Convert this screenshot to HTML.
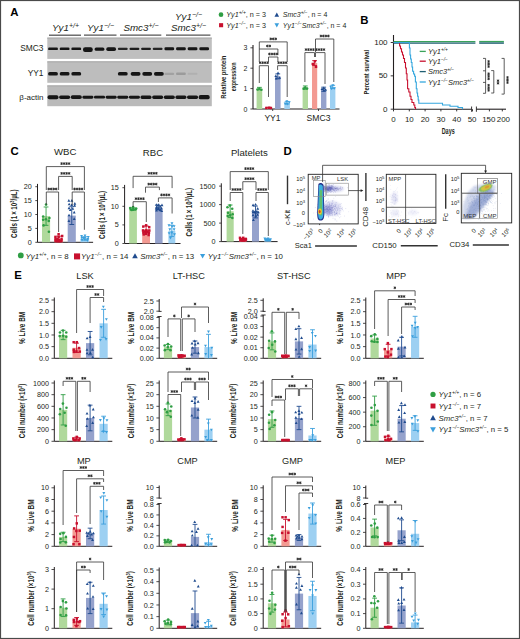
<!DOCTYPE html><html><head><meta charset="utf-8"><title>Figure</title><style>html,body{margin:0;padding:0;background:#fff;width:520px;height:639px;overflow:hidden;}svg{display:block;font-family:"Liberation Sans",sans-serif;}</style></head><body><svg width="520" height="639" viewBox="0 0 520 639" font-family='"Liberation Sans", sans-serif'><rect width="520" height="639" fill="#fff"/><defs><filter id="bl" x="-20%" y="-50%" width="140%" height="200%"><feGaussianBlur stdDeviation="0.55"/></filter><filter id="b1" x="-50%" y="-50%" width="200%" height="200%"><feGaussianBlur stdDeviation="1.1"/></filter><filter id="b0" x="-50%" y="-50%" width="200%" height="200%"><feGaussianBlur stdDeviation="0.5"/></filter></defs>
<text x="10.30" y="15.90" font-size="11.4" text-anchor="start" font-weight="bold" font-style="normal" fill="#000">A</text>
<text x="65.50" y="30.80" font-size="9.8" text-anchor="middle" font-weight="normal" font-style="italic" fill="#231f20">Yy1<tspan baseline-shift="3.1" font-size="7.0">+/+</tspan></text>
<text x="100.50" y="30.80" font-size="9.8" text-anchor="middle" font-weight="normal" font-style="italic" fill="#231f20">Yy1<tspan baseline-shift="3.1" font-size="7.0">&#8722;/&#8722;</tspan></text>
<text x="141.00" y="30.80" font-size="9.8" text-anchor="middle" font-weight="normal" font-style="italic" fill="#231f20">Smc3<tspan baseline-shift="3.1" font-size="7.0">+/&#8722;</tspan></text>
<text x="188.50" y="20.20" font-size="9.8" text-anchor="middle" font-weight="normal" font-style="italic" fill="#231f20">Yy1<tspan baseline-shift="3.1" font-size="7.0">&#8722;/&#8722;</tspan></text>
<text x="188.50" y="30.80" font-size="9.8" text-anchor="middle" font-weight="normal" font-style="italic" fill="#231f20">Smc3<tspan baseline-shift="3.1" font-size="7.0">+/&#8722;</tspan></text>
<line x1="49.00" y1="35.20" x2="81.00" y2="35.20" stroke="#555" stroke-width="1.3"/>
<line x1="84.00" y1="35.20" x2="116.50" y2="35.20" stroke="#555" stroke-width="1.3"/>
<line x1="120.00" y1="35.20" x2="161.30" y2="35.20" stroke="#555" stroke-width="1.3"/>
<line x1="166.00" y1="35.20" x2="210.40" y2="35.20" stroke="#555" stroke-width="1.3"/>
<rect x="47.30" y="37.60" width="164.50" height="21.30" fill="#bfbfbf"/>
<rect x="47.30" y="37.60" width="164.50" height="1.20" fill="#adadad"/>
<text x="43.50" y="51.25" font-size="8.4" text-anchor="end" font-weight="normal" font-style="normal" fill="#231f20">SMC3</text>
<rect x="47.30" y="61.30" width="164.50" height="21.50" fill="#bdbdbd"/>
<rect x="47.30" y="61.30" width="164.50" height="1.20" fill="#adadad"/>
<text x="43.50" y="76.25" font-size="8.4" text-anchor="end" font-weight="normal" font-style="normal" fill="#231f20">YY1</text>
<rect x="47.30" y="85.40" width="164.50" height="20.80" fill="#bababa"/>
<rect x="47.30" y="85.40" width="164.50" height="1.20" fill="#adadad"/>
<text x="43.50" y="100.20" font-size="8.0" text-anchor="end" font-weight="normal" font-style="normal" fill="#231f20">&#946;-actin</text>
<rect x="48.10" y="47.50" width="9.80" height="2.60" rx="1.18" fill="#151515" opacity="1.00" filter="url(#bl)"/>
<rect x="48.10" y="72.00" width="9.80" height="3.60" rx="1.64" fill="#151515" opacity="1.00" filter="url(#bl)"/>
<rect x="47.50" y="95.20" width="11.00" height="4.00" rx="1.82" fill="#151515" opacity="1.00" filter="url(#bl)"/>
<rect x="59.73" y="47.50" width="9.80" height="2.60" rx="1.18" fill="#151515" opacity="1.00" filter="url(#bl)"/>
<rect x="59.73" y="72.10" width="9.80" height="3.40" rx="1.55" fill="#151515" opacity="1.00" filter="url(#bl)"/>
<rect x="59.13" y="95.40" width="11.00" height="3.60" rx="1.64" fill="#151515" opacity="1.00" filter="url(#bl)"/>
<rect x="71.36" y="47.50" width="9.80" height="2.60" rx="1.18" fill="#151515" opacity="1.00" filter="url(#bl)"/>
<rect x="71.36" y="72.10" width="9.80" height="3.40" rx="1.55" fill="#151515" opacity="1.00" filter="url(#bl)"/>
<rect x="70.76" y="95.30" width="11.00" height="3.80" rx="1.73" fill="#151515" opacity="1.00" filter="url(#bl)"/>
<rect x="82.99" y="47.20" width="9.80" height="4.80" rx="2.18" fill="#151515" opacity="1.00" filter="url(#bl)"/>
<rect x="82.39" y="95.70" width="11.00" height="3.00" rx="1.36" fill="#151515" opacity="1.00" filter="url(#bl)"/>
<rect x="94.62" y="47.40" width="9.80" height="3.40" rx="1.55" fill="#151515" opacity="1.00" filter="url(#bl)"/>
<rect x="94.02" y="95.80" width="11.00" height="2.80" rx="1.27" fill="#151515" opacity="1.00" filter="url(#bl)"/>
<rect x="106.25" y="47.20" width="9.80" height="3.80" rx="1.73" fill="#151515" opacity="1.00" filter="url(#bl)"/>
<rect x="105.65" y="95.70" width="11.00" height="3.00" rx="1.36" fill="#151515" opacity="1.00" filter="url(#bl)"/>
<rect x="117.88" y="47.70" width="9.80" height="2.20" rx="1.00" fill="#151515" opacity="0.90" filter="url(#bl)"/>
<rect x="117.88" y="72.00" width="9.80" height="3.60" rx="1.64" fill="#151515" opacity="1.00" filter="url(#bl)"/>
<rect x="117.28" y="95.70" width="11.00" height="3.00" rx="1.36" fill="#151515" opacity="1.00" filter="url(#bl)"/>
<rect x="129.51" y="47.70" width="9.80" height="2.20" rx="1.00" fill="#151515" opacity="0.95" filter="url(#bl)"/>
<rect x="130.71" y="71.95" width="9.80" height="3.70" rx="1.68" fill="#151515" opacity="1.00" filter="url(#bl)"/>
<rect x="128.91" y="95.65" width="11.00" height="3.10" rx="1.41" fill="#151515" opacity="1.00" filter="url(#bl)"/>
<rect x="141.14" y="47.65" width="9.80" height="2.30" rx="1.05" fill="#151515" opacity="0.95" filter="url(#bl)"/>
<rect x="142.34" y="71.90" width="9.80" height="3.80" rx="1.73" fill="#151515" opacity="1.00" filter="url(#bl)"/>
<rect x="140.54" y="95.50" width="11.00" height="3.40" rx="1.55" fill="#151515" opacity="1.00" filter="url(#bl)"/>
<rect x="152.77" y="47.70" width="9.80" height="2.20" rx="1.00" fill="#151515" opacity="0.90" filter="url(#bl)"/>
<rect x="153.97" y="71.90" width="9.80" height="3.80" rx="1.73" fill="#151515" opacity="1.00" filter="url(#bl)"/>
<rect x="152.17" y="95.50" width="11.00" height="3.40" rx="1.55" fill="#151515" opacity="1.00" filter="url(#bl)"/>
<rect x="164.40" y="47.30" width="9.80" height="3.00" rx="1.36" fill="#151515" opacity="1.00" filter="url(#bl)"/>
<rect x="164.40" y="72.70" width="9.80" height="2.20" rx="1.00" fill="#151515" opacity="0.16" filter="url(#bl)"/>
<rect x="163.80" y="95.40" width="11.00" height="3.60" rx="1.64" fill="#151515" opacity="1.00" filter="url(#bl)"/>
<rect x="176.03" y="47.35" width="9.80" height="2.90" rx="1.32" fill="#151515" opacity="1.00" filter="url(#bl)"/>
<rect x="176.03" y="72.60" width="9.80" height="2.40" rx="1.09" fill="#151515" opacity="0.20" filter="url(#bl)"/>
<rect x="175.43" y="95.40" width="11.00" height="3.60" rx="1.64" fill="#151515" opacity="1.00" filter="url(#bl)"/>
<rect x="187.66" y="47.25" width="9.80" height="3.10" rx="1.41" fill="#151515" opacity="1.00" filter="url(#bl)"/>
<rect x="187.66" y="72.80" width="9.80" height="2.00" rx="0.91" fill="#151515" opacity="0.07" filter="url(#bl)"/>
<rect x="187.06" y="95.50" width="11.00" height="3.40" rx="1.55" fill="#151515" opacity="1.00" filter="url(#bl)"/>
<rect x="199.29" y="47.25" width="9.80" height="3.10" rx="1.41" fill="#151515" opacity="1.00" filter="url(#bl)"/>
<rect x="198.69" y="95.10" width="11.00" height="4.20" rx="1.91" fill="#151515" opacity="1.00" filter="url(#bl)"/>
<circle cx="221.00" cy="14.70" r="2.34" fill="#2f9e44"/>
<text x="0.00" y="0.00" font-size="7.0" text-anchor="start" font-weight="normal" font-style="italic" fill="#231f20" transform="translate(226.30,17.40) scale(1.03,1)">Yy1<tspan baseline-shift="2.7" font-size="4.8">+/+</tspan><tspan font-style="normal">, n = 3</tspan></text>
<rect x="219.06" y="23.16" width="4.08" height="4.08" fill="#c8102e"/>
<text x="0.00" y="0.00" font-size="7.0" text-anchor="start" font-weight="normal" font-style="italic" fill="#231f20" transform="translate(226.30,28.20) scale(1.03,1)">Yy1<tspan baseline-shift="2.7" font-size="4.8">&#8722;/&#8722;</tspan><tspan font-style="normal">, n = 3</tspan></text>
<polygon points="276.80,12.50 279.10,16.64 274.50,16.64" fill="#1f4b8e"/>
<text x="282.80" y="17.30" font-size="7.0" text-anchor="start" font-weight="normal" font-style="italic" fill="#231f20">Smc3<tspan baseline-shift="2.7" font-size="4.8">+/&#8722;</tspan><tspan font-style="normal">, n = 4</tspan></text>
<polygon points="276.80,27.50 279.10,23.36 274.50,23.36" fill="#3b9fdc"/>
<text x="282.80" y="28.20" font-size="7.0" text-anchor="start" font-weight="normal" font-style="italic" fill="#231f20">Yy1<tspan baseline-shift="2.7" font-size="4.8">&#8722;/&#8722;</tspan>Smc3<tspan baseline-shift="2.7" font-size="4.8">+/&#8722;</tspan><tspan font-style="normal">, n = 4</tspan></text>
<line x1="253.00" y1="45.00" x2="253.00" y2="109.00" stroke="#231f20" stroke-width="1.1"/>
<line x1="250.40" y1="109.00" x2="253.00" y2="109.00" stroke="#231f20" stroke-width="0.8"/>
<text x="247.40" y="111.52" font-size="7.0" text-anchor="end" font-weight="normal" font-style="normal" fill="#231f20">0</text>
<line x1="250.40" y1="88.60" x2="253.00" y2="88.60" stroke="#231f20" stroke-width="0.8"/>
<text x="247.40" y="91.12" font-size="7.0" text-anchor="end" font-weight="normal" font-style="normal" fill="#231f20">1</text>
<line x1="250.40" y1="68.20" x2="253.00" y2="68.20" stroke="#231f20" stroke-width="0.8"/>
<text x="247.40" y="70.72" font-size="7.0" text-anchor="end" font-weight="normal" font-style="normal" fill="#231f20">2</text>
<line x1="250.40" y1="47.80" x2="253.00" y2="47.80" stroke="#231f20" stroke-width="0.8"/>
<text x="247.40" y="50.32" font-size="7.0" text-anchor="end" font-weight="normal" font-style="normal" fill="#231f20">3</text>
<line x1="253.00" y1="109.00" x2="339.50" y2="109.00" stroke="#231f20" stroke-width="1.1"/>
<line x1="272.70" y1="109.00" x2="272.70" y2="111.00" stroke="#231f20" stroke-width="0.8"/>
<line x1="318.50" y1="109.00" x2="318.50" y2="111.00" stroke="#231f20" stroke-width="0.8"/>
<text x="272.50" y="121.20" font-size="8.6" text-anchor="middle" font-weight="normal" font-style="normal" fill="#231f20">YY1</text>
<text x="318.50" y="121.20" font-size="8.6" text-anchor="middle" font-weight="normal" font-style="normal" fill="#231f20">SMC3</text>
<text x="0.00" y="0.00" font-size="7.4" text-anchor="middle" font-weight="bold" font-style="normal" fill="#231f20" transform="translate(226.20,77.20) rotate(-90)" textLength="43" lengthAdjust="spacingAndGlyphs">Relative protein</text>
<text x="0.00" y="0.00" font-size="7.4" text-anchor="middle" font-weight="bold" font-style="normal" fill="#231f20" transform="translate(236.40,76.90) rotate(-90)" textLength="28.8" lengthAdjust="spacingAndGlyphs">expression</text>
<rect x="256.60" y="88.60" width="5.60" height="20.40" fill="#b0d99c"/>
<circle cx="259.41" cy="88.74" r="1.30" fill="#2f9e44"/>
<circle cx="257.53" cy="89.55" r="1.30" fill="#2f9e44"/>
<circle cx="261.40" cy="89.70" r="1.30" fill="#2f9e44"/>
<line x1="259.40" y1="87.38" x2="259.40" y2="89.82" stroke="#2f9e44" stroke-width="0.9"/>
<line x1="257.00" y1="87.38" x2="261.80" y2="87.38" stroke="#2f9e44" stroke-width="0.9"/>
<line x1="257.00" y1="89.82" x2="261.80" y2="89.82" stroke="#2f9e44" stroke-width="0.9"/>
<rect x="265.80" y="107.98" width="6.00" height="1.02" fill="#f39a92"/>
<rect x="267.83" y="106.51" width="2.46" height="2.46" fill="#c8102e"/>
<rect x="265.11" y="106.73" width="2.46" height="2.46" fill="#c8102e"/>
<rect x="269.68" y="106.77" width="2.46" height="2.46" fill="#c8102e"/>
<line x1="268.80" y1="107.37" x2="268.80" y2="108.59" stroke="#c8102e" stroke-width="0.9"/>
<line x1="266.40" y1="107.37" x2="271.20" y2="107.37" stroke="#c8102e" stroke-width="0.9"/>
<rect x="275.00" y="76.36" width="5.60" height="32.64" fill="#95a2cc"/>
<polygon points="278.04,71.46 279.49,74.07 276.59,74.07" fill="#1f4b8e"/>
<polygon points="275.83,74.40 277.28,77.01 274.38,77.01" fill="#1f4b8e"/>
<polygon points="279.66,76.24 281.11,78.85 278.21,78.85" fill="#1f4b8e"/>
<polygon points="276.23,76.88 277.68,79.49 274.78,79.49" fill="#1f4b8e"/>
<line x1="277.80" y1="73.91" x2="277.80" y2="78.81" stroke="#1f4b8e" stroke-width="0.9"/>
<line x1="275.40" y1="73.91" x2="280.20" y2="73.91" stroke="#1f4b8e" stroke-width="0.9"/>
<line x1="275.40" y1="78.81" x2="280.20" y2="78.81" stroke="#1f4b8e" stroke-width="0.9"/>
<rect x="284.30" y="102.88" width="5.60" height="6.12" fill="#9dd0f2"/>
<polygon points="286.87,102.97 288.32,100.36 285.42,100.36" fill="#3b9fdc"/>
<polygon points="289.27,103.85 290.72,101.24 287.82,101.24" fill="#3b9fdc"/>
<polygon points="285.15,105.04 286.60,102.43 283.70,102.43" fill="#3b9fdc"/>
<polygon points="287.25,105.50 288.70,102.89 285.80,102.89" fill="#3b9fdc"/>
<line x1="287.10" y1="101.66" x2="287.10" y2="104.10" stroke="#3b9fdc" stroke-width="0.9"/>
<line x1="284.70" y1="101.66" x2="289.50" y2="101.66" stroke="#3b9fdc" stroke-width="0.9"/>
<line x1="284.70" y1="104.10" x2="289.50" y2="104.10" stroke="#3b9fdc" stroke-width="0.9"/>
<rect x="302.60" y="87.58" width="5.40" height="21.42" fill="#b0d99c"/>
<circle cx="305.21" cy="87.60" r="1.30" fill="#2f9e44"/>
<circle cx="307.08" cy="88.43" r="1.30" fill="#2f9e44"/>
<circle cx="303.66" cy="88.64" r="1.30" fill="#2f9e44"/>
<line x1="305.30" y1="85.95" x2="305.30" y2="89.21" stroke="#2f9e44" stroke-width="0.9"/>
<line x1="302.90" y1="85.95" x2="307.70" y2="85.95" stroke="#2f9e44" stroke-width="0.9"/>
<line x1="302.90" y1="89.21" x2="307.70" y2="89.21" stroke="#2f9e44" stroke-width="0.9"/>
<rect x="312.00" y="63.10" width="5.20" height="45.90" fill="#f39a92"/>
<rect x="313.66" y="60.06" width="2.46" height="2.46" fill="#c8102e"/>
<rect x="311.55" y="62.73" width="2.46" height="2.46" fill="#c8102e"/>
<rect x="314.77" y="65.59" width="2.46" height="2.46" fill="#c8102e"/>
<line x1="314.60" y1="60.65" x2="314.60" y2="65.55" stroke="#c8102e" stroke-width="0.9"/>
<line x1="312.20" y1="60.65" x2="317.00" y2="60.65" stroke="#c8102e" stroke-width="0.9"/>
<line x1="312.20" y1="65.55" x2="317.00" y2="65.55" stroke="#c8102e" stroke-width="0.9"/>
<rect x="321.00" y="89.21" width="5.40" height="19.79" fill="#95a2cc"/>
<polygon points="323.80,86.50 325.25,89.11 322.35,89.11" fill="#1f4b8e"/>
<polygon points="322.04,87.37 323.49,89.98 320.59,89.98" fill="#1f4b8e"/>
<polygon points="325.50,88.02 326.95,90.63 324.05,90.63" fill="#1f4b8e"/>
<polygon points="323.87,88.95 325.32,91.56 322.42,91.56" fill="#1f4b8e"/>
<line x1="323.70" y1="87.17" x2="323.70" y2="91.25" stroke="#1f4b8e" stroke-width="0.9"/>
<line x1="321.30" y1="87.17" x2="326.10" y2="87.17" stroke="#1f4b8e" stroke-width="0.9"/>
<line x1="321.30" y1="91.25" x2="326.10" y2="91.25" stroke="#1f4b8e" stroke-width="0.9"/>
<rect x="330.00" y="86.97" width="5.40" height="22.03" fill="#9dd0f2"/>
<polygon points="332.86,86.79 334.31,84.18 331.41,84.18" fill="#3b9fdc"/>
<polygon points="330.73,88.35 332.18,85.74 329.28,85.74" fill="#3b9fdc"/>
<polygon points="334.37,89.86 335.82,87.25 332.92,87.25" fill="#3b9fdc"/>
<polygon points="331.61,90.14 333.06,87.53 330.16,87.53" fill="#3b9fdc"/>
<line x1="332.70" y1="85.34" x2="332.70" y2="88.60" stroke="#3b9fdc" stroke-width="0.9"/>
<line x1="330.30" y1="85.34" x2="335.10" y2="85.34" stroke="#3b9fdc" stroke-width="0.9"/>
<line x1="330.30" y1="88.60" x2="335.10" y2="88.60" stroke="#3b9fdc" stroke-width="0.9"/>
<polyline points="259.30,83.00 259.30,65.70 268.50,65.70 268.50,97.00" fill="none" stroke="#333" stroke-width="0.8"/>
<path d="M260.15 61.75L260.15 63.65M259.33 62.23L260.97 63.18M260.97 62.23L259.33 63.18" stroke="#2a2a2a" stroke-width="0.9" stroke-linecap="round"/>
<path d="M262.65 61.75L262.65 63.65M261.83 62.23L263.47 63.18M263.47 62.23L261.83 63.18" stroke="#2a2a2a" stroke-width="0.9" stroke-linecap="round"/>
<path d="M265.15 61.75L265.15 63.65M264.33 62.23L265.97 63.18M265.97 62.23L264.33 63.18" stroke="#2a2a2a" stroke-width="0.9" stroke-linecap="round"/>
<path d="M267.65 61.75L267.65 63.65M266.83 62.23L268.47 63.18M268.47 62.23L266.83 63.18" stroke="#2a2a2a" stroke-width="0.9" stroke-linecap="round"/>
<polyline points="277.60,70.00 277.60,65.70 287.20,65.70 287.20,97.00" fill="none" stroke="#333" stroke-width="0.8"/>
<path d="M278.65 61.75L278.65 63.65M277.83 62.23L279.47 63.18M279.47 62.23L277.83 63.18" stroke="#2a2a2a" stroke-width="0.9" stroke-linecap="round"/>
<path d="M281.15 61.75L281.15 63.65M280.33 62.23L281.97 63.18M281.97 62.23L280.33 63.18" stroke="#2a2a2a" stroke-width="0.9" stroke-linecap="round"/>
<path d="M283.65 61.75L283.65 63.65M282.83 62.23L284.47 63.18M284.47 62.23L282.83 63.18" stroke="#2a2a2a" stroke-width="0.9" stroke-linecap="round"/>
<path d="M286.15 61.75L286.15 63.65M285.33 62.23L286.97 63.18M286.97 62.23L285.33 63.18" stroke="#2a2a2a" stroke-width="0.9" stroke-linecap="round"/>
<polyline points="268.50,62.00 268.50,57.00 277.90,57.00 277.90,62.00" fill="none" stroke="#333" stroke-width="0.8"/>
<path d="M269.45 53.05L269.45 54.95M268.63 53.52L270.27 54.48M270.27 53.52L268.63 54.48" stroke="#2a2a2a" stroke-width="0.9" stroke-linecap="round"/>
<path d="M271.95 53.05L271.95 54.95M271.13 53.52L272.77 54.48M272.77 53.52L271.13 54.48" stroke="#2a2a2a" stroke-width="0.9" stroke-linecap="round"/>
<path d="M274.45 53.05L274.45 54.95M273.63 53.52L275.27 54.48M275.27 53.52L273.63 54.48" stroke="#2a2a2a" stroke-width="0.9" stroke-linecap="round"/>
<path d="M276.95 53.05L276.95 54.95M276.13 53.52L277.77 54.48M277.77 53.52L276.13 54.48" stroke="#2a2a2a" stroke-width="0.9" stroke-linecap="round"/>
<polyline points="259.30,62.00 259.30,49.00 277.90,49.00 277.90,55.00" fill="none" stroke="#333" stroke-width="0.8"/>
<path d="M267.35 45.05L267.35 46.95M266.53 45.52L268.17 46.48M268.17 45.52L266.53 46.48" stroke="#2a2a2a" stroke-width="0.9" stroke-linecap="round"/>
<path d="M269.85 45.05L269.85 46.95M269.03 45.52L270.67 46.48M270.67 45.52L269.03 46.48" stroke="#2a2a2a" stroke-width="0.9" stroke-linecap="round"/>
<polyline points="259.30,49.00 259.30,41.90 287.20,41.90 287.20,62.00" fill="none" stroke="#333" stroke-width="0.8"/>
<path d="M270.75 37.95L270.75 39.85M269.93 38.42L271.57 39.38M271.57 38.42L269.93 39.38" stroke="#2a2a2a" stroke-width="0.9" stroke-linecap="round"/>
<path d="M273.25 37.95L273.25 39.85M272.43 38.42L274.07 39.38M274.07 38.42L272.43 39.38" stroke="#2a2a2a" stroke-width="0.9" stroke-linecap="round"/>
<path d="M275.75 37.95L275.75 39.85M274.93 38.42L276.57 39.38M276.57 38.42L274.93 39.38" stroke="#2a2a2a" stroke-width="0.9" stroke-linecap="round"/>
<polyline points="304.90,82.00 304.90,52.60 314.50,52.60 314.50,57.00" fill="none" stroke="#333" stroke-width="0.8"/>
<path d="M305.95 48.65L305.95 50.55M305.13 49.12L306.77 50.08M306.77 49.12L305.13 50.08" stroke="#2a2a2a" stroke-width="0.9" stroke-linecap="round"/>
<path d="M308.45 48.65L308.45 50.55M307.63 49.12L309.27 50.08M309.27 49.12L307.63 50.08" stroke="#2a2a2a" stroke-width="0.9" stroke-linecap="round"/>
<path d="M310.95 48.65L310.95 50.55M310.13 49.12L311.77 50.08M311.77 49.12L310.13 50.08" stroke="#2a2a2a" stroke-width="0.9" stroke-linecap="round"/>
<path d="M313.45 48.65L313.45 50.55M312.63 49.12L314.27 50.08M314.27 49.12L312.63 50.08" stroke="#2a2a2a" stroke-width="0.9" stroke-linecap="round"/>
<polyline points="315.50,57.00 315.50,52.60 325.00,52.60 325.00,84.00" fill="none" stroke="#333" stroke-width="0.8"/>
<path d="M316.50 48.65L316.50 50.55M315.68 49.12L317.32 50.08M317.32 49.12L315.68 50.08" stroke="#2a2a2a" stroke-width="0.9" stroke-linecap="round"/>
<path d="M319.00 48.65L319.00 50.55M318.18 49.12L319.82 50.08M319.82 49.12L318.18 50.08" stroke="#2a2a2a" stroke-width="0.9" stroke-linecap="round"/>
<path d="M321.50 48.65L321.50 50.55M320.68 49.12L322.32 50.08M322.32 49.12L320.68 50.08" stroke="#2a2a2a" stroke-width="0.9" stroke-linecap="round"/>
<path d="M324.00 48.65L324.00 50.55M323.18 49.12L324.82 50.08M324.82 49.12L323.18 50.08" stroke="#2a2a2a" stroke-width="0.9" stroke-linecap="round"/>
<polyline points="315.50,52.00 315.50,39.00 333.80,39.00 333.80,82.00" fill="none" stroke="#333" stroke-width="0.8"/>
<path d="M320.90 35.05L320.90 36.95M320.08 35.52L321.72 36.48M321.72 35.52L320.08 36.48" stroke="#2a2a2a" stroke-width="0.9" stroke-linecap="round"/>
<path d="M323.40 35.05L323.40 36.95M322.58 35.52L324.22 36.48M324.22 35.52L322.58 36.48" stroke="#2a2a2a" stroke-width="0.9" stroke-linecap="round"/>
<path d="M325.90 35.05L325.90 36.95M325.08 35.52L326.72 36.48M326.72 35.52L325.08 36.48" stroke="#2a2a2a" stroke-width="0.9" stroke-linecap="round"/>
<path d="M328.40 35.05L328.40 36.95M327.58 35.52L329.22 36.48M329.22 35.52L327.58 36.48" stroke="#2a2a2a" stroke-width="0.9" stroke-linecap="round"/>
<text x="360.20" y="24.10" font-size="11.4" text-anchor="start" font-weight="bold" font-style="normal" fill="#000">B</text>
<line x1="393.50" y1="35.00" x2="393.50" y2="109.20" stroke="#231f20" stroke-width="1.1"/>
<line x1="390.70" y1="42.50" x2="393.50" y2="42.50" stroke="#231f20" stroke-width="0.9"/>
<text x="0.00" y="0.00" font-size="6.9" text-anchor="end" font-weight="normal" font-style="normal" fill="#231f20" transform="translate(387.60,45.00) scale(1.17,1)">100</text>
<line x1="390.70" y1="75.85" x2="393.50" y2="75.85" stroke="#231f20" stroke-width="0.9"/>
<text x="0.00" y="0.00" font-size="6.9" text-anchor="end" font-weight="normal" font-style="normal" fill="#231f20" transform="translate(387.60,78.35) scale(1.17,1)">50</text>
<line x1="390.70" y1="109.20" x2="393.50" y2="109.20" stroke="#231f20" stroke-width="0.9"/>
<text x="0.00" y="0.00" font-size="6.9" text-anchor="end" font-weight="normal" font-style="normal" fill="#231f20" transform="translate(387.60,111.70) scale(1.17,1)">0</text>
<line x1="393.50" y1="109.20" x2="471.60" y2="109.20" stroke="#231f20" stroke-width="1.1"/>
<line x1="476.40" y1="109.20" x2="506.00" y2="109.20" stroke="#231f20" stroke-width="1.1"/>
<line x1="471.60" y1="106.50" x2="471.60" y2="111.80" stroke="#231f20" stroke-width="0.9"/>
<line x1="476.40" y1="106.50" x2="476.40" y2="111.80" stroke="#231f20" stroke-width="0.9"/>
<line x1="393.50" y1="109.20" x2="393.50" y2="111.40" stroke="#231f20" stroke-width="0.9"/>
<text x="0.00" y="0.00" font-size="6.8" text-anchor="middle" font-weight="normal" font-style="normal" fill="#231f20" transform="translate(393.50,121.50) scale(1.17,1)">0</text>
<line x1="409.30" y1="109.20" x2="409.30" y2="111.40" stroke="#231f20" stroke-width="0.9"/>
<text x="0.00" y="0.00" font-size="6.8" text-anchor="middle" font-weight="normal" font-style="normal" fill="#231f20" transform="translate(409.30,121.50) scale(1.17,1)">10</text>
<line x1="425.10" y1="109.20" x2="425.10" y2="111.40" stroke="#231f20" stroke-width="0.9"/>
<text x="0.00" y="0.00" font-size="6.8" text-anchor="middle" font-weight="normal" font-style="normal" fill="#231f20" transform="translate(425.10,121.50) scale(1.17,1)">20</text>
<line x1="440.90" y1="109.20" x2="440.90" y2="111.40" stroke="#231f20" stroke-width="0.9"/>
<text x="0.00" y="0.00" font-size="6.8" text-anchor="middle" font-weight="normal" font-style="normal" fill="#231f20" transform="translate(440.90,121.50) scale(1.17,1)">30</text>
<line x1="456.70" y1="109.20" x2="456.70" y2="111.40" stroke="#231f20" stroke-width="0.9"/>
<text x="0.00" y="0.00" font-size="6.8" text-anchor="middle" font-weight="normal" font-style="normal" fill="#231f20" transform="translate(456.70,121.50) scale(1.17,1)">40</text>
<line x1="472.50" y1="109.20" x2="472.50" y2="111.40" stroke="#231f20" stroke-width="0.9"/>
<text x="0.00" y="0.00" font-size="6.8" text-anchor="middle" font-weight="normal" font-style="normal" fill="#231f20" transform="translate(472.10,121.50) scale(1.17,1)">50</text>
<line x1="489.40" y1="109.20" x2="489.40" y2="111.40" stroke="#231f20" stroke-width="0.9"/>
<text x="0.00" y="0.00" font-size="6.8" text-anchor="middle" font-weight="normal" font-style="normal" fill="#231f20" transform="translate(488.80,121.50) scale(1.17,1)">150</text>
<line x1="502.30" y1="109.20" x2="502.30" y2="111.40" stroke="#231f20" stroke-width="0.9"/>
<text x="0.00" y="0.00" font-size="6.8" text-anchor="middle" font-weight="normal" font-style="normal" fill="#231f20" transform="translate(503.40,121.50) scale(1.17,1)">200</text>
<text x="448.20" y="133.80" font-size="8.4" text-anchor="middle" font-weight="bold" font-style="normal" fill="#231f20" textLength="13" lengthAdjust="spacingAndGlyphs">Days</text>
<text x="0.00" y="0.00" font-size="8.0" text-anchor="middle" font-weight="bold" font-style="normal" fill="#231f20" transform="translate(368.70,72.20) rotate(-90)" textLength="44.4" lengthAdjust="spacingAndGlyphs">Percent survival</text>
<line x1="393.50" y1="41.60" x2="475.40" y2="41.60" stroke="#3aa35a" stroke-width="1.4"/>
<line x1="479.20" y1="41.60" x2="503.90" y2="41.60" stroke="#3aa35a" stroke-width="1.4"/>
<line x1="393.50" y1="43.10" x2="475.40" y2="43.10" stroke="#1f5f72" stroke-width="1.4"/>
<line x1="479.20" y1="43.10" x2="503.90" y2="43.10" stroke="#1f5f72" stroke-width="1.4"/>
<polyline points="393.50,42.50 398.80,42.50 398.80,42.50 399.60,42.50 399.60,46.00 400.50,46.00 400.50,48.80 401.50,48.80 401.50,52.00 402.50,52.00 402.50,55.00 403.50,55.00 403.50,58.50 404.50,58.50 404.50,62.50 405.50,62.50 405.50,68.00 406.30,68.00 406.30,73.80 407.00,73.80 407.00,80.00 407.60,80.00 407.60,88.80 408.80,88.80 408.80,92.00 410.00,92.00 410.00,96.30 411.00,96.30 411.00,99.50 412.00,99.50 412.00,102.50 413.80,102.50 413.80,105.00 414.80,105.00 414.80,107.50 415.50,107.50 415.50,109.20" fill="none" stroke="#c8102e" stroke-width="1.1"/>
<polyline points="393.50,42.50 408.80,42.50 408.80,42.50 409.40,42.50 409.40,48.00 410.00,48.00 410.00,55.00 410.60,55.00 410.60,59.00 411.30,59.00 411.30,62.50 412.00,62.50 412.00,67.00 412.60,67.00 412.60,71.30 413.60,71.30 413.60,74.00 414.60,74.00 414.60,76.30 415.40,76.30 415.40,82.00 416.30,82.00 416.30,88.80 417.00,88.80 417.00,93.00 417.60,93.00 417.60,96.30 418.20,96.30 418.20,100.00 418.80,100.00 418.80,103.30 442.50,103.30 442.50,105.00 450.00,105.00 450.00,106.30 458.00,106.30 458.00,107.50 462.50,107.50 462.50,109.20" fill="none" stroke="#35a7de" stroke-width="1.1"/>
<line x1="419.70" y1="51.40" x2="425.80" y2="51.40" stroke="#3aa35a" stroke-width="1.3"/>
<text x="428.00" y="54.10" font-size="7.5" text-anchor="start" font-weight="normal" font-style="italic" fill="#231f20">Yy1<tspan baseline-shift="2.6" font-size="4.8">+/+</tspan></text>
<line x1="419.70" y1="61.20" x2="425.80" y2="61.20" stroke="#c8102e" stroke-width="1.3"/>
<text x="428.00" y="63.90" font-size="7.5" text-anchor="start" font-weight="normal" font-style="italic" fill="#231f20">Yy1<tspan baseline-shift="2.6" font-size="4.8">&#8722;/&#8722;</tspan></text>
<line x1="419.70" y1="71.60" x2="425.80" y2="71.60" stroke="#1f5f72" stroke-width="1.3"/>
<text x="428.00" y="74.30" font-size="7.5" text-anchor="start" font-weight="normal" font-style="italic" fill="#231f20">Smc3<tspan baseline-shift="2.6" font-size="4.8">+/&#8722;</tspan></text>
<line x1="419.70" y1="82.00" x2="425.80" y2="82.00" stroke="#35a7de" stroke-width="1.3"/>
<text x="428.00" y="84.70" font-size="7.5" text-anchor="start" font-weight="normal" font-style="italic" fill="#231f20">Yy1<tspan baseline-shift="2.6" font-size="4.8">&#8722;/&#8722;</tspan>Smc3<tspan baseline-shift="2.6" font-size="4.8">+/&#8722;</tspan></text>
<line x1="485.60" y1="58.40" x2="485.60" y2="93.30" stroke="#333" stroke-width="0.8"/>
<line x1="483.00" y1="58.40" x2="485.60" y2="58.40" stroke="#333" stroke-width="0.8"/>
<line x1="483.00" y1="70.80" x2="485.60" y2="70.80" stroke="#333" stroke-width="0.8"/>
<line x1="483.00" y1="82.40" x2="485.60" y2="82.40" stroke="#333" stroke-width="0.8"/>
<line x1="483.00" y1="93.30" x2="485.60" y2="93.30" stroke="#333" stroke-width="0.8"/>
<line x1="493.80" y1="70.60" x2="493.80" y2="93.00" stroke="#333" stroke-width="0.8"/>
<line x1="491.20" y1="70.60" x2="493.80" y2="70.60" stroke="#333" stroke-width="0.8"/>
<line x1="491.20" y1="93.00" x2="493.80" y2="93.00" stroke="#333" stroke-width="0.8"/>
<line x1="504.20" y1="58.40" x2="504.20" y2="94.10" stroke="#333" stroke-width="0.8"/>
<line x1="501.60" y1="58.40" x2="504.20" y2="58.40" stroke="#333" stroke-width="0.8"/>
<line x1="501.60" y1="94.10" x2="504.20" y2="94.10" stroke="#333" stroke-width="0.8"/>
<path d="M488.60 60.55L488.60 62.45M487.78 61.02L489.42 61.98M489.42 61.02L487.78 61.98" stroke="#2a2a2a" stroke-width="0.9" stroke-linecap="round"/>
<path d="M488.60 63.05L488.60 64.95M487.78 63.52L489.42 64.47M489.42 63.52L487.78 64.47" stroke="#2a2a2a" stroke-width="0.9" stroke-linecap="round"/>
<path d="M488.60 65.55L488.60 67.45M487.78 66.03L489.42 66.97M489.42 66.03L487.78 66.97" stroke="#2a2a2a" stroke-width="0.9" stroke-linecap="round"/>
<path d="M488.60 72.85L488.60 74.75M487.78 73.33L489.42 74.27M489.42 73.33L487.78 74.27" stroke="#2a2a2a" stroke-width="0.9" stroke-linecap="round"/>
<path d="M488.60 75.35L488.60 77.25M487.78 75.83L489.42 76.77M489.42 75.83L487.78 76.77" stroke="#2a2a2a" stroke-width="0.9" stroke-linecap="round"/>
<path d="M488.60 77.85L488.60 79.75M487.78 78.33L489.42 79.27M489.42 78.33L487.78 79.27" stroke="#2a2a2a" stroke-width="0.9" stroke-linecap="round"/>
<path d="M488.60 84.35L488.60 86.25M487.78 84.83L489.42 85.77M489.42 84.83L487.78 85.77" stroke="#2a2a2a" stroke-width="0.9" stroke-linecap="round"/>
<path d="M488.60 86.85L488.60 88.75M487.78 87.33L489.42 88.27M489.42 87.33L487.78 88.27" stroke="#2a2a2a" stroke-width="0.9" stroke-linecap="round"/>
<path d="M488.60 89.35L488.60 91.25M487.78 89.83L489.42 90.77M489.42 89.83L487.78 90.77" stroke="#2a2a2a" stroke-width="0.9" stroke-linecap="round"/>
<path d="M498.00 79.80L498.00 81.70M497.18 80.28L498.82 81.22M498.82 80.28L497.18 81.22" stroke="#2a2a2a" stroke-width="0.9" stroke-linecap="round"/>
<path d="M498.00 82.30L498.00 84.20M497.18 82.78L498.82 83.72M498.82 82.78L497.18 83.72" stroke="#2a2a2a" stroke-width="0.9" stroke-linecap="round"/>
<path d="M507.50 76.55L507.50 78.45M506.68 77.03L508.32 77.97M508.32 77.03L506.68 77.97" stroke="#2a2a2a" stroke-width="0.9" stroke-linecap="round"/>
<path d="M507.50 79.05L507.50 80.95M506.68 79.53L508.32 80.47M508.32 79.53L506.68 80.47" stroke="#2a2a2a" stroke-width="0.9" stroke-linecap="round"/>
<path d="M507.50 81.55L507.50 83.45M506.68 82.03L508.32 82.97M508.32 82.03L506.68 82.97" stroke="#2a2a2a" stroke-width="0.9" stroke-linecap="round"/>
<text x="10.60" y="154.60" font-size="11.4" text-anchor="start" font-weight="bold" font-style="normal" fill="#000">C</text>
<text x="65.20" y="155.30" font-size="9.6" text-anchor="middle" font-weight="normal" font-style="normal" fill="#231f20">WBC</text>
<text x="153.00" y="155.80" font-size="9.6" text-anchor="middle" font-weight="normal" font-style="normal" fill="#231f20">RBC</text>
<text x="249.30" y="156.40" font-size="9.6" text-anchor="middle" font-weight="normal" font-style="normal" fill="#231f20">Platelets</text>
<line x1="37.50" y1="183.90" x2="37.50" y2="242.30" stroke="#231f20" stroke-width="1.0"/>
<line x1="35.30" y1="242.30" x2="37.50" y2="242.30" stroke="#231f20" stroke-width="0.8"/>
<text x="31.70" y="244.89" font-size="7.2" text-anchor="end" font-weight="normal" font-style="normal" fill="#231f20">0</text>
<line x1="35.30" y1="228.40" x2="37.50" y2="228.40" stroke="#231f20" stroke-width="0.8"/>
<text x="31.70" y="230.99" font-size="7.2" text-anchor="end" font-weight="normal" font-style="normal" fill="#231f20">5</text>
<line x1="35.30" y1="214.50" x2="37.50" y2="214.50" stroke="#231f20" stroke-width="0.8"/>
<text x="31.70" y="217.09" font-size="7.2" text-anchor="end" font-weight="normal" font-style="normal" fill="#231f20">10</text>
<line x1="35.30" y1="200.60" x2="37.50" y2="200.60" stroke="#231f20" stroke-width="0.8"/>
<text x="31.70" y="203.19" font-size="7.2" text-anchor="end" font-weight="normal" font-style="normal" fill="#231f20">15</text>
<line x1="35.30" y1="186.70" x2="37.50" y2="186.70" stroke="#231f20" stroke-width="0.8"/>
<text x="31.70" y="189.29" font-size="7.2" text-anchor="end" font-weight="normal" font-style="normal" fill="#231f20">20</text>
<line x1="37.50" y1="242.30" x2="93.10" y2="242.30" stroke="#231f20" stroke-width="1.0"/>
<rect x="42.00" y="216.17" width="8.10" height="26.13" fill="#b0d99c"/>
<circle cx="46.06" cy="204.60" r="1.30" fill="#2f9e44"/>
<circle cx="43.16" cy="216.53" r="1.30" fill="#2f9e44"/>
<circle cx="49.40" cy="218.04" r="1.30" fill="#2f9e44"/>
<circle cx="45.92" cy="219.23" r="1.30" fill="#2f9e44"/>
<circle cx="43.13" cy="219.81" r="1.30" fill="#2f9e44"/>
<circle cx="48.76" cy="220.91" r="1.30" fill="#2f9e44"/>
<circle cx="43.55" cy="225.39" r="1.30" fill="#2f9e44"/>
<circle cx="48.89" cy="231.76" r="1.30" fill="#2f9e44"/>
<line x1="46.05" y1="206.99" x2="46.05" y2="225.34" stroke="#2f9e44" stroke-width="0.9"/>
<line x1="43.65" y1="206.99" x2="48.45" y2="206.99" stroke="#2f9e44" stroke-width="0.9"/>
<line x1="43.65" y1="225.34" x2="48.45" y2="225.34" stroke="#2f9e44" stroke-width="0.9"/>
<rect x="54.50" y="238.96" width="8.60" height="3.34" fill="#f39a92"/>
<rect x="57.38" y="233.02" width="2.46" height="2.46" fill="#c8102e"/>
<rect x="60.93" y="234.74" width="2.46" height="2.46" fill="#c8102e"/>
<rect x="54.20" y="235.65" width="2.46" height="2.46" fill="#c8102e"/>
<rect x="57.39" y="235.65" width="2.46" height="2.46" fill="#c8102e"/>
<rect x="60.31" y="237.65" width="2.46" height="2.46" fill="#c8102e"/>
<rect x="56.19" y="237.81" width="2.46" height="2.46" fill="#c8102e"/>
<rect x="54.29" y="237.84" width="2.46" height="2.46" fill="#c8102e"/>
<rect x="57.54" y="238.69" width="2.46" height="2.46" fill="#c8102e"/>
<rect x="54.67" y="239.54" width="2.46" height="2.46" fill="#c8102e"/>
<rect x="60.17" y="239.71" width="2.46" height="2.46" fill="#c8102e"/>
<rect x="56.31" y="239.81" width="2.46" height="2.46" fill="#c8102e"/>
<rect x="57.46" y="239.87" width="2.46" height="2.46" fill="#c8102e"/>
<rect x="59.05" y="239.87" width="2.46" height="2.46" fill="#c8102e"/>
<rect x="54.47" y="239.87" width="2.46" height="2.46" fill="#c8102e"/>
<line x1="58.80" y1="236.18" x2="58.80" y2="241.74" stroke="#c8102e" stroke-width="0.9"/>
<line x1="56.40" y1="236.18" x2="61.20" y2="236.18" stroke="#c8102e" stroke-width="0.9"/>
<line x1="56.40" y1="241.74" x2="61.20" y2="241.74" stroke="#c8102e" stroke-width="0.9"/>
<rect x="67.70" y="215.61" width="8.10" height="26.69" fill="#95a2cc"/>
<polygon points="71.86,199.04 73.31,201.65 70.41,201.65" fill="#1f4b8e"/>
<polygon points="68.84,199.04 70.29,201.65 67.39,201.65" fill="#1f4b8e"/>
<polygon points="74.84,202.08 76.29,204.69 73.39,204.69" fill="#1f4b8e"/>
<polygon points="69.16,202.66 70.61,205.27 67.71,205.27" fill="#1f4b8e"/>
<polygon points="71.69,203.48 73.14,206.09 70.24,206.09" fill="#1f4b8e"/>
<polygon points="74.64,204.06 76.09,206.67 73.19,206.67" fill="#1f4b8e"/>
<polygon points="69.03,206.58 70.48,209.19 67.58,209.19" fill="#1f4b8e"/>
<polygon points="72.83,207.21 74.28,209.82 71.38,209.82" fill="#1f4b8e"/>
<polygon points="70.31,208.44 71.76,211.05 68.86,211.05" fill="#1f4b8e"/>
<polygon points="74.20,210.87 75.65,213.48 72.75,213.48" fill="#1f4b8e"/>
<polygon points="69.05,213.64 70.50,216.25 67.60,216.25" fill="#1f4b8e"/>
<polygon points="74.20,217.28 75.65,219.89 72.75,219.89" fill="#1f4b8e"/>
<polygon points="68.92,219.27 70.37,221.88 67.47,221.88" fill="#1f4b8e"/>
<line x1="71.75" y1="206.72" x2="71.75" y2="224.51" stroke="#1f4b8e" stroke-width="0.9"/>
<line x1="69.35" y1="206.72" x2="74.15" y2="206.72" stroke="#1f4b8e" stroke-width="0.9"/>
<line x1="69.35" y1="224.51" x2="74.15" y2="224.51" stroke="#1f4b8e" stroke-width="0.9"/>
<rect x="80.40" y="238.41" width="8.70" height="3.89" fill="#9dd0f2"/>
<polygon points="84.99,237.02 86.44,234.41 83.54,234.41" fill="#3b9fdc"/>
<polygon points="81.56,237.54 83.01,234.93 80.11,234.93" fill="#3b9fdc"/>
<polygon points="88.22,238.72 89.67,236.11 86.77,236.11" fill="#3b9fdc"/>
<polygon points="84.99,239.27 86.44,236.66 83.54,236.66" fill="#3b9fdc"/>
<polygon points="81.82,239.43 83.27,236.82 80.37,236.82" fill="#3b9fdc"/>
<polygon points="83.44,239.58 84.89,236.97 81.99,236.97" fill="#3b9fdc"/>
<polygon points="87.78,240.60 89.23,237.99 86.33,237.99" fill="#3b9fdc"/>
<polygon points="84.97,241.10 86.42,238.49 83.52,238.49" fill="#3b9fdc"/>
<polygon points="82.01,241.62 83.46,239.01 80.56,239.01" fill="#3b9fdc"/>
<polygon points="87.34,241.96 88.79,239.35 85.89,239.35" fill="#3b9fdc"/>
<line x1="84.75" y1="236.74" x2="84.75" y2="240.08" stroke="#3b9fdc" stroke-width="0.9"/>
<line x1="82.35" y1="236.74" x2="87.15" y2="236.74" stroke="#3b9fdc" stroke-width="0.9"/>
<line x1="82.35" y1="240.08" x2="87.15" y2="240.08" stroke="#3b9fdc" stroke-width="0.9"/>
<text x="0.00" y="0.00" font-size="8.6" text-anchor="middle" font-weight="bold" font-style="normal" fill="#231f20" transform="translate(17.00,213.70) rotate(-90)" textLength="48.7" lengthAdjust="spacingAndGlyphs">Cells (1&#8201;&#215;&#8201;10<tspan baseline-shift="2.8" font-size="5.6">3</tspan>/&#181;L)</text>
<polyline points="46.30,205.00 46.30,192.00 58.60,192.00 58.60,232.00" fill="none" stroke="#333" stroke-width="0.8"/>
<path d="M48.70 188.05L48.70 189.95M47.88 188.53L49.52 189.47M49.52 188.53L47.88 189.47" stroke="#2a2a2a" stroke-width="0.9" stroke-linecap="round"/>
<path d="M51.20 188.05L51.20 189.95M50.38 188.53L52.02 189.47M52.02 188.53L50.38 189.47" stroke="#2a2a2a" stroke-width="0.9" stroke-linecap="round"/>
<path d="M53.70 188.05L53.70 189.95M52.88 188.53L54.52 189.47M54.52 188.53L52.88 189.47" stroke="#2a2a2a" stroke-width="0.9" stroke-linecap="round"/>
<path d="M56.20 188.05L56.20 189.95M55.38 188.53L57.02 189.47M57.02 188.53L55.38 189.47" stroke="#2a2a2a" stroke-width="0.9" stroke-linecap="round"/>
<polyline points="72.20,205.00 72.20,192.00 84.40,192.00 84.40,229.80" fill="none" stroke="#333" stroke-width="0.8"/>
<path d="M74.55 188.05L74.55 189.95M73.73 188.53L75.37 189.47M75.37 188.53L73.73 189.47" stroke="#2a2a2a" stroke-width="0.9" stroke-linecap="round"/>
<path d="M77.05 188.05L77.05 189.95M76.23 188.53L77.87 189.47M77.87 188.53L76.23 189.47" stroke="#2a2a2a" stroke-width="0.9" stroke-linecap="round"/>
<path d="M79.55 188.05L79.55 189.95M78.73 188.53L80.37 189.47M80.37 188.53L78.73 189.47" stroke="#2a2a2a" stroke-width="0.9" stroke-linecap="round"/>
<path d="M82.05 188.05L82.05 189.95M81.23 188.53L82.87 189.47M82.87 188.53L81.23 189.47" stroke="#2a2a2a" stroke-width="0.9" stroke-linecap="round"/>
<polyline points="58.60,190.00 58.60,176.40 72.20,176.40 72.20,190.00" fill="none" stroke="#333" stroke-width="0.8"/>
<path d="M61.65 172.45L61.65 174.35M60.83 172.93L62.47 173.88M62.47 172.93L60.83 173.88" stroke="#2a2a2a" stroke-width="0.9" stroke-linecap="round"/>
<path d="M64.15 172.45L64.15 174.35M63.33 172.93L64.97 173.88M64.97 172.93L63.33 173.88" stroke="#2a2a2a" stroke-width="0.9" stroke-linecap="round"/>
<path d="M66.65 172.45L66.65 174.35M65.83 172.93L67.47 173.88M67.47 172.93L65.83 173.88" stroke="#2a2a2a" stroke-width="0.9" stroke-linecap="round"/>
<path d="M69.15 172.45L69.15 174.35M68.33 172.93L69.97 173.88M69.97 172.93L68.33 173.88" stroke="#2a2a2a" stroke-width="0.9" stroke-linecap="round"/>
<polyline points="46.30,190.00 46.30,166.60 84.40,166.60 84.40,190.00" fill="none" stroke="#333" stroke-width="0.8"/>
<path d="M61.60 162.65L61.60 164.55M60.78 163.12L62.42 164.07M62.42 163.12L60.78 164.07" stroke="#2a2a2a" stroke-width="0.9" stroke-linecap="round"/>
<path d="M64.10 162.65L64.10 164.55M63.28 163.12L64.92 164.07M64.92 163.12L63.28 164.07" stroke="#2a2a2a" stroke-width="0.9" stroke-linecap="round"/>
<path d="M66.60 162.65L66.60 164.55M65.78 163.12L67.42 164.07M67.42 163.12L65.78 164.07" stroke="#2a2a2a" stroke-width="0.9" stroke-linecap="round"/>
<path d="M69.10 162.65L69.10 164.55M68.28 163.12L69.92 164.07M69.92 163.12L68.28 164.07" stroke="#2a2a2a" stroke-width="0.9" stroke-linecap="round"/>
<line x1="124.60" y1="184.90" x2="124.60" y2="243.50" stroke="#231f20" stroke-width="1.0"/>
<line x1="122.40" y1="243.50" x2="124.60" y2="243.50" stroke="#231f20" stroke-width="0.8"/>
<text x="118.80" y="246.09" font-size="7.2" text-anchor="end" font-weight="normal" font-style="normal" fill="#231f20">0</text>
<line x1="122.40" y1="224.90" x2="124.60" y2="224.90" stroke="#231f20" stroke-width="0.8"/>
<text x="118.80" y="227.49" font-size="7.2" text-anchor="end" font-weight="normal" font-style="normal" fill="#231f20">5</text>
<line x1="122.40" y1="206.30" x2="124.60" y2="206.30" stroke="#231f20" stroke-width="0.8"/>
<text x="118.80" y="208.89" font-size="7.2" text-anchor="end" font-weight="normal" font-style="normal" fill="#231f20">10</text>
<line x1="122.40" y1="187.70" x2="124.60" y2="187.70" stroke="#231f20" stroke-width="0.8"/>
<text x="118.80" y="190.29" font-size="7.2" text-anchor="end" font-weight="normal" font-style="normal" fill="#231f20">15</text>
<line x1="124.60" y1="243.50" x2="180.50" y2="243.50" stroke="#231f20" stroke-width="1.0"/>
<rect x="129.20" y="208.90" width="7.70" height="34.60" fill="#b0d99c"/>
<circle cx="133.07" cy="207.01" r="1.30" fill="#2f9e44"/>
<circle cx="130.18" cy="208.03" r="1.30" fill="#2f9e44"/>
<circle cx="136.18" cy="208.58" r="1.30" fill="#2f9e44"/>
<circle cx="133.29" cy="208.74" r="1.30" fill="#2f9e44"/>
<circle cx="130.82" cy="209.46" r="1.30" fill="#2f9e44"/>
<circle cx="135.43" cy="209.56" r="1.30" fill="#2f9e44"/>
<circle cx="133.32" cy="209.76" r="1.30" fill="#2f9e44"/>
<circle cx="131.77" cy="210.02" r="1.30" fill="#2f9e44"/>
<line x1="133.05" y1="207.79" x2="133.05" y2="210.02" stroke="#2f9e44" stroke-width="0.9"/>
<line x1="130.65" y1="207.79" x2="135.45" y2="207.79" stroke="#2f9e44" stroke-width="0.9"/>
<line x1="130.65" y1="210.02" x2="135.45" y2="210.02" stroke="#2f9e44" stroke-width="0.9"/>
<rect x="142.20" y="229.36" width="7.80" height="14.14" fill="#f39a92"/>
<rect x="144.90" y="224.05" width="2.46" height="2.46" fill="#c8102e"/>
<rect x="142.05" y="225.34" width="2.46" height="2.46" fill="#c8102e"/>
<rect x="147.98" y="225.93" width="2.46" height="2.46" fill="#c8102e"/>
<rect x="145.09" y="229.13" width="2.46" height="2.46" fill="#c8102e"/>
<rect x="141.78" y="229.22" width="2.46" height="2.46" fill="#c8102e"/>
<rect x="148.11" y="229.31" width="2.46" height="2.46" fill="#c8102e"/>
<rect x="143.66" y="230.26" width="2.46" height="2.46" fill="#c8102e"/>
<rect x="146.26" y="230.37" width="2.46" height="2.46" fill="#c8102e"/>
<rect x="145.02" y="230.82" width="2.46" height="2.46" fill="#c8102e"/>
<rect x="142.16" y="231.21" width="2.46" height="2.46" fill="#c8102e"/>
<rect x="147.70" y="231.58" width="2.46" height="2.46" fill="#c8102e"/>
<rect x="144.79" y="232.61" width="2.46" height="2.46" fill="#c8102e"/>
<rect x="142.50" y="233.19" width="2.46" height="2.46" fill="#c8102e"/>
<rect x="147.41" y="233.82" width="2.46" height="2.46" fill="#c8102e"/>
<line x1="146.10" y1="226.02" x2="146.10" y2="232.71" stroke="#c8102e" stroke-width="0.9"/>
<line x1="143.70" y1="226.02" x2="148.50" y2="226.02" stroke="#c8102e" stroke-width="0.9"/>
<line x1="143.70" y1="232.71" x2="148.50" y2="232.71" stroke="#c8102e" stroke-width="0.9"/>
<rect x="155.10" y="207.79" width="7.50" height="35.71" fill="#95a2cc"/>
<polygon points="158.75,203.18 160.20,205.79 157.30,205.79" fill="#1f4b8e"/>
<polygon points="156.29,203.18 157.74,205.79 154.84,205.79" fill="#1f4b8e"/>
<polygon points="161.98,203.58 163.43,206.19 160.53,206.19" fill="#1f4b8e"/>
<polygon points="157.90,203.73 159.35,206.34 156.45,206.34" fill="#1f4b8e"/>
<polygon points="160.22,205.09 161.67,207.70 158.77,207.70" fill="#1f4b8e"/>
<polygon points="156.68,205.32 158.13,207.93 155.23,207.93" fill="#1f4b8e"/>
<polygon points="158.55,206.75 160.00,209.36 157.10,209.36" fill="#1f4b8e"/>
<polygon points="161.33,206.77 162.78,209.38 159.88,209.38" fill="#1f4b8e"/>
<polygon points="156.30,206.96 157.75,209.57 154.85,209.57" fill="#1f4b8e"/>
<polygon points="157.79,207.55 159.24,210.16 156.34,210.16" fill="#1f4b8e"/>
<polygon points="160.01,208.70 161.46,211.31 158.56,211.31" fill="#1f4b8e"/>
<polygon points="156.49,208.86 157.94,211.47 155.04,211.47" fill="#1f4b8e"/>
<polygon points="161.73,209.50 163.18,212.11 160.28,212.11" fill="#1f4b8e"/>
<line x1="158.85" y1="205.93" x2="158.85" y2="209.65" stroke="#1f4b8e" stroke-width="0.9"/>
<line x1="156.45" y1="205.93" x2="161.25" y2="205.93" stroke="#1f4b8e" stroke-width="0.9"/>
<line x1="156.45" y1="209.65" x2="161.25" y2="209.65" stroke="#1f4b8e" stroke-width="0.9"/>
<rect x="168.40" y="230.85" width="6.90" height="12.65" fill="#9dd0f2"/>
<polygon points="171.96,224.92 173.41,222.31 170.51,222.31" fill="#3b9fdc"/>
<polygon points="168.98,226.98 170.43,224.37 167.53,224.37" fill="#3b9fdc"/>
<polygon points="174.13,227.81 175.58,225.20 172.68,225.20" fill="#3b9fdc"/>
<polygon points="172.06,228.10 173.51,225.49 170.61,225.49" fill="#3b9fdc"/>
<polygon points="169.84,230.95 171.29,228.34 168.39,228.34" fill="#3b9fdc"/>
<polygon points="174.07,230.96 175.52,228.35 172.62,228.35" fill="#3b9fdc"/>
<polygon points="171.93,234.16 173.38,231.55 170.48,231.55" fill="#3b9fdc"/>
<polygon points="169.15,234.79 170.60,232.18 167.70,232.18" fill="#3b9fdc"/>
<polygon points="174.49,235.90 175.94,233.29 173.04,233.29" fill="#3b9fdc"/>
<polygon points="170.51,239.48 171.96,236.87 169.06,236.87" fill="#3b9fdc"/>
<line x1="171.85" y1="225.27" x2="171.85" y2="236.43" stroke="#3b9fdc" stroke-width="0.9"/>
<line x1="169.45" y1="225.27" x2="174.25" y2="225.27" stroke="#3b9fdc" stroke-width="0.9"/>
<line x1="169.45" y1="236.43" x2="174.25" y2="236.43" stroke="#3b9fdc" stroke-width="0.9"/>
<text x="0.00" y="0.00" font-size="8.6" text-anchor="middle" font-weight="bold" font-style="normal" fill="#231f20" transform="translate(105.00,215.00) rotate(-90)" textLength="48.1" lengthAdjust="spacingAndGlyphs">Cells (1&#8201;&#215;&#8201;10<tspan baseline-shift="2.8" font-size="5.6">6</tspan>/&#181;L)</text>
<polyline points="133.10,207.00 133.10,201.70 146.30,201.70 146.30,222.00" fill="none" stroke="#333" stroke-width="0.8"/>
<path d="M135.95 197.75L135.95 199.65M135.13 198.22L136.77 199.17M136.77 198.22L135.13 199.17" stroke="#2a2a2a" stroke-width="0.9" stroke-linecap="round"/>
<path d="M138.45 197.75L138.45 199.65M137.63 198.22L139.27 199.17M139.27 198.22L137.63 199.17" stroke="#2a2a2a" stroke-width="0.9" stroke-linecap="round"/>
<path d="M140.95 197.75L140.95 199.65M140.13 198.22L141.77 199.17M141.77 198.22L140.13 199.17" stroke="#2a2a2a" stroke-width="0.9" stroke-linecap="round"/>
<path d="M143.45 197.75L143.45 199.65M142.63 198.22L144.27 199.17M144.27 198.22L142.63 199.17" stroke="#2a2a2a" stroke-width="0.9" stroke-linecap="round"/>
<polyline points="158.40,202.00 158.40,197.90 172.10,197.90 172.10,213.50" fill="none" stroke="#333" stroke-width="0.8"/>
<path d="M161.50 193.95L161.50 195.85M160.68 194.43L162.32 195.38M162.32 194.43L160.68 195.38" stroke="#2a2a2a" stroke-width="0.9" stroke-linecap="round"/>
<path d="M164.00 193.95L164.00 195.85M163.18 194.43L164.82 195.38M164.82 194.43L163.18 195.38" stroke="#2a2a2a" stroke-width="0.9" stroke-linecap="round"/>
<path d="M166.50 193.95L166.50 195.85M165.68 194.43L167.32 195.38M167.32 194.43L165.68 195.38" stroke="#2a2a2a" stroke-width="0.9" stroke-linecap="round"/>
<path d="M169.00 193.95L169.00 195.85M168.18 194.43L169.82 195.38M169.82 194.43L168.18 195.38" stroke="#2a2a2a" stroke-width="0.9" stroke-linecap="round"/>
<polyline points="145.50,192.70 145.50,187.10 159.40,187.10 159.40,190.10" fill="none" stroke="#333" stroke-width="0.8"/>
<path d="M148.70 183.15L148.70 185.05M147.88 183.62L149.52 184.57M149.52 183.62L147.88 184.57" stroke="#2a2a2a" stroke-width="0.9" stroke-linecap="round"/>
<path d="M151.20 183.15L151.20 185.05M150.38 183.62L152.02 184.57M152.02 183.62L150.38 184.57" stroke="#2a2a2a" stroke-width="0.9" stroke-linecap="round"/>
<path d="M153.70 183.15L153.70 185.05M152.88 183.62L154.52 184.57M154.52 183.62L152.88 184.57" stroke="#2a2a2a" stroke-width="0.9" stroke-linecap="round"/>
<path d="M156.20 183.15L156.20 185.05M155.38 183.62L157.02 184.57M157.02 183.62L155.38 184.57" stroke="#2a2a2a" stroke-width="0.9" stroke-linecap="round"/>
<polyline points="133.10,188.10 133.10,176.30 172.10,176.30 172.10,188.10" fill="none" stroke="#333" stroke-width="0.8"/>
<path d="M148.85 172.35L148.85 174.25M148.03 172.83L149.67 173.78M149.67 172.83L148.03 173.78" stroke="#2a2a2a" stroke-width="0.9" stroke-linecap="round"/>
<path d="M151.35 172.35L151.35 174.25M150.53 172.83L152.17 173.78M152.17 172.83L150.53 173.78" stroke="#2a2a2a" stroke-width="0.9" stroke-linecap="round"/>
<path d="M153.85 172.35L153.85 174.25M153.03 172.83L154.67 173.78M154.67 172.83L153.03 173.78" stroke="#2a2a2a" stroke-width="0.9" stroke-linecap="round"/>
<path d="M156.35 172.35L156.35 174.25M155.53 172.83L157.17 173.78M157.17 172.83L155.53 173.78" stroke="#2a2a2a" stroke-width="0.9" stroke-linecap="round"/>
<line x1="221.30" y1="183.30" x2="221.30" y2="241.60" stroke="#231f20" stroke-width="1.0"/>
<line x1="219.10" y1="241.60" x2="221.30" y2="241.60" stroke="#231f20" stroke-width="0.8"/>
<text x="215.50" y="244.19" font-size="7.2" text-anchor="end" font-weight="normal" font-style="normal" fill="#231f20">0</text>
<line x1="219.10" y1="223.10" x2="221.30" y2="223.10" stroke="#231f20" stroke-width="0.8"/>
<text x="215.50" y="225.69" font-size="7.2" text-anchor="end" font-weight="normal" font-style="normal" fill="#231f20">500</text>
<line x1="219.10" y1="204.60" x2="221.30" y2="204.60" stroke="#231f20" stroke-width="0.8"/>
<text x="215.50" y="207.19" font-size="7.2" text-anchor="end" font-weight="normal" font-style="normal" fill="#231f20">1000</text>
<line x1="219.10" y1="186.10" x2="221.30" y2="186.10" stroke="#231f20" stroke-width="0.8"/>
<text x="215.50" y="188.69" font-size="7.2" text-anchor="end" font-weight="normal" font-style="normal" fill="#231f20">1500</text>
<line x1="221.30" y1="241.60" x2="277.60" y2="241.60" stroke="#231f20" stroke-width="1.0"/>
<rect x="226.60" y="211.26" width="7.10" height="30.34" fill="#b0d99c"/>
<circle cx="230.00" cy="205.55" r="1.30" fill="#2f9e44"/>
<circle cx="227.45" cy="207.18" r="1.30" fill="#2f9e44"/>
<circle cx="232.22" cy="208.75" r="1.30" fill="#2f9e44"/>
<circle cx="228.07" cy="212.85" r="1.30" fill="#2f9e44"/>
<circle cx="232.69" cy="214.27" r="1.30" fill="#2f9e44"/>
<circle cx="230.18" cy="215.36" r="1.30" fill="#2f9e44"/>
<circle cx="227.71" cy="215.99" r="1.30" fill="#2f9e44"/>
<circle cx="232.36" cy="217.91" r="1.30" fill="#2f9e44"/>
<line x1="230.15" y1="204.97" x2="230.15" y2="217.55" stroke="#2f9e44" stroke-width="0.9"/>
<line x1="227.75" y1="204.97" x2="232.55" y2="204.97" stroke="#2f9e44" stroke-width="0.9"/>
<line x1="227.75" y1="217.55" x2="232.55" y2="217.55" stroke="#2f9e44" stroke-width="0.9"/>
<rect x="239.40" y="239.38" width="7.10" height="2.22" fill="#f39a92"/>
<rect x="242.00" y="236.58" width="2.46" height="2.46" fill="#c8102e"/>
<rect x="238.75" y="236.58" width="2.46" height="2.46" fill="#c8102e"/>
<rect x="244.55" y="237.66" width="2.46" height="2.46" fill="#c8102e"/>
<rect x="240.57" y="237.84" width="2.46" height="2.46" fill="#c8102e"/>
<rect x="243.12" y="237.95" width="2.46" height="2.46" fill="#c8102e"/>
<rect x="241.66" y="238.00" width="2.46" height="2.46" fill="#c8102e"/>
<rect x="239.27" y="238.17" width="2.46" height="2.46" fill="#c8102e"/>
<rect x="243.78" y="238.27" width="2.46" height="2.46" fill="#c8102e"/>
<rect x="244.71" y="238.31" width="2.46" height="2.46" fill="#c8102e"/>
<rect x="241.67" y="239.12" width="2.46" height="2.46" fill="#c8102e"/>
<rect x="239.26" y="239.14" width="2.46" height="2.46" fill="#c8102e"/>
<rect x="243.90" y="239.17" width="2.46" height="2.46" fill="#c8102e"/>
<rect x="240.66" y="239.17" width="2.46" height="2.46" fill="#c8102e"/>
<rect x="242.57" y="239.17" width="2.46" height="2.46" fill="#c8102e"/>
<line x1="242.95" y1="238.45" x2="242.95" y2="240.31" stroke="#c8102e" stroke-width="0.9"/>
<line x1="240.55" y1="238.45" x2="245.35" y2="238.45" stroke="#c8102e" stroke-width="0.9"/>
<line x1="240.55" y1="240.31" x2="245.35" y2="240.31" stroke="#c8102e" stroke-width="0.9"/>
<rect x="252.00" y="212.00" width="7.00" height="29.60" fill="#95a2cc"/>
<polygon points="255.57,203.01 257.02,205.62 254.12,205.62" fill="#1f4b8e"/>
<polygon points="253.07,203.52 254.52,206.13 251.62,206.13" fill="#1f4b8e"/>
<polygon points="257.71,207.10 259.16,209.71 256.26,209.71" fill="#1f4b8e"/>
<polygon points="252.97,209.25 254.42,211.86 251.52,211.86" fill="#1f4b8e"/>
<polygon points="256.88,209.86 258.33,212.47 255.43,212.47" fill="#1f4b8e"/>
<polygon points="254.39,210.41 255.84,213.02 252.94,213.02" fill="#1f4b8e"/>
<polygon points="258.30,210.68 259.75,213.29 256.85,213.29" fill="#1f4b8e"/>
<polygon points="252.98,210.76 254.43,213.37 251.53,213.37" fill="#1f4b8e"/>
<polygon points="255.71,211.03 257.16,213.64 254.26,213.64" fill="#1f4b8e"/>
<polygon points="257.46,213.19 258.91,215.80 256.01,215.80" fill="#1f4b8e"/>
<polygon points="253.06,213.58 254.51,216.19 251.61,216.19" fill="#1f4b8e"/>
<polygon points="255.80,214.62 257.25,217.23 254.35,217.23" fill="#1f4b8e"/>
<polygon points="253.41,218.38 254.86,220.99 251.96,220.99" fill="#1f4b8e"/>
<line x1="255.50" y1="206.08" x2="255.50" y2="217.92" stroke="#1f4b8e" stroke-width="0.9"/>
<line x1="253.10" y1="206.08" x2="257.90" y2="206.08" stroke="#1f4b8e" stroke-width="0.9"/>
<line x1="253.10" y1="217.92" x2="257.90" y2="217.92" stroke="#1f4b8e" stroke-width="0.9"/>
<rect x="264.20" y="239.94" width="7.10" height="1.66" fill="#9dd0f2"/>
<polygon points="268.00,240.18 269.45,237.57 266.55,237.57" fill="#3b9fdc"/>
<polygon points="264.83,240.21 266.28,237.60 263.38,237.60" fill="#3b9fdc"/>
<polygon points="270.48,240.81 271.93,238.20 269.03,238.20" fill="#3b9fdc"/>
<polygon points="266.60,240.96 268.05,238.35 265.15,238.35" fill="#3b9fdc"/>
<polygon points="268.03,241.23 269.48,238.62 266.58,238.62" fill="#3b9fdc"/>
<polygon points="265.41,241.33 266.86,238.72 263.96,238.72" fill="#3b9fdc"/>
<polygon points="269.99,241.71 271.44,239.10 268.54,239.10" fill="#3b9fdc"/>
<polygon points="268.93,241.76 270.38,239.15 267.48,239.15" fill="#3b9fdc"/>
<polygon points="267.68,241.85 269.13,239.24 266.23,239.24" fill="#3b9fdc"/>
<polygon points="266.86,241.85 268.31,239.24 265.41,239.24" fill="#3b9fdc"/>
<line x1="267.75" y1="239.19" x2="267.75" y2="240.68" stroke="#3b9fdc" stroke-width="0.9"/>
<line x1="265.35" y1="239.19" x2="270.15" y2="239.19" stroke="#3b9fdc" stroke-width="0.9"/>
<line x1="265.35" y1="240.68" x2="270.15" y2="240.68" stroke="#3b9fdc" stroke-width="0.9"/>
<text x="0.00" y="0.00" font-size="8.6" text-anchor="middle" font-weight="bold" font-style="normal" fill="#231f20" transform="translate(191.60,212.20) rotate(-90)" textLength="48.7" lengthAdjust="spacingAndGlyphs">Cells (1&#8201;&#215;&#8201;10<tspan baseline-shift="2.8" font-size="5.6">3</tspan>/&#181;L)</text>
<polyline points="230.20,201.00 230.20,192.50 242.80,192.50 242.80,234.00" fill="none" stroke="#333" stroke-width="0.8"/>
<path d="M232.75 188.55L232.75 190.45M231.93 189.03L233.57 189.97M233.57 189.03L231.93 189.97" stroke="#2a2a2a" stroke-width="0.9" stroke-linecap="round"/>
<path d="M235.25 188.55L235.25 190.45M234.43 189.03L236.07 189.97M236.07 189.03L234.43 189.97" stroke="#2a2a2a" stroke-width="0.9" stroke-linecap="round"/>
<path d="M237.75 188.55L237.75 190.45M236.93 189.03L238.57 189.97M238.57 189.03L236.93 189.97" stroke="#2a2a2a" stroke-width="0.9" stroke-linecap="round"/>
<path d="M240.25 188.55L240.25 190.45M239.43 189.03L241.07 189.97M241.07 189.03L239.43 189.97" stroke="#2a2a2a" stroke-width="0.9" stroke-linecap="round"/>
<polyline points="256.00,201.00 256.00,192.50 268.30,192.50 268.30,236.00" fill="none" stroke="#333" stroke-width="0.8"/>
<path d="M258.40 188.55L258.40 190.45M257.58 189.03L259.22 189.97M259.22 189.03L257.58 189.97" stroke="#2a2a2a" stroke-width="0.9" stroke-linecap="round"/>
<path d="M260.90 188.55L260.90 190.45M260.08 189.03L261.72 189.97M261.72 189.03L260.08 189.97" stroke="#2a2a2a" stroke-width="0.9" stroke-linecap="round"/>
<path d="M263.40 188.55L263.40 190.45M262.58 189.03L264.22 189.97M264.22 189.03L262.58 189.97" stroke="#2a2a2a" stroke-width="0.9" stroke-linecap="round"/>
<path d="M265.90 188.55L265.90 190.45M265.08 189.03L266.72 189.97M266.72 189.03L265.08 189.97" stroke="#2a2a2a" stroke-width="0.9" stroke-linecap="round"/>
<polyline points="242.80,190.00 242.80,181.70 256.00,181.70 256.00,190.00" fill="none" stroke="#333" stroke-width="0.8"/>
<path d="M245.65 177.75L245.65 179.65M244.83 178.22L246.47 179.17M246.47 178.22L244.83 179.17" stroke="#2a2a2a" stroke-width="0.9" stroke-linecap="round"/>
<path d="M248.15 177.75L248.15 179.65M247.33 178.22L248.97 179.17M248.97 178.22L247.33 179.17" stroke="#2a2a2a" stroke-width="0.9" stroke-linecap="round"/>
<path d="M250.65 177.75L250.65 179.65M249.83 178.22L251.47 179.17M251.47 178.22L249.83 179.17" stroke="#2a2a2a" stroke-width="0.9" stroke-linecap="round"/>
<path d="M253.15 177.75L253.15 179.65M252.33 178.22L253.97 179.17M253.97 178.22L252.33 179.17" stroke="#2a2a2a" stroke-width="0.9" stroke-linecap="round"/>
<polyline points="230.20,190.00 230.20,171.60 268.30,171.60 268.30,190.00" fill="none" stroke="#333" stroke-width="0.8"/>
<path d="M245.50 167.65L245.50 169.55M244.68 168.12L246.32 169.07M246.32 168.12L244.68 169.07" stroke="#2a2a2a" stroke-width="0.9" stroke-linecap="round"/>
<path d="M248.00 167.65L248.00 169.55M247.18 168.12L248.82 169.07M248.82 168.12L247.18 169.07" stroke="#2a2a2a" stroke-width="0.9" stroke-linecap="round"/>
<path d="M250.50 167.65L250.50 169.55M249.68 168.12L251.32 169.07M251.32 168.12L249.68 169.07" stroke="#2a2a2a" stroke-width="0.9" stroke-linecap="round"/>
<path d="M253.00 167.65L253.00 169.55M252.18 168.12L253.82 169.07M253.82 168.12L252.18 169.07" stroke="#2a2a2a" stroke-width="0.9" stroke-linecap="round"/>
<circle cx="20.80" cy="255.40" r="2.88" fill="#2f9e44"/>
<text x="0.00" y="0.00" font-size="7.3" text-anchor="start" font-weight="normal" font-style="italic" fill="#231f20" transform="translate(25.50,258.50) scale(1.08,1)">Yy1<tspan baseline-shift="2.6" font-size="4.8">+/+</tspan><tspan font-style="normal">, n = 8</tspan></text>
<rect x="74.00" y="253.40" width="6.10" height="6.00" fill="#c8102e"/>
<text x="0.00" y="0.00" font-size="7.3" text-anchor="start" font-weight="normal" font-style="italic" fill="#231f20" transform="translate(81.00,258.50) scale(1.08,1)">Yy1<tspan baseline-shift="2.6" font-size="4.8">&#8722;/&#8722;</tspan><tspan font-style="normal">, n = 14</tspan></text>
<polygon points="135.00,253.20 137.80,258.24 132.20,258.24" fill="#1f4b8e"/>
<text x="0.00" y="0.00" font-size="7.3" text-anchor="start" font-weight="normal" font-style="italic" fill="#231f20" transform="translate(140.20,258.50) scale(1.08,1)">Smc3<tspan baseline-shift="2.6" font-size="4.8">+/&#8722;</tspan><tspan font-style="normal">, n = 13</tspan></text>
<polygon points="202.60,258.60 205.20,253.92 200.00,253.92" fill="#3b9fdc"/>
<text x="0.00" y="0.00" font-size="7.3" text-anchor="start" font-weight="normal" font-style="italic" fill="#231f20" transform="translate(207.80,258.50) scale(1.08,1)">Yy1<tspan baseline-shift="2.6" font-size="4.8">&#8722;/&#8722;</tspan>Smc3<tspan baseline-shift="2.6" font-size="4.8">+/&#8722;</tspan><tspan font-style="normal">, n = 10</tspan></text>
<text x="283.40" y="154.70" font-size="11.4" text-anchor="start" font-weight="bold" font-style="normal" fill="#000">D</text>
<clipPath id="cp1"><rect x="308.2" y="174.3" width="50.0" height="49.599999999999994"/></clipPath>
<g clip-path="url(#cp1)">
<ellipse cx="332.00" cy="208.50" rx="9.50" ry="7.50" fill="#c9cbec" opacity="0.6" filter="url(#b1)"/>
<ellipse cx="328.00" cy="210.00" rx="4.50" ry="5.00" fill="#8488cf" opacity="0.6" filter="url(#b1)"/>
<circle cx="333.00" cy="200.41" r="0.45" fill="#5a5eb8" opacity="0.3"/>
<circle cx="325.35" cy="209.35" r="0.45" fill="#5a5eb8" opacity="0.3"/>
<circle cx="338.85" cy="209.02" r="0.45" fill="#5a5eb8" opacity="0.3"/>
<circle cx="320.04" cy="210.51" r="0.45" fill="#5a5eb8" opacity="0.3"/>
<circle cx="322.81" cy="214.89" r="0.45" fill="#5a5eb8" opacity="0.3"/>
<circle cx="328.47" cy="217.55" r="0.45" fill="#5a5eb8" opacity="0.3"/>
<circle cx="329.22" cy="204.08" r="0.45" fill="#5a5eb8" opacity="0.3"/>
<circle cx="321.18" cy="207.27" r="0.45" fill="#5a5eb8" opacity="0.3"/>
<circle cx="332.67" cy="214.71" r="0.45" fill="#5a5eb8" opacity="0.3"/>
<circle cx="331.60" cy="205.45" r="0.45" fill="#5a5eb8" opacity="0.3"/>
<circle cx="333.00" cy="202.10" r="0.45" fill="#5a5eb8" opacity="0.3"/>
<circle cx="333.03" cy="205.40" r="0.45" fill="#5a5eb8" opacity="0.3"/>
<circle cx="338.98" cy="213.76" r="0.45" fill="#5a5eb8" opacity="0.3"/>
<circle cx="332.20" cy="204.10" r="0.45" fill="#5a5eb8" opacity="0.3"/>
<circle cx="333.31" cy="210.77" r="0.45" fill="#5a5eb8" opacity="0.3"/>
<circle cx="326.71" cy="206.01" r="0.45" fill="#5a5eb8" opacity="0.3"/>
<circle cx="337.63" cy="207.08" r="0.45" fill="#5a5eb8" opacity="0.3"/>
<circle cx="332.66" cy="215.68" r="0.45" fill="#5a5eb8" opacity="0.3"/>
<circle cx="321.09" cy="217.58" r="0.45" fill="#5a5eb8" opacity="0.3"/>
<circle cx="336.08" cy="205.89" r="0.45" fill="#5a5eb8" opacity="0.3"/>
<circle cx="324.29" cy="203.14" r="0.45" fill="#5a5eb8" opacity="0.3"/>
<circle cx="335.61" cy="196.65" r="0.45" fill="#5a5eb8" opacity="0.3"/>
<circle cx="335.59" cy="209.81" r="0.45" fill="#5a5eb8" opacity="0.3"/>
<circle cx="325.90" cy="206.56" r="0.45" fill="#5a5eb8" opacity="0.3"/>
<circle cx="327.80" cy="207.89" r="0.45" fill="#5a5eb8" opacity="0.3"/>
<circle cx="335.34" cy="204.99" r="0.45" fill="#5a5eb8" opacity="0.3"/>
<circle cx="336.57" cy="213.74" r="0.45" fill="#5a5eb8" opacity="0.3"/>
<circle cx="328.49" cy="211.93" r="0.45" fill="#5a5eb8" opacity="0.3"/>
<circle cx="326.75" cy="209.27" r="0.45" fill="#5a5eb8" opacity="0.3"/>
<circle cx="333.00" cy="218.31" r="0.45" fill="#5a5eb8" opacity="0.3"/>
<circle cx="329.70" cy="208.28" r="0.45" fill="#5a5eb8" opacity="0.3"/>
<circle cx="330.20" cy="208.12" r="0.45" fill="#5a5eb8" opacity="0.3"/>
<circle cx="323.53" cy="218.02" r="0.45" fill="#5a5eb8" opacity="0.3"/>
<circle cx="326.27" cy="206.19" r="0.45" fill="#5a5eb8" opacity="0.3"/>
<circle cx="325.72" cy="212.32" r="0.45" fill="#5a5eb8" opacity="0.3"/>
<circle cx="347.81" cy="223.58" r="0.45" fill="#5a5eb8" opacity="0.3"/>
<circle cx="335.93" cy="210.67" r="0.45" fill="#5a5eb8" opacity="0.3"/>
<circle cx="329.86" cy="204.17" r="0.45" fill="#5a5eb8" opacity="0.3"/>
<circle cx="334.47" cy="208.57" r="0.45" fill="#5a5eb8" opacity="0.3"/>
<circle cx="342.56" cy="207.68" r="0.45" fill="#5a5eb8" opacity="0.3"/>
<circle cx="323.95" cy="200.16" r="0.45" fill="#5a5eb8" opacity="0.3"/>
<circle cx="319.30" cy="211.95" r="0.45" fill="#5a5eb8" opacity="0.3"/>
<circle cx="332.07" cy="203.45" r="0.45" fill="#5a5eb8" opacity="0.3"/>
<circle cx="320.77" cy="210.36" r="0.45" fill="#5a5eb8" opacity="0.3"/>
<circle cx="327.86" cy="210.10" r="0.45" fill="#5a5eb8" opacity="0.3"/>
<circle cx="329.90" cy="205.23" r="0.45" fill="#5a5eb8" opacity="0.3"/>
<circle cx="319.53" cy="209.65" r="0.45" fill="#5a5eb8" opacity="0.3"/>
<circle cx="330.59" cy="209.89" r="0.45" fill="#5a5eb8" opacity="0.3"/>
<circle cx="335.71" cy="213.49" r="0.45" fill="#5a5eb8" opacity="0.3"/>
<circle cx="327.03" cy="211.83" r="0.45" fill="#5a5eb8" opacity="0.3"/>
<circle cx="316.88" cy="212.30" r="0.45" fill="#5a5eb8" opacity="0.3"/>
<circle cx="329.82" cy="213.93" r="0.45" fill="#5a5eb8" opacity="0.3"/>
<circle cx="335.99" cy="204.46" r="0.45" fill="#5a5eb8" opacity="0.3"/>
<circle cx="329.23" cy="214.41" r="0.45" fill="#5a5eb8" opacity="0.3"/>
<circle cx="326.71" cy="209.36" r="0.45" fill="#5a5eb8" opacity="0.3"/>
<circle cx="326.32" cy="211.85" r="0.45" fill="#5a5eb8" opacity="0.3"/>
<circle cx="331.79" cy="205.01" r="0.45" fill="#5a5eb8" opacity="0.3"/>
<circle cx="321.39" cy="198.26" r="0.45" fill="#5a5eb8" opacity="0.3"/>
<circle cx="335.16" cy="206.83" r="0.45" fill="#5a5eb8" opacity="0.3"/>
<circle cx="325.80" cy="206.46" r="0.45" fill="#5a5eb8" opacity="0.3"/>
<circle cx="324.43" cy="212.31" r="0.45" fill="#5a5eb8" opacity="0.3"/>
<circle cx="333.80" cy="198.14" r="0.45" fill="#5a5eb8" opacity="0.3"/>
<circle cx="329.83" cy="209.52" r="0.45" fill="#5a5eb8" opacity="0.3"/>
<circle cx="328.05" cy="209.51" r="0.45" fill="#5a5eb8" opacity="0.3"/>
<circle cx="340.16" cy="210.56" r="0.45" fill="#5a5eb8" opacity="0.3"/>
<circle cx="337.28" cy="213.95" r="0.45" fill="#5a5eb8" opacity="0.3"/>
<circle cx="320.83" cy="217.64" r="0.45" fill="#5a5eb8" opacity="0.3"/>
<circle cx="331.30" cy="207.63" r="0.45" fill="#5a5eb8" opacity="0.3"/>
<circle cx="335.14" cy="219.90" r="0.45" fill="#5a5eb8" opacity="0.3"/>
<circle cx="325.25" cy="205.71" r="0.45" fill="#5a5eb8" opacity="0.3"/>
<circle cx="332.22" cy="200.38" r="0.45" fill="#5a5eb8" opacity="0.3"/>
<circle cx="323.26" cy="209.28" r="0.45" fill="#5a5eb8" opacity="0.3"/>
<circle cx="334.60" cy="211.68" r="0.45" fill="#5a5eb8" opacity="0.3"/>
<circle cx="335.16" cy="214.32" r="0.45" fill="#5a5eb8" opacity="0.3"/>
<circle cx="327.37" cy="207.34" r="0.45" fill="#5a5eb8" opacity="0.3"/>
<circle cx="328.12" cy="207.44" r="0.45" fill="#5a5eb8" opacity="0.3"/>
<circle cx="336.81" cy="213.25" r="0.45" fill="#5a5eb8" opacity="0.3"/>
<circle cx="317.49" cy="211.39" r="0.45" fill="#5a5eb8" opacity="0.3"/>
<circle cx="323.58" cy="203.59" r="0.45" fill="#5a5eb8" opacity="0.3"/>
<circle cx="337.92" cy="215.50" r="0.45" fill="#5a5eb8" opacity="0.3"/>
<circle cx="337.20" cy="212.34" r="0.45" fill="#5a5eb8" opacity="0.3"/>
<circle cx="341.12" cy="203.46" r="0.45" fill="#5a5eb8" opacity="0.3"/>
<circle cx="335.16" cy="205.73" r="0.45" fill="#5a5eb8" opacity="0.3"/>
<circle cx="326.33" cy="201.03" r="0.45" fill="#5a5eb8" opacity="0.3"/>
<circle cx="339.37" cy="217.73" r="0.45" fill="#5a5eb8" opacity="0.3"/>
<circle cx="335.44" cy="206.19" r="0.45" fill="#5a5eb8" opacity="0.3"/>
<circle cx="331.16" cy="203.86" r="0.45" fill="#5a5eb8" opacity="0.3"/>
<circle cx="328.44" cy="216.47" r="0.45" fill="#5a5eb8" opacity="0.3"/>
<circle cx="339.92" cy="212.36" r="0.45" fill="#5a5eb8" opacity="0.3"/>
<circle cx="334.88" cy="208.46" r="0.45" fill="#5a5eb8" opacity="0.3"/>
<circle cx="332.33" cy="208.26" r="0.45" fill="#5a5eb8" opacity="0.3"/>
<circle cx="333.05" cy="205.97" r="0.45" fill="#5a5eb8" opacity="0.3"/>
<circle cx="336.23" cy="207.93" r="0.45" fill="#5a5eb8" opacity="0.3"/>
<circle cx="331.35" cy="208.43" r="0.45" fill="#5a5eb8" opacity="0.3"/>
<circle cx="339.49" cy="213.53" r="0.45" fill="#5a5eb8" opacity="0.3"/>
<circle cx="325.21" cy="204.45" r="0.45" fill="#5a5eb8" opacity="0.3"/>
<circle cx="333.62" cy="209.60" r="0.45" fill="#5a5eb8" opacity="0.3"/>
<circle cx="328.65" cy="210.14" r="0.45" fill="#5a5eb8" opacity="0.3"/>
<circle cx="340.20" cy="208.64" r="0.45" fill="#5a5eb8" opacity="0.3"/>
<circle cx="338.86" cy="206.69" r="0.45" fill="#5a5eb8" opacity="0.3"/>
<circle cx="328.66" cy="210.61" r="0.45" fill="#5a5eb8" opacity="0.3"/>
<circle cx="329.66" cy="206.65" r="0.45" fill="#5a5eb8" opacity="0.3"/>
<circle cx="323.59" cy="207.44" r="0.45" fill="#5a5eb8" opacity="0.3"/>
<circle cx="327.63" cy="209.07" r="0.45" fill="#5a5eb8" opacity="0.3"/>
<circle cx="336.50" cy="211.61" r="0.45" fill="#5a5eb8" opacity="0.3"/>
<circle cx="337.19" cy="210.12" r="0.45" fill="#5a5eb8" opacity="0.3"/>
<circle cx="332.86" cy="212.16" r="0.45" fill="#5a5eb8" opacity="0.3"/>
<circle cx="334.53" cy="214.06" r="0.45" fill="#5a5eb8" opacity="0.3"/>
<circle cx="326.74" cy="211.20" r="0.45" fill="#5a5eb8" opacity="0.3"/>
<circle cx="331.37" cy="215.09" r="0.45" fill="#5a5eb8" opacity="0.3"/>
<circle cx="335.29" cy="206.33" r="0.45" fill="#5a5eb8" opacity="0.3"/>
<circle cx="332.72" cy="212.58" r="0.45" fill="#5a5eb8" opacity="0.3"/>
<circle cx="330.47" cy="215.24" r="0.45" fill="#5a5eb8" opacity="0.3"/>
<circle cx="331.77" cy="202.94" r="0.45" fill="#5a5eb8" opacity="0.3"/>
<circle cx="332.02" cy="212.94" r="0.45" fill="#5a5eb8" opacity="0.3"/>
<circle cx="325.25" cy="212.52" r="0.45" fill="#5a5eb8" opacity="0.3"/>
<circle cx="313.38" cy="218.98" r="0.45" fill="#5a5eb8" opacity="0.3"/>
<circle cx="321.61" cy="206.77" r="0.45" fill="#5a5eb8" opacity="0.3"/>
<circle cx="328.19" cy="202.24" r="0.45" fill="#5a5eb8" opacity="0.3"/>
<circle cx="331.97" cy="204.64" r="0.45" fill="#5a5eb8" opacity="0.3"/>
<circle cx="321.94" cy="197.86" r="0.45" fill="#5a5eb8" opacity="0.3"/>
<circle cx="334.32" cy="214.77" r="0.45" fill="#5a5eb8" opacity="0.3"/>
<circle cx="328.40" cy="210.13" r="0.45" fill="#5a5eb8" opacity="0.3"/>
<circle cx="339.81" cy="211.01" r="0.45" fill="#5a5eb8" opacity="0.3"/>
<circle cx="337.11" cy="213.99" r="0.45" fill="#5a5eb8" opacity="0.3"/>
<circle cx="334.64" cy="211.70" r="0.45" fill="#5a5eb8" opacity="0.3"/>
<circle cx="337.35" cy="210.21" r="0.45" fill="#5a5eb8" opacity="0.3"/>
<circle cx="330.97" cy="205.66" r="0.45" fill="#5a5eb8" opacity="0.3"/>
<circle cx="317.56" cy="204.67" r="0.45" fill="#5a5eb8" opacity="0.3"/>
<circle cx="328.17" cy="214.22" r="0.45" fill="#5a5eb8" opacity="0.3"/>
<circle cx="328.06" cy="199.53" r="0.45" fill="#5a5eb8" opacity="0.3"/>
<circle cx="334.32" cy="215.16" r="0.45" fill="#5a5eb8" opacity="0.3"/>
<circle cx="332.13" cy="210.60" r="0.45" fill="#5a5eb8" opacity="0.3"/>
<circle cx="331.91" cy="208.84" r="0.45" fill="#5a5eb8" opacity="0.3"/>
<circle cx="338.75" cy="205.14" r="0.45" fill="#5a5eb8" opacity="0.3"/>
<circle cx="325.65" cy="202.06" r="0.45" fill="#5a5eb8" opacity="0.3"/>
<circle cx="327.12" cy="205.79" r="0.45" fill="#5a5eb8" opacity="0.3"/>
<circle cx="326.22" cy="210.12" r="0.45" fill="#5a5eb8" opacity="0.3"/>
<circle cx="336.61" cy="202.55" r="0.45" fill="#5a5eb8" opacity="0.3"/>
<circle cx="330.97" cy="205.76" r="0.45" fill="#5a5eb8" opacity="0.3"/>
<circle cx="326.15" cy="206.98" r="0.45" fill="#5a5eb8" opacity="0.3"/>
<circle cx="332.50" cy="201.32" r="0.45" fill="#5a5eb8" opacity="0.3"/>
<circle cx="339.41" cy="208.77" r="0.45" fill="#5a5eb8" opacity="0.3"/>
<circle cx="325.81" cy="201.39" r="0.45" fill="#5a5eb8" opacity="0.3"/>
<circle cx="336.71" cy="212.58" r="0.45" fill="#5a5eb8" opacity="0.3"/>
<circle cx="335.62" cy="209.94" r="0.45" fill="#5a5eb8" opacity="0.3"/>
<circle cx="340.83" cy="216.85" r="0.45" fill="#5a5eb8" opacity="0.3"/>
<circle cx="343.32" cy="210.90" r="0.45" fill="#5a5eb8" opacity="0.3"/>
<circle cx="336.08" cy="207.35" r="0.45" fill="#5a5eb8" opacity="0.3"/>
<circle cx="330.97" cy="207.64" r="0.45" fill="#5a5eb8" opacity="0.3"/>
<circle cx="330.54" cy="209.52" r="0.45" fill="#5a5eb8" opacity="0.3"/>
<circle cx="330.39" cy="209.14" r="0.45" fill="#5a5eb8" opacity="0.3"/>
<circle cx="331.21" cy="207.19" r="0.45" fill="#5a5eb8" opacity="0.3"/>
<circle cx="325.96" cy="206.93" r="0.45" fill="#5a5eb8" opacity="0.3"/>
<circle cx="334.21" cy="212.70" r="0.45" fill="#5a5eb8" opacity="0.3"/>
<circle cx="336.85" cy="221.01" r="0.45" fill="#5a5eb8" opacity="0.3"/>
<circle cx="324.00" cy="213.29" r="0.45" fill="#5a5eb8" opacity="0.3"/>
<circle cx="322.24" cy="206.38" r="0.45" fill="#5a5eb8" opacity="0.3"/>
<circle cx="325.27" cy="209.47" r="0.45" fill="#5a5eb8" opacity="0.3"/>
<circle cx="338.20" cy="216.61" r="0.45" fill="#5a5eb8" opacity="0.3"/>
<circle cx="332.31" cy="213.90" r="0.45" fill="#5a5eb8" opacity="0.3"/>
<circle cx="332.82" cy="203.13" r="0.45" fill="#5a5eb8" opacity="0.3"/>
<circle cx="340.35" cy="206.20" r="0.45" fill="#5a5eb8" opacity="0.3"/>
<circle cx="326.98" cy="208.79" r="0.45" fill="#5a5eb8" opacity="0.3"/>
<circle cx="324.32" cy="206.01" r="0.45" fill="#5a5eb8" opacity="0.3"/>
<circle cx="334.77" cy="204.49" r="0.45" fill="#5a5eb8" opacity="0.3"/>
<circle cx="326.24" cy="200.76" r="0.45" fill="#5a5eb8" opacity="0.3"/>
<circle cx="318.67" cy="210.70" r="0.45" fill="#5a5eb8" opacity="0.3"/>
<circle cx="332.80" cy="207.36" r="0.45" fill="#5a5eb8" opacity="0.3"/>
<circle cx="340.58" cy="204.29" r="0.45" fill="#5a5eb8" opacity="0.3"/>
<circle cx="333.34" cy="205.56" r="0.45" fill="#5a5eb8" opacity="0.3"/>
<circle cx="329.96" cy="211.56" r="0.45" fill="#5a5eb8" opacity="0.3"/>
<circle cx="321.87" cy="215.84" r="0.45" fill="#5a5eb8" opacity="0.3"/>
<circle cx="329.60" cy="209.38" r="0.45" fill="#5a5eb8" opacity="0.3"/>
<circle cx="329.16" cy="210.87" r="0.45" fill="#5a5eb8" opacity="0.3"/>
<circle cx="322.63" cy="203.29" r="0.45" fill="#5a5eb8" opacity="0.3"/>
<circle cx="332.32" cy="208.08" r="0.45" fill="#5a5eb8" opacity="0.3"/>
<circle cx="327.73" cy="210.70" r="0.45" fill="#5a5eb8" opacity="0.3"/>
<circle cx="339.66" cy="204.12" r="0.45" fill="#5a5eb8" opacity="0.3"/>
<circle cx="315.22" cy="207.52" r="0.45" fill="#5a5eb8" opacity="0.3"/>
<circle cx="319.70" cy="207.94" r="0.45" fill="#5a5eb8" opacity="0.3"/>
<circle cx="324.31" cy="209.34" r="0.45" fill="#5a5eb8" opacity="0.3"/>
<circle cx="341.51" cy="208.68" r="0.45" fill="#5a5eb8" opacity="0.3"/>
<circle cx="319.89" cy="203.75" r="0.45" fill="#5a5eb8" opacity="0.3"/>
<circle cx="323.66" cy="202.07" r="0.45" fill="#5a5eb8" opacity="0.3"/>
<circle cx="332.91" cy="210.04" r="0.45" fill="#5a5eb8" opacity="0.3"/>
<circle cx="336.30" cy="213.14" r="0.45" fill="#5a5eb8" opacity="0.3"/>
<circle cx="329.34" cy="206.26" r="0.45" fill="#5a5eb8" opacity="0.3"/>
<circle cx="327.06" cy="208.92" r="0.45" fill="#5a5eb8" opacity="0.3"/>
<circle cx="326.01" cy="201.29" r="0.45" fill="#5a5eb8" opacity="0.3"/>
<circle cx="344.36" cy="215.96" r="0.45" fill="#5a5eb8" opacity="0.3"/>
<circle cx="328.42" cy="206.87" r="0.45" fill="#5a5eb8" opacity="0.3"/>
<circle cx="327.91" cy="211.27" r="0.45" fill="#5a5eb8" opacity="0.3"/>
<circle cx="328.15" cy="198.40" r="0.45" fill="#5a5eb8" opacity="0.3"/>
<circle cx="331.73" cy="211.73" r="0.45" fill="#5a5eb8" opacity="0.3"/>
<circle cx="321.80" cy="202.11" r="0.45" fill="#5a5eb8" opacity="0.3"/>
<circle cx="329.54" cy="203.70" r="0.45" fill="#5a5eb8" opacity="0.3"/>
<circle cx="336.36" cy="213.24" r="0.45" fill="#5a5eb8" opacity="0.3"/>
<circle cx="319.59" cy="211.39" r="0.45" fill="#5a5eb8" opacity="0.3"/>
<circle cx="321.22" cy="205.59" r="0.45" fill="#5a5eb8" opacity="0.3"/>
<circle cx="338.28" cy="207.78" r="0.45" fill="#5a5eb8" opacity="0.3"/>
<circle cx="334.08" cy="206.98" r="0.45" fill="#5a5eb8" opacity="0.3"/>
<circle cx="342.41" cy="209.10" r="0.45" fill="#5a5eb8" opacity="0.3"/>
<circle cx="348.75" cy="211.85" r="0.45" fill="#5a5eb8" opacity="0.3"/>
<circle cx="327.95" cy="209.47" r="0.45" fill="#5a5eb8" opacity="0.3"/>
<circle cx="328.52" cy="216.58" r="0.45" fill="#5a5eb8" opacity="0.3"/>
<circle cx="323.74" cy="213.47" r="0.45" fill="#5a5eb8" opacity="0.3"/>
<circle cx="339.14" cy="214.45" r="0.45" fill="#5a5eb8" opacity="0.3"/>
<circle cx="322.07" cy="215.49" r="0.45" fill="#5a5eb8" opacity="0.3"/>
<circle cx="335.35" cy="214.69" r="0.45" fill="#5a5eb8" opacity="0.3"/>
<circle cx="324.01" cy="209.95" r="0.45" fill="#5a5eb8" opacity="0.3"/>
<circle cx="337.34" cy="209.72" r="0.45" fill="#5a5eb8" opacity="0.3"/>
<circle cx="331.48" cy="207.09" r="0.45" fill="#5a5eb8" opacity="0.3"/>
<circle cx="329.10" cy="209.25" r="0.45" fill="#5a5eb8" opacity="0.3"/>
<circle cx="345.84" cy="208.53" r="0.45" fill="#5a5eb8" opacity="0.3"/>
<circle cx="327.02" cy="204.06" r="0.45" fill="#5a5eb8" opacity="0.3"/>
<circle cx="332.75" cy="210.04" r="0.45" fill="#5a5eb8" opacity="0.3"/>
<circle cx="327.02" cy="200.80" r="0.45" fill="#5a5eb8" opacity="0.3"/>
<circle cx="341.91" cy="208.35" r="0.45" fill="#5a5eb8" opacity="0.3"/>
<circle cx="325.74" cy="210.40" r="0.45" fill="#5a5eb8" opacity="0.3"/>
<circle cx="324.66" cy="207.85" r="0.45" fill="#5a5eb8" opacity="0.3"/>
<circle cx="318.03" cy="206.23" r="0.45" fill="#5a5eb8" opacity="0.3"/>
<circle cx="313.82" cy="212.94" r="0.45" fill="#5a5eb8" opacity="0.3"/>
<circle cx="329.64" cy="207.56" r="0.45" fill="#5a5eb8" opacity="0.3"/>
<circle cx="329.83" cy="201.94" r="0.45" fill="#5a5eb8" opacity="0.3"/>
<circle cx="329.65" cy="208.73" r="0.45" fill="#5a5eb8" opacity="0.3"/>
<circle cx="335.08" cy="205.13" r="0.45" fill="#5a5eb8" opacity="0.3"/>
<circle cx="326.43" cy="208.33" r="0.45" fill="#5a5eb8" opacity="0.3"/>
<circle cx="330.98" cy="209.18" r="0.45" fill="#5a5eb8" opacity="0.3"/>
<circle cx="331.28" cy="212.96" r="0.45" fill="#5a5eb8" opacity="0.3"/>
<circle cx="331.18" cy="210.37" r="0.45" fill="#5a5eb8" opacity="0.3"/>
<circle cx="328.68" cy="201.60" r="0.45" fill="#5a5eb8" opacity="0.3"/>
<circle cx="333.10" cy="206.73" r="0.45" fill="#5a5eb8" opacity="0.3"/>
<circle cx="328.91" cy="202.61" r="0.45" fill="#5a5eb8" opacity="0.3"/>
<circle cx="340.33" cy="214.25" r="0.45" fill="#5a5eb8" opacity="0.3"/>
<circle cx="327.60" cy="211.40" r="0.45" fill="#5a5eb8" opacity="0.3"/>
<circle cx="335.55" cy="218.96" r="0.45" fill="#5a5eb8" opacity="0.3"/>
<circle cx="331.08" cy="213.65" r="0.45" fill="#5a5eb8" opacity="0.3"/>
<circle cx="324.58" cy="207.68" r="0.45" fill="#5a5eb8" opacity="0.3"/>
<circle cx="328.57" cy="207.29" r="0.45" fill="#5a5eb8" opacity="0.3"/>
<circle cx="322.81" cy="211.71" r="0.45" fill="#5a5eb8" opacity="0.3"/>
<circle cx="323.97" cy="204.53" r="0.45" fill="#5a5eb8" opacity="0.3"/>
<circle cx="328.97" cy="215.79" r="0.45" fill="#5a5eb8" opacity="0.3"/>
<circle cx="336.78" cy="208.04" r="0.45" fill="#5a5eb8" opacity="0.3"/>
<circle cx="322.94" cy="201.81" r="0.45" fill="#5a5eb8" opacity="0.3"/>
<circle cx="329.93" cy="212.77" r="0.45" fill="#5a5eb8" opacity="0.3"/>
<circle cx="334.99" cy="208.24" r="0.45" fill="#5a5eb8" opacity="0.3"/>
<circle cx="324.83" cy="211.07" r="0.45" fill="#5a5eb8" opacity="0.3"/>
<circle cx="337.52" cy="208.74" r="0.45" fill="#5a5eb8" opacity="0.3"/>
<circle cx="332.84" cy="207.26" r="0.45" fill="#5a5eb8" opacity="0.3"/>
<circle cx="328.50" cy="215.85" r="0.45" fill="#5a5eb8" opacity="0.3"/>
<circle cx="326.32" cy="215.44" r="0.45" fill="#5a5eb8" opacity="0.3"/>
<circle cx="327.58" cy="208.91" r="0.45" fill="#5a5eb8" opacity="0.3"/>
<circle cx="334.92" cy="212.33" r="0.45" fill="#5a5eb8" opacity="0.3"/>
<circle cx="326.34" cy="208.37" r="0.45" fill="#5a5eb8" opacity="0.3"/>
<circle cx="329.98" cy="209.23" r="0.45" fill="#5a5eb8" opacity="0.3"/>
<circle cx="329.48" cy="213.11" r="0.45" fill="#5a5eb8" opacity="0.3"/>
<circle cx="323.85" cy="213.15" r="0.45" fill="#5a5eb8" opacity="0.3"/>
<circle cx="335.74" cy="202.90" r="0.45" fill="#5a5eb8" opacity="0.3"/>
<circle cx="329.72" cy="205.09" r="0.45" fill="#5a5eb8" opacity="0.3"/>
<circle cx="320.34" cy="209.22" r="0.45" fill="#5a5eb8" opacity="0.3"/>
<circle cx="333.50" cy="206.80" r="0.45" fill="#5a5eb8" opacity="0.3"/>
<circle cx="331.93" cy="209.15" r="0.45" fill="#5a5eb8" opacity="0.3"/>
<circle cx="317.89" cy="208.06" r="0.45" fill="#5a5eb8" opacity="0.3"/>
<circle cx="335.99" cy="215.90" r="0.45" fill="#5a5eb8" opacity="0.3"/>
<circle cx="322.43" cy="201.57" r="0.45" fill="#5a5eb8" opacity="0.3"/>
<circle cx="332.32" cy="207.67" r="0.45" fill="#5a5eb8" opacity="0.3"/>
<circle cx="330.88" cy="206.51" r="0.45" fill="#5a5eb8" opacity="0.3"/>
<circle cx="334.44" cy="212.29" r="0.45" fill="#5a5eb8" opacity="0.3"/>
<circle cx="327.72" cy="209.13" r="0.45" fill="#5a5eb8" opacity="0.3"/>
<circle cx="329.40" cy="211.94" r="0.45" fill="#5a5eb8" opacity="0.3"/>
<circle cx="331.81" cy="210.64" r="0.45" fill="#5a5eb8" opacity="0.3"/>
<circle cx="334.16" cy="209.50" r="0.45" fill="#5a5eb8" opacity="0.3"/>
<circle cx="327.08" cy="213.43" r="0.45" fill="#5a5eb8" opacity="0.3"/>
<circle cx="327.18" cy="202.79" r="0.45" fill="#5a5eb8" opacity="0.3"/>
<circle cx="324.72" cy="209.32" r="0.45" fill="#5a5eb8" opacity="0.3"/>
<circle cx="327.05" cy="206.93" r="0.45" fill="#5a5eb8" opacity="0.3"/>
<circle cx="331.30" cy="211.11" r="0.45" fill="#5a5eb8" opacity="0.3"/>
<circle cx="328.40" cy="206.70" r="0.45" fill="#5a5eb8" opacity="0.3"/>
<circle cx="330.95" cy="213.40" r="0.45" fill="#5a5eb8" opacity="0.3"/>
<circle cx="322.03" cy="206.29" r="0.45" fill="#5a5eb8" opacity="0.3"/>
<circle cx="323.24" cy="205.46" r="0.45" fill="#5a5eb8" opacity="0.3"/>
<circle cx="334.67" cy="218.92" r="0.45" fill="#5a5eb8" opacity="0.3"/>
<circle cx="329.50" cy="204.11" r="0.45" fill="#5a5eb8" opacity="0.3"/>
<circle cx="323.73" cy="212.81" r="0.45" fill="#5a5eb8" opacity="0.3"/>
<circle cx="336.31" cy="213.71" r="0.45" fill="#5a5eb8" opacity="0.3"/>
<circle cx="334.68" cy="206.38" r="0.45" fill="#5a5eb8" opacity="0.3"/>
<circle cx="325.42" cy="209.02" r="0.45" fill="#5a5eb8" opacity="0.3"/>
<circle cx="334.92" cy="206.49" r="0.45" fill="#5a5eb8" opacity="0.3"/>
<circle cx="323.93" cy="214.82" r="0.45" fill="#5a5eb8" opacity="0.3"/>
<circle cx="320.94" cy="216.48" r="0.45" fill="#5a5eb8" opacity="0.3"/>
<circle cx="323.21" cy="212.39" r="0.45" fill="#5a5eb8" opacity="0.3"/>
<circle cx="327.29" cy="215.03" r="0.45" fill="#5a5eb8" opacity="0.3"/>
<circle cx="327.23" cy="209.39" r="0.45" fill="#5a5eb8" opacity="0.3"/>
<circle cx="332.72" cy="207.18" r="0.45" fill="#5a5eb8" opacity="0.3"/>
<circle cx="321.98" cy="205.69" r="0.45" fill="#5a5eb8" opacity="0.3"/>
<circle cx="324.76" cy="209.84" r="0.45" fill="#5a5eb8" opacity="0.3"/>
<circle cx="307.46" cy="214.41" r="0.45" fill="#5a5eb8" opacity="0.3"/>
<circle cx="342.45" cy="209.75" r="0.45" fill="#5a5eb8" opacity="0.3"/>
<circle cx="324.63" cy="205.57" r="0.45" fill="#5a5eb8" opacity="0.3"/>
<ellipse cx="334.00" cy="188.80" rx="10.00" ry="3.00" fill="#b6b8e4" opacity="0.6" filter="url(#b1)"/>
<ellipse cx="328.00" cy="188.60" rx="4.50" ry="2.40" fill="#5d62bb" opacity="0.75" filter="url(#b1)"/>
<circle cx="324.11" cy="186.53" r="0.45" fill="#4a4eaa" opacity="0.32"/>
<circle cx="333.35" cy="184.47" r="0.45" fill="#4a4eaa" opacity="0.32"/>
<circle cx="329.28" cy="184.54" r="0.45" fill="#4a4eaa" opacity="0.32"/>
<circle cx="335.50" cy="188.97" r="0.45" fill="#4a4eaa" opacity="0.32"/>
<circle cx="336.78" cy="187.69" r="0.45" fill="#4a4eaa" opacity="0.32"/>
<circle cx="331.99" cy="188.09" r="0.45" fill="#4a4eaa" opacity="0.32"/>
<circle cx="326.31" cy="188.86" r="0.45" fill="#4a4eaa" opacity="0.32"/>
<circle cx="323.71" cy="187.96" r="0.45" fill="#4a4eaa" opacity="0.32"/>
<circle cx="333.48" cy="188.70" r="0.45" fill="#4a4eaa" opacity="0.32"/>
<circle cx="327.95" cy="192.54" r="0.45" fill="#4a4eaa" opacity="0.32"/>
<circle cx="330.29" cy="187.54" r="0.45" fill="#4a4eaa" opacity="0.32"/>
<circle cx="330.80" cy="187.66" r="0.45" fill="#4a4eaa" opacity="0.32"/>
<circle cx="328.07" cy="187.97" r="0.45" fill="#4a4eaa" opacity="0.32"/>
<circle cx="340.13" cy="188.64" r="0.45" fill="#4a4eaa" opacity="0.32"/>
<circle cx="330.88" cy="189.81" r="0.45" fill="#4a4eaa" opacity="0.32"/>
<circle cx="340.08" cy="188.20" r="0.45" fill="#4a4eaa" opacity="0.32"/>
<circle cx="326.88" cy="193.05" r="0.45" fill="#4a4eaa" opacity="0.32"/>
<circle cx="322.70" cy="187.94" r="0.45" fill="#4a4eaa" opacity="0.32"/>
<circle cx="333.33" cy="192.71" r="0.45" fill="#4a4eaa" opacity="0.32"/>
<circle cx="325.25" cy="184.23" r="0.45" fill="#4a4eaa" opacity="0.32"/>
<circle cx="333.31" cy="187.66" r="0.45" fill="#4a4eaa" opacity="0.32"/>
<circle cx="328.06" cy="189.43" r="0.45" fill="#4a4eaa" opacity="0.32"/>
<circle cx="331.12" cy="189.12" r="0.45" fill="#4a4eaa" opacity="0.32"/>
<circle cx="327.84" cy="190.92" r="0.45" fill="#4a4eaa" opacity="0.32"/>
<circle cx="337.52" cy="188.66" r="0.45" fill="#4a4eaa" opacity="0.32"/>
<circle cx="327.74" cy="189.92" r="0.45" fill="#4a4eaa" opacity="0.32"/>
<circle cx="332.39" cy="186.73" r="0.45" fill="#4a4eaa" opacity="0.32"/>
<circle cx="327.70" cy="190.49" r="0.45" fill="#4a4eaa" opacity="0.32"/>
<circle cx="329.52" cy="188.01" r="0.45" fill="#4a4eaa" opacity="0.32"/>
<circle cx="331.06" cy="188.54" r="0.45" fill="#4a4eaa" opacity="0.32"/>
<circle cx="329.99" cy="185.12" r="0.45" fill="#4a4eaa" opacity="0.32"/>
<circle cx="338.75" cy="188.96" r="0.45" fill="#4a4eaa" opacity="0.32"/>
<circle cx="325.62" cy="190.36" r="0.45" fill="#4a4eaa" opacity="0.32"/>
<circle cx="331.54" cy="188.63" r="0.45" fill="#4a4eaa" opacity="0.32"/>
<circle cx="335.24" cy="192.67" r="0.45" fill="#4a4eaa" opacity="0.32"/>
<circle cx="332.77" cy="191.45" r="0.45" fill="#4a4eaa" opacity="0.32"/>
<circle cx="340.79" cy="186.76" r="0.45" fill="#4a4eaa" opacity="0.32"/>
<circle cx="327.38" cy="190.00" r="0.45" fill="#4a4eaa" opacity="0.32"/>
<circle cx="321.46" cy="188.12" r="0.45" fill="#4a4eaa" opacity="0.32"/>
<circle cx="336.46" cy="190.48" r="0.45" fill="#4a4eaa" opacity="0.32"/>
<circle cx="332.90" cy="185.19" r="0.45" fill="#4a4eaa" opacity="0.32"/>
<circle cx="341.75" cy="189.59" r="0.45" fill="#4a4eaa" opacity="0.32"/>
<circle cx="333.84" cy="189.49" r="0.45" fill="#4a4eaa" opacity="0.32"/>
<circle cx="321.42" cy="186.02" r="0.45" fill="#4a4eaa" opacity="0.32"/>
<circle cx="323.92" cy="192.05" r="0.45" fill="#4a4eaa" opacity="0.32"/>
<circle cx="325.85" cy="188.16" r="0.45" fill="#4a4eaa" opacity="0.32"/>
<circle cx="328.73" cy="189.63" r="0.45" fill="#4a4eaa" opacity="0.32"/>
<circle cx="332.50" cy="189.08" r="0.45" fill="#4a4eaa" opacity="0.32"/>
<circle cx="323.69" cy="182.95" r="0.45" fill="#4a4eaa" opacity="0.32"/>
<circle cx="330.83" cy="189.08" r="0.45" fill="#4a4eaa" opacity="0.32"/>
<circle cx="336.15" cy="188.41" r="0.45" fill="#4a4eaa" opacity="0.32"/>
<circle cx="326.94" cy="189.34" r="0.45" fill="#4a4eaa" opacity="0.32"/>
<circle cx="322.23" cy="186.73" r="0.45" fill="#4a4eaa" opacity="0.32"/>
<circle cx="324.97" cy="189.12" r="0.45" fill="#4a4eaa" opacity="0.32"/>
<circle cx="340.46" cy="189.97" r="0.45" fill="#4a4eaa" opacity="0.32"/>
<circle cx="335.71" cy="189.03" r="0.45" fill="#4a4eaa" opacity="0.32"/>
<circle cx="331.40" cy="187.79" r="0.45" fill="#4a4eaa" opacity="0.32"/>
<circle cx="328.59" cy="184.23" r="0.45" fill="#4a4eaa" opacity="0.32"/>
<circle cx="323.99" cy="186.28" r="0.45" fill="#4a4eaa" opacity="0.32"/>
<circle cx="334.19" cy="189.79" r="0.45" fill="#4a4eaa" opacity="0.32"/>
<circle cx="335.71" cy="191.40" r="0.45" fill="#4a4eaa" opacity="0.32"/>
<circle cx="328.47" cy="190.50" r="0.45" fill="#4a4eaa" opacity="0.32"/>
<circle cx="339.78" cy="188.58" r="0.45" fill="#4a4eaa" opacity="0.32"/>
<circle cx="335.43" cy="188.30" r="0.45" fill="#4a4eaa" opacity="0.32"/>
<circle cx="321.94" cy="188.82" r="0.45" fill="#4a4eaa" opacity="0.32"/>
<circle cx="325.89" cy="188.80" r="0.45" fill="#4a4eaa" opacity="0.32"/>
<circle cx="327.68" cy="189.18" r="0.45" fill="#4a4eaa" opacity="0.32"/>
<circle cx="319.31" cy="192.35" r="0.45" fill="#4a4eaa" opacity="0.32"/>
<circle cx="336.80" cy="187.97" r="0.45" fill="#4a4eaa" opacity="0.32"/>
<circle cx="325.45" cy="188.61" r="0.45" fill="#4a4eaa" opacity="0.32"/>
<circle cx="333.38" cy="189.36" r="0.45" fill="#4a4eaa" opacity="0.32"/>
<circle cx="332.01" cy="185.05" r="0.45" fill="#4a4eaa" opacity="0.32"/>
<circle cx="324.35" cy="191.02" r="0.45" fill="#4a4eaa" opacity="0.32"/>
<circle cx="331.20" cy="185.86" r="0.45" fill="#4a4eaa" opacity="0.32"/>
<circle cx="325.66" cy="185.99" r="0.45" fill="#4a4eaa" opacity="0.32"/>
<circle cx="324.90" cy="190.73" r="0.45" fill="#4a4eaa" opacity="0.32"/>
<circle cx="328.89" cy="190.64" r="0.45" fill="#4a4eaa" opacity="0.32"/>
<circle cx="330.95" cy="185.86" r="0.45" fill="#4a4eaa" opacity="0.32"/>
<circle cx="326.72" cy="192.78" r="0.45" fill="#4a4eaa" opacity="0.32"/>
<circle cx="326.12" cy="186.68" r="0.45" fill="#4a4eaa" opacity="0.32"/>
<circle cx="336.28" cy="188.76" r="0.45" fill="#4a4eaa" opacity="0.32"/>
<circle cx="329.97" cy="191.29" r="0.45" fill="#4a4eaa" opacity="0.32"/>
<circle cx="321.04" cy="189.37" r="0.45" fill="#4a4eaa" opacity="0.32"/>
<circle cx="324.63" cy="186.03" r="0.45" fill="#4a4eaa" opacity="0.32"/>
<circle cx="325.85" cy="190.71" r="0.45" fill="#4a4eaa" opacity="0.32"/>
<circle cx="329.28" cy="185.23" r="0.45" fill="#4a4eaa" opacity="0.32"/>
<circle cx="324.34" cy="191.40" r="0.45" fill="#4a4eaa" opacity="0.32"/>
<circle cx="335.22" cy="186.60" r="0.45" fill="#4a4eaa" opacity="0.32"/>
<circle cx="342.38" cy="187.93" r="0.45" fill="#4a4eaa" opacity="0.32"/>
<circle cx="323.90" cy="188.35" r="0.45" fill="#4a4eaa" opacity="0.32"/>
<circle cx="334.78" cy="191.56" r="0.45" fill="#4a4eaa" opacity="0.32"/>
<circle cx="335.26" cy="187.81" r="0.45" fill="#4a4eaa" opacity="0.32"/>
<circle cx="327.13" cy="185.92" r="0.45" fill="#4a4eaa" opacity="0.32"/>
<circle cx="329.62" cy="187.50" r="0.45" fill="#4a4eaa" opacity="0.32"/>
<circle cx="331.25" cy="186.27" r="0.45" fill="#4a4eaa" opacity="0.32"/>
<circle cx="327.36" cy="186.98" r="0.45" fill="#4a4eaa" opacity="0.32"/>
<circle cx="323.85" cy="186.42" r="0.45" fill="#4a4eaa" opacity="0.32"/>
<circle cx="324.79" cy="186.42" r="0.45" fill="#4a4eaa" opacity="0.32"/>
<circle cx="332.91" cy="188.78" r="0.45" fill="#4a4eaa" opacity="0.32"/>
<circle cx="323.24" cy="189.54" r="0.45" fill="#4a4eaa" opacity="0.32"/>
<circle cx="331.47" cy="191.29" r="0.45" fill="#4a4eaa" opacity="0.32"/>
<circle cx="329.00" cy="188.21" r="0.45" fill="#4a4eaa" opacity="0.32"/>
<circle cx="326.48" cy="188.83" r="0.45" fill="#4a4eaa" opacity="0.32"/>
<circle cx="332.52" cy="188.92" r="0.45" fill="#4a4eaa" opacity="0.32"/>
<circle cx="328.70" cy="189.64" r="0.45" fill="#4a4eaa" opacity="0.32"/>
<circle cx="330.47" cy="189.05" r="0.45" fill="#4a4eaa" opacity="0.32"/>
<circle cx="325.22" cy="188.98" r="0.45" fill="#4a4eaa" opacity="0.32"/>
<circle cx="324.90" cy="187.05" r="0.45" fill="#4a4eaa" opacity="0.32"/>
<circle cx="330.82" cy="192.48" r="0.45" fill="#4a4eaa" opacity="0.32"/>
<circle cx="335.10" cy="188.61" r="0.45" fill="#4a4eaa" opacity="0.32"/>
<circle cx="329.08" cy="190.42" r="0.45" fill="#4a4eaa" opacity="0.32"/>
<circle cx="337.07" cy="190.85" r="0.45" fill="#4a4eaa" opacity="0.32"/>
<circle cx="329.05" cy="188.95" r="0.45" fill="#4a4eaa" opacity="0.32"/>
<circle cx="328.31" cy="188.07" r="0.45" fill="#4a4eaa" opacity="0.32"/>
<circle cx="325.63" cy="188.14" r="0.45" fill="#4a4eaa" opacity="0.32"/>
<circle cx="318.99" cy="186.39" r="0.45" fill="#4a4eaa" opacity="0.32"/>
<circle cx="332.18" cy="186.90" r="0.45" fill="#4a4eaa" opacity="0.32"/>
<circle cx="332.76" cy="186.22" r="0.45" fill="#4a4eaa" opacity="0.32"/>
<circle cx="328.11" cy="189.33" r="0.45" fill="#4a4eaa" opacity="0.32"/>
<circle cx="324.69" cy="187.29" r="0.45" fill="#4a4eaa" opacity="0.32"/>
<circle cx="342.65" cy="187.35" r="0.45" fill="#4a4eaa" opacity="0.32"/>
<circle cx="326.39" cy="187.54" r="0.45" fill="#4a4eaa" opacity="0.32"/>
<circle cx="330.17" cy="188.55" r="0.45" fill="#4a4eaa" opacity="0.32"/>
<circle cx="335.03" cy="190.06" r="0.45" fill="#4a4eaa" opacity="0.32"/>
<circle cx="327.94" cy="187.94" r="0.45" fill="#4a4eaa" opacity="0.32"/>
<circle cx="322.76" cy="185.84" r="0.45" fill="#4a4eaa" opacity="0.32"/>
<circle cx="326.22" cy="189.95" r="0.45" fill="#4a4eaa" opacity="0.32"/>
<circle cx="330.61" cy="190.08" r="0.45" fill="#4a4eaa" opacity="0.32"/>
<circle cx="334.81" cy="188.30" r="0.45" fill="#4a4eaa" opacity="0.32"/>
<circle cx="340.74" cy="187.64" r="0.45" fill="#4a4eaa" opacity="0.32"/>
<circle cx="326.80" cy="187.81" r="0.45" fill="#4a4eaa" opacity="0.32"/>
<circle cx="335.81" cy="188.35" r="0.45" fill="#4a4eaa" opacity="0.32"/>
<circle cx="326.22" cy="189.40" r="0.45" fill="#4a4eaa" opacity="0.32"/>
<circle cx="335.79" cy="188.39" r="0.45" fill="#4a4eaa" opacity="0.32"/>
<circle cx="328.71" cy="190.60" r="0.45" fill="#4a4eaa" opacity="0.32"/>
<circle cx="335.03" cy="190.34" r="0.45" fill="#4a4eaa" opacity="0.32"/>
<circle cx="326.10" cy="189.12" r="0.45" fill="#4a4eaa" opacity="0.32"/>
<circle cx="331.85" cy="185.30" r="0.45" fill="#4a4eaa" opacity="0.32"/>
<circle cx="336.15" cy="188.78" r="0.45" fill="#4a4eaa" opacity="0.32"/>
<circle cx="328.26" cy="192.76" r="0.45" fill="#4a4eaa" opacity="0.32"/>
<circle cx="330.75" cy="187.28" r="0.45" fill="#4a4eaa" opacity="0.32"/>
<circle cx="329.68" cy="189.64" r="0.45" fill="#4a4eaa" opacity="0.32"/>
<circle cx="334.16" cy="188.49" r="0.45" fill="#4a4eaa" opacity="0.32"/>
<circle cx="325.58" cy="187.32" r="0.45" fill="#4a4eaa" opacity="0.32"/>
<circle cx="325.83" cy="186.67" r="0.45" fill="#4a4eaa" opacity="0.32"/>
<circle cx="329.90" cy="187.70" r="0.45" fill="#4a4eaa" opacity="0.32"/>
<circle cx="330.28" cy="187.08" r="0.45" fill="#4a4eaa" opacity="0.32"/>
<circle cx="325.57" cy="188.26" r="0.45" fill="#4a4eaa" opacity="0.32"/>
<circle cx="328.22" cy="190.72" r="0.45" fill="#4a4eaa" opacity="0.32"/>
<circle cx="325.39" cy="188.98" r="0.45" fill="#4a4eaa" opacity="0.32"/>
<circle cx="329.79" cy="186.19" r="0.45" fill="#4a4eaa" opacity="0.32"/>
<circle cx="333.71" cy="188.91" r="0.45" fill="#4a4eaa" opacity="0.32"/>
<circle cx="319.29" cy="189.70" r="0.45" fill="#4a4eaa" opacity="0.32"/>
<circle cx="334.79" cy="187.14" r="0.45" fill="#4a4eaa" opacity="0.32"/>
<circle cx="338.64" cy="188.89" r="0.45" fill="#4a4eaa" opacity="0.32"/>
<circle cx="324.12" cy="189.63" r="0.45" fill="#4a4eaa" opacity="0.32"/>
<circle cx="328.16" cy="186.14" r="0.45" fill="#4a4eaa" opacity="0.32"/>
<circle cx="319.06" cy="189.05" r="0.45" fill="#4a4eaa" opacity="0.32"/>
<circle cx="326.25" cy="189.78" r="0.45" fill="#4a4eaa" opacity="0.32"/>
<circle cx="331.98" cy="187.65" r="0.45" fill="#4a4eaa" opacity="0.32"/>
<circle cx="327.29" cy="191.85" r="0.45" fill="#4a4eaa" opacity="0.32"/>
<circle cx="338.70" cy="189.98" r="0.45" fill="#4a4eaa" opacity="0.32"/>
<circle cx="328.18" cy="186.80" r="0.45" fill="#4a4eaa" opacity="0.32"/>
<circle cx="328.03" cy="191.65" r="0.45" fill="#4a4eaa" opacity="0.32"/>
<circle cx="332.35" cy="188.07" r="0.45" fill="#4a4eaa" opacity="0.32"/>
<circle cx="323.75" cy="188.91" r="0.45" fill="#4a4eaa" opacity="0.32"/>
<circle cx="325.52" cy="188.62" r="0.45" fill="#4a4eaa" opacity="0.32"/>
<circle cx="333.78" cy="190.56" r="0.45" fill="#4a4eaa" opacity="0.32"/>
<circle cx="330.71" cy="187.97" r="0.45" fill="#4a4eaa" opacity="0.32"/>
<circle cx="331.16" cy="191.91" r="0.45" fill="#4a4eaa" opacity="0.32"/>
<circle cx="331.91" cy="186.03" r="0.45" fill="#4a4eaa" opacity="0.32"/>
<circle cx="337.90" cy="189.06" r="0.45" fill="#4a4eaa" opacity="0.32"/>
<circle cx="347.73" cy="187.74" r="0.45" fill="#4a4eaa" opacity="0.32"/>
<circle cx="329.52" cy="188.06" r="0.45" fill="#4a4eaa" opacity="0.32"/>
<circle cx="331.92" cy="187.54" r="0.45" fill="#4a4eaa" opacity="0.32"/>
<circle cx="322.49" cy="185.08" r="0.45" fill="#4a4eaa" opacity="0.32"/>
<circle cx="329.37" cy="187.66" r="0.45" fill="#4a4eaa" opacity="0.32"/>
<circle cx="327.05" cy="192.48" r="0.45" fill="#4a4eaa" opacity="0.32"/>
<circle cx="334.05" cy="190.60" r="0.45" fill="#4a4eaa" opacity="0.32"/>
<circle cx="327.46" cy="189.15" r="0.45" fill="#4a4eaa" opacity="0.32"/>
<circle cx="328.93" cy="188.23" r="0.45" fill="#4a4eaa" opacity="0.32"/>
<circle cx="333.80" cy="189.71" r="0.45" fill="#4a4eaa" opacity="0.32"/>
<circle cx="331.55" cy="188.87" r="0.45" fill="#4a4eaa" opacity="0.32"/>
<circle cx="322.67" cy="187.25" r="0.45" fill="#4a4eaa" opacity="0.32"/>
<circle cx="331.94" cy="187.93" r="0.45" fill="#4a4eaa" opacity="0.32"/>
<circle cx="326.05" cy="189.25" r="0.45" fill="#4a4eaa" opacity="0.32"/>
<circle cx="325.31" cy="187.37" r="0.45" fill="#4a4eaa" opacity="0.32"/>
<circle cx="334.48" cy="187.94" r="0.45" fill="#4a4eaa" opacity="0.32"/>
<circle cx="337.26" cy="189.55" r="0.45" fill="#4a4eaa" opacity="0.32"/>
<circle cx="334.11" cy="190.67" r="0.45" fill="#4a4eaa" opacity="0.32"/>
<circle cx="319.02" cy="188.45" r="0.45" fill="#4a4eaa" opacity="0.32"/>
<circle cx="323.45" cy="187.75" r="0.45" fill="#4a4eaa" opacity="0.32"/>
<circle cx="329.47" cy="190.87" r="0.45" fill="#4a4eaa" opacity="0.32"/>
<circle cx="329.78" cy="191.60" r="0.45" fill="#4a4eaa" opacity="0.32"/>
<circle cx="327.34" cy="188.50" r="0.45" fill="#4a4eaa" opacity="0.32"/>
<circle cx="330.47" cy="190.33" r="0.45" fill="#4a4eaa" opacity="0.32"/>
<circle cx="329.74" cy="187.47" r="0.45" fill="#4a4eaa" opacity="0.32"/>
<circle cx="328.33" cy="186.04" r="0.45" fill="#4a4eaa" opacity="0.32"/>
<circle cx="336.38" cy="189.96" r="0.45" fill="#4a4eaa" opacity="0.32"/>
<circle cx="332.17" cy="189.10" r="0.45" fill="#4a4eaa" opacity="0.32"/>
<circle cx="326.93" cy="187.86" r="0.45" fill="#4a4eaa" opacity="0.32"/>
<circle cx="334.09" cy="187.16" r="0.45" fill="#4a4eaa" opacity="0.32"/>
<circle cx="326.04" cy="191.48" r="0.45" fill="#4a4eaa" opacity="0.32"/>
<circle cx="337.90" cy="189.13" r="0.45" fill="#4a4eaa" opacity="0.32"/>
<circle cx="332.70" cy="188.94" r="0.45" fill="#4a4eaa" opacity="0.32"/>
<circle cx="337.22" cy="187.79" r="0.45" fill="#4a4eaa" opacity="0.32"/>
<circle cx="330.42" cy="189.48" r="0.45" fill="#4a4eaa" opacity="0.32"/>
<circle cx="337.29" cy="188.15" r="0.45" fill="#4a4eaa" opacity="0.32"/>
<circle cx="331.18" cy="187.71" r="0.45" fill="#4a4eaa" opacity="0.32"/>
<circle cx="326.69" cy="187.41" r="0.45" fill="#4a4eaa" opacity="0.32"/>
<circle cx="330.42" cy="190.21" r="0.45" fill="#4a4eaa" opacity="0.32"/>
<circle cx="326.50" cy="187.51" r="0.45" fill="#4a4eaa" opacity="0.32"/>
<circle cx="327.96" cy="189.24" r="0.45" fill="#4a4eaa" opacity="0.32"/>
<circle cx="333.52" cy="186.33" r="0.45" fill="#4a4eaa" opacity="0.32"/>
<circle cx="331.79" cy="186.79" r="0.45" fill="#4a4eaa" opacity="0.32"/>
<circle cx="333.60" cy="186.85" r="0.45" fill="#4a4eaa" opacity="0.32"/>
<circle cx="324.55" cy="187.31" r="0.45" fill="#4a4eaa" opacity="0.32"/>
<circle cx="329.69" cy="186.80" r="0.45" fill="#4a4eaa" opacity="0.32"/>
<circle cx="331.06" cy="188.87" r="0.45" fill="#4a4eaa" opacity="0.32"/>
<circle cx="330.42" cy="189.09" r="0.45" fill="#4a4eaa" opacity="0.32"/>
<path d="M318.4 184.0 C319.6 182.6 322.4 182.8 323.6 185.0 L324.3 212 C324.6 219.0 322.9 220.6 320.6 220.6 C318.2 220.6 317.0 219.0 317.2 212 Z" fill="#22308c" filter="url(#b0)"/>
<path d="M318.9 185.2 C319.9 184.2 322.0 184.4 322.8 186.2 L323.4 212 C323.6 217.8 322.3 219.4 320.6 219.4 C318.9 219.4 318.1 217.8 318.1 212 Z" fill="#3aaee0" filter="url(#b0)"/>
<rect x="319.60" y="190.00" width="2.60" height="25.50" rx="1.30" fill="#63bf63" opacity="0.9" filter="url(#b0)"/>
<ellipse cx="319.9" cy="211.4" rx="1.9" ry="3.0" fill="#f0cc2e" filter="url(#b0)"/>
<ellipse cx="319.7" cy="211.6" rx="1.0" ry="1.7" fill="#d8402a" filter="url(#b0)"/>
</g>
<rect x="308.2" y="174.3" width="50.0" height="49.599999999999994" fill="none" stroke="#222" stroke-width="0.9"/>
<rect x="313.3" y="180.3" width="11.9" height="16.1" fill="none" stroke="#888" stroke-width="0.6"/>
<rect x="326.2" y="183.2" width="22.2" height="11.9" fill="none" stroke="#888" stroke-width="0.6"/>
<text x="311.70" y="180.30" font-size="5.8" text-anchor="start" font-weight="normal" font-style="normal" fill="#333">MP</text>
<text x="337.10" y="180.80" font-size="5.8" text-anchor="start" font-weight="normal" font-style="normal" fill="#333">LSK</text>
<polyline points="322.60,182.00 322.60,165.30 485.60,165.30 485.60,171.00" fill="none" stroke="#333" stroke-width="0.8"/>
<polygon points="485.6,173.3 484.2,170.6 487.0,170.6" fill="#222"/>
<line x1="348.40" y1="190.60" x2="361.40" y2="190.60" stroke="#333" stroke-width="0.8"/>
<polygon points="363.4,190.6 360.6,189.2 360.6,192.0" fill="#222"/>
<text x="305.00" y="181.30" font-size="5.7" text-anchor="end" font-weight="normal" font-style="normal" fill="#231f20">10<tspan baseline-shift="2.3" font-size="4.2">5</tspan></text>
<text x="305.00" y="193.10" font-size="5.7" text-anchor="end" font-weight="normal" font-style="normal" fill="#231f20">10<tspan baseline-shift="2.3" font-size="4.2">4</tspan></text>
<text x="305.00" y="205.40" font-size="5.7" text-anchor="end" font-weight="normal" font-style="normal" fill="#231f20">10<tspan baseline-shift="2.3" font-size="4.2">3</tspan></text>
<text x="305.00" y="214.90" font-size="5.7" text-anchor="end" font-weight="normal" font-style="normal" fill="#231f20">0</text>
<text x="305.00" y="226.50" font-size="5.7" text-anchor="end" font-weight="normal" font-style="normal" fill="#231f20">&#8722;10<tspan baseline-shift="2.3" font-size="4.2">3</tspan></text>
<text x="0.00" y="0.00" font-size="6.2" text-anchor="end" font-weight="normal" font-style="normal" fill="#231f20" transform="translate(314.50,231.40) rotate(-45)">&#8722;10<tspan baseline-shift="2.3" font-size="4.2">3</tspan></text>
<text x="0.00" y="0.00" font-size="6.2" text-anchor="end" font-weight="normal" font-style="normal" fill="#231f20" transform="translate(323.30,231.40) rotate(-45)">0</text>
<text x="0.00" y="0.00" font-size="6.2" text-anchor="end" font-weight="normal" font-style="normal" fill="#231f20" transform="translate(332.70,231.40) rotate(-45)">10<tspan baseline-shift="2.3" font-size="4.2">2</tspan></text>
<text x="0.00" y="0.00" font-size="6.2" text-anchor="end" font-weight="normal" font-style="normal" fill="#231f20" transform="translate(345.80,231.40) rotate(-45)">10<tspan baseline-shift="2.3" font-size="4.2">4</tspan></text>
<text x="0.00" y="0.00" font-size="6.2" text-anchor="end" font-weight="normal" font-style="normal" fill="#231f20" transform="translate(357.40,231.40) rotate(-45)">10<tspan baseline-shift="2.3" font-size="4.2">5</tspan></text>
<line x1="319.60" y1="223.90" x2="319.60" y2="225.10" stroke="#222" stroke-width="0.8"/>
<text x="0.00" y="0.00" font-size="7.6" text-anchor="middle" font-weight="normal" font-style="normal" fill="#231f20" transform="translate(290.10,217.40) rotate(-90)">c-Kit</text>
<line x1="287.50" y1="175.60" x2="287.50" y2="204.20" stroke="#333" stroke-width="1.4"/>
<text x="294.80" y="248.30" font-size="7.5" text-anchor="start" font-weight="normal" font-style="normal" fill="#231f20">Sca1</text>
<line x1="315.10" y1="246.00" x2="356.90" y2="246.00" stroke="#333" stroke-width="1.4"/>
<clipPath id="cp2"><rect x="386.3" y="174.3" width="49.599999999999966" height="49.099999999999994"/></clipPath>
<g clip-path="url(#cp2)">
<ellipse cx="394.50" cy="198.00" rx="3.20" ry="6.00" fill="#d3d4ef" opacity="0.6" filter="url(#b1)"/>
<ellipse cx="395.00" cy="213.00" rx="4.00" ry="3.50" fill="#dadbf2" opacity="0.5" filter="url(#b1)"/>
<ellipse cx="413.00" cy="212.50" rx="5.00" ry="3.00" fill="#e2e3f5" opacity="0.5" filter="url(#b1)"/>
<circle cx="393.94" cy="200.56" r="0.45" fill="#8f93cf" opacity="0.25"/>
<circle cx="394.00" cy="196.42" r="0.45" fill="#8f93cf" opacity="0.25"/>
<circle cx="392.45" cy="196.93" r="0.45" fill="#8f93cf" opacity="0.25"/>
<circle cx="396.95" cy="200.12" r="0.45" fill="#8f93cf" opacity="0.25"/>
<circle cx="396.78" cy="199.24" r="0.45" fill="#8f93cf" opacity="0.25"/>
<circle cx="395.37" cy="198.93" r="0.45" fill="#8f93cf" opacity="0.25"/>
<circle cx="390.83" cy="202.28" r="0.45" fill="#8f93cf" opacity="0.25"/>
<circle cx="395.61" cy="200.49" r="0.45" fill="#8f93cf" opacity="0.25"/>
<circle cx="390.78" cy="189.28" r="0.45" fill="#8f93cf" opacity="0.25"/>
<circle cx="392.54" cy="195.66" r="0.45" fill="#8f93cf" opacity="0.25"/>
<circle cx="395.17" cy="197.77" r="0.45" fill="#8f93cf" opacity="0.25"/>
<circle cx="395.65" cy="194.79" r="0.45" fill="#8f93cf" opacity="0.25"/>
<circle cx="395.18" cy="199.97" r="0.45" fill="#8f93cf" opacity="0.25"/>
<circle cx="393.05" cy="206.59" r="0.45" fill="#8f93cf" opacity="0.25"/>
<circle cx="395.72" cy="203.99" r="0.45" fill="#8f93cf" opacity="0.25"/>
<circle cx="393.14" cy="194.30" r="0.45" fill="#8f93cf" opacity="0.25"/>
<circle cx="393.74" cy="197.47" r="0.45" fill="#8f93cf" opacity="0.25"/>
<circle cx="395.89" cy="199.24" r="0.45" fill="#8f93cf" opacity="0.25"/>
<circle cx="393.52" cy="193.22" r="0.45" fill="#8f93cf" opacity="0.25"/>
<circle cx="393.35" cy="204.10" r="0.45" fill="#8f93cf" opacity="0.25"/>
<circle cx="392.72" cy="199.22" r="0.45" fill="#8f93cf" opacity="0.25"/>
<circle cx="395.44" cy="190.55" r="0.45" fill="#8f93cf" opacity="0.25"/>
<circle cx="394.61" cy="204.53" r="0.45" fill="#8f93cf" opacity="0.25"/>
<circle cx="390.07" cy="196.39" r="0.45" fill="#8f93cf" opacity="0.25"/>
<circle cx="394.27" cy="193.91" r="0.45" fill="#8f93cf" opacity="0.25"/>
<circle cx="395.59" cy="197.69" r="0.45" fill="#8f93cf" opacity="0.25"/>
<circle cx="391.28" cy="202.14" r="0.45" fill="#8f93cf" opacity="0.25"/>
<circle cx="395.97" cy="202.73" r="0.45" fill="#8f93cf" opacity="0.25"/>
<circle cx="397.67" cy="199.81" r="0.45" fill="#8f93cf" opacity="0.25"/>
<circle cx="394.76" cy="191.50" r="0.45" fill="#8f93cf" opacity="0.25"/>
<circle cx="395.85" cy="194.94" r="0.45" fill="#8f93cf" opacity="0.25"/>
<circle cx="393.50" cy="191.68" r="0.45" fill="#8f93cf" opacity="0.25"/>
<circle cx="392.37" cy="195.34" r="0.45" fill="#8f93cf" opacity="0.25"/>
<circle cx="397.34" cy="187.84" r="0.45" fill="#8f93cf" opacity="0.25"/>
<circle cx="391.29" cy="199.20" r="0.45" fill="#8f93cf" opacity="0.25"/>
<circle cx="397.68" cy="200.89" r="0.45" fill="#8f93cf" opacity="0.25"/>
<circle cx="390.32" cy="185.41" r="0.45" fill="#8f93cf" opacity="0.25"/>
<circle cx="395.29" cy="194.32" r="0.45" fill="#8f93cf" opacity="0.25"/>
<circle cx="392.04" cy="202.89" r="0.45" fill="#8f93cf" opacity="0.25"/>
<circle cx="396.92" cy="198.79" r="0.45" fill="#8f93cf" opacity="0.25"/>
<circle cx="395.04" cy="200.17" r="0.45" fill="#8f93cf" opacity="0.25"/>
<circle cx="398.01" cy="201.10" r="0.45" fill="#8f93cf" opacity="0.25"/>
<circle cx="395.64" cy="200.74" r="0.45" fill="#8f93cf" opacity="0.25"/>
<circle cx="391.05" cy="204.41" r="0.45" fill="#8f93cf" opacity="0.25"/>
<circle cx="396.60" cy="200.65" r="0.45" fill="#8f93cf" opacity="0.25"/>
<circle cx="390.16" cy="194.83" r="0.45" fill="#8f93cf" opacity="0.25"/>
<circle cx="396.35" cy="188.94" r="0.45" fill="#8f93cf" opacity="0.25"/>
<circle cx="394.10" cy="203.10" r="0.45" fill="#8f93cf" opacity="0.25"/>
<circle cx="391.62" cy="206.05" r="0.45" fill="#8f93cf" opacity="0.25"/>
<circle cx="395.71" cy="197.25" r="0.45" fill="#8f93cf" opacity="0.25"/>
<circle cx="395.21" cy="201.25" r="0.45" fill="#8f93cf" opacity="0.25"/>
<circle cx="394.76" cy="203.73" r="0.45" fill="#8f93cf" opacity="0.25"/>
<circle cx="393.04" cy="195.93" r="0.45" fill="#8f93cf" opacity="0.25"/>
<circle cx="396.79" cy="198.13" r="0.45" fill="#8f93cf" opacity="0.25"/>
<circle cx="392.56" cy="202.73" r="0.45" fill="#8f93cf" opacity="0.25"/>
<circle cx="397.72" cy="195.78" r="0.45" fill="#8f93cf" opacity="0.25"/>
<circle cx="391.46" cy="197.33" r="0.45" fill="#8f93cf" opacity="0.25"/>
<circle cx="394.17" cy="196.51" r="0.45" fill="#8f93cf" opacity="0.25"/>
<circle cx="397.59" cy="192.87" r="0.45" fill="#8f93cf" opacity="0.25"/>
<circle cx="397.27" cy="191.66" r="0.45" fill="#8f93cf" opacity="0.25"/>
<circle cx="396.12" cy="220.60" r="0.45" fill="#8f93cf" opacity="0.22"/>
<circle cx="398.29" cy="216.34" r="0.45" fill="#8f93cf" opacity="0.22"/>
<circle cx="396.95" cy="214.15" r="0.45" fill="#8f93cf" opacity="0.22"/>
<circle cx="397.06" cy="212.99" r="0.45" fill="#8f93cf" opacity="0.22"/>
<circle cx="392.91" cy="210.41" r="0.45" fill="#8f93cf" opacity="0.22"/>
<circle cx="391.64" cy="214.02" r="0.45" fill="#8f93cf" opacity="0.22"/>
<circle cx="397.01" cy="218.28" r="0.45" fill="#8f93cf" opacity="0.22"/>
<circle cx="396.85" cy="214.17" r="0.45" fill="#8f93cf" opacity="0.22"/>
<circle cx="397.34" cy="213.30" r="0.45" fill="#8f93cf" opacity="0.22"/>
<circle cx="389.59" cy="216.54" r="0.45" fill="#8f93cf" opacity="0.22"/>
<circle cx="393.93" cy="214.02" r="0.45" fill="#8f93cf" opacity="0.22"/>
<circle cx="394.51" cy="222.26" r="0.45" fill="#8f93cf" opacity="0.22"/>
<circle cx="398.85" cy="214.61" r="0.45" fill="#8f93cf" opacity="0.22"/>
<circle cx="391.84" cy="216.08" r="0.45" fill="#8f93cf" opacity="0.22"/>
<circle cx="392.57" cy="216.91" r="0.45" fill="#8f93cf" opacity="0.22"/>
<circle cx="390.66" cy="213.07" r="0.45" fill="#8f93cf" opacity="0.22"/>
<circle cx="398.22" cy="210.70" r="0.45" fill="#8f93cf" opacity="0.22"/>
<circle cx="395.69" cy="213.85" r="0.45" fill="#8f93cf" opacity="0.22"/>
<circle cx="398.28" cy="211.84" r="0.45" fill="#8f93cf" opacity="0.22"/>
<circle cx="397.50" cy="219.80" r="0.45" fill="#8f93cf" opacity="0.22"/>
<circle cx="390.74" cy="210.69" r="0.45" fill="#8f93cf" opacity="0.22"/>
<circle cx="396.80" cy="211.33" r="0.45" fill="#8f93cf" opacity="0.22"/>
<circle cx="391.18" cy="217.82" r="0.45" fill="#8f93cf" opacity="0.22"/>
<circle cx="398.37" cy="216.83" r="0.45" fill="#8f93cf" opacity="0.22"/>
<circle cx="398.76" cy="215.64" r="0.45" fill="#8f93cf" opacity="0.22"/>
<circle cx="392.83" cy="205.99" r="0.45" fill="#8f93cf" opacity="0.22"/>
<circle cx="396.97" cy="210.04" r="0.45" fill="#8f93cf" opacity="0.22"/>
<circle cx="395.55" cy="214.62" r="0.45" fill="#8f93cf" opacity="0.22"/>
<circle cx="391.48" cy="212.36" r="0.45" fill="#8f93cf" opacity="0.22"/>
<circle cx="400.84" cy="215.81" r="0.45" fill="#8f93cf" opacity="0.22"/>
<circle cx="408.30" cy="212.67" r="0.45" fill="#a8abd9" opacity="0.2"/>
<circle cx="419.47" cy="216.60" r="0.45" fill="#a8abd9" opacity="0.2"/>
<circle cx="418.91" cy="212.14" r="0.45" fill="#a8abd9" opacity="0.2"/>
<circle cx="414.65" cy="211.27" r="0.45" fill="#a8abd9" opacity="0.2"/>
<circle cx="406.47" cy="210.61" r="0.45" fill="#a8abd9" opacity="0.2"/>
<circle cx="417.72" cy="212.74" r="0.45" fill="#a8abd9" opacity="0.2"/>
<circle cx="411.42" cy="208.85" r="0.45" fill="#a8abd9" opacity="0.2"/>
<circle cx="412.54" cy="210.27" r="0.45" fill="#a8abd9" opacity="0.2"/>
<circle cx="413.18" cy="213.45" r="0.45" fill="#a8abd9" opacity="0.2"/>
<circle cx="401.66" cy="211.73" r="0.45" fill="#a8abd9" opacity="0.2"/>
<circle cx="405.73" cy="209.22" r="0.45" fill="#a8abd9" opacity="0.2"/>
<circle cx="406.84" cy="215.32" r="0.45" fill="#a8abd9" opacity="0.2"/>
<circle cx="416.33" cy="213.48" r="0.45" fill="#a8abd9" opacity="0.2"/>
<circle cx="409.31" cy="207.71" r="0.45" fill="#a8abd9" opacity="0.2"/>
<circle cx="411.11" cy="212.61" r="0.45" fill="#a8abd9" opacity="0.2"/>
<circle cx="412.64" cy="214.05" r="0.45" fill="#a8abd9" opacity="0.2"/>
<circle cx="411.23" cy="217.36" r="0.45" fill="#a8abd9" opacity="0.2"/>
<circle cx="416.25" cy="217.94" r="0.45" fill="#a8abd9" opacity="0.2"/>
<circle cx="414.22" cy="211.31" r="0.45" fill="#a8abd9" opacity="0.2"/>
<circle cx="408.79" cy="214.41" r="0.45" fill="#a8abd9" opacity="0.2"/>
<circle cx="418.20" cy="212.46" r="0.45" fill="#a8abd9" opacity="0.2"/>
<circle cx="415.03" cy="211.19" r="0.45" fill="#a8abd9" opacity="0.2"/>
<circle cx="410.91" cy="211.13" r="0.45" fill="#a8abd9" opacity="0.2"/>
<circle cx="403.65" cy="208.98" r="0.45" fill="#a8abd9" opacity="0.2"/>
<circle cx="413.19" cy="212.37" r="0.45" fill="#a8abd9" opacity="0.2"/>
<circle cx="418.39" cy="213.87" r="0.45" fill="#a8abd9" opacity="0.2"/>
<circle cx="415.09" cy="212.14" r="0.45" fill="#a8abd9" opacity="0.2"/>
<circle cx="401.74" cy="212.14" r="0.45" fill="#a8abd9" opacity="0.2"/>
<circle cx="408.58" cy="213.45" r="0.45" fill="#a8abd9" opacity="0.2"/>
<circle cx="411.57" cy="210.98" r="0.45" fill="#a8abd9" opacity="0.2"/>
</g>
<rect x="386.3" y="174.3" width="49.599999999999966" height="49.099999999999994" fill="none" stroke="#222" stroke-width="0.9"/>
<line x1="405.60" y1="174.30" x2="405.60" y2="223.40" stroke="#333" stroke-width="0.75"/>
<line x1="386.30" y1="207.30" x2="435.90" y2="207.30" stroke="#333" stroke-width="0.75"/>
<text x="388.60" y="180.80" font-size="5.8" text-anchor="start" font-weight="normal" font-style="normal" fill="#333">MPP</text>
<text x="388.10" y="222.70" font-size="5.8" text-anchor="start" font-weight="normal" font-style="normal" fill="#333">ST-HSC</text>
<text x="415.60" y="222.70" font-size="5.8" text-anchor="start" font-weight="normal" font-style="normal" fill="#333">LT-HSC</text>
<text x="384.40" y="181.20" font-size="5.7" text-anchor="end" font-weight="normal" font-style="normal" fill="#231f20">10<tspan baseline-shift="2.3" font-size="4.2">5</tspan></text>
<text x="384.40" y="192.00" font-size="5.7" text-anchor="end" font-weight="normal" font-style="normal" fill="#231f20">10<tspan baseline-shift="2.3" font-size="4.2">4</tspan></text>
<text x="384.40" y="203.20" font-size="5.7" text-anchor="end" font-weight="normal" font-style="normal" fill="#231f20">10<tspan baseline-shift="2.3" font-size="4.2">3</tspan></text>
<text x="384.40" y="212.00" font-size="5.7" text-anchor="end" font-weight="normal" font-style="normal" fill="#231f20">0</text>
<text x="384.40" y="223.50" font-size="5.7" text-anchor="end" font-weight="normal" font-style="normal" fill="#231f20">&#8722;10<tspan baseline-shift="2.3" font-size="4.2">3</tspan></text>
<text x="0.00" y="0.00" font-size="6.2" text-anchor="end" font-weight="normal" font-style="normal" fill="#231f20" transform="translate(401.50,231.20) rotate(-45)">0</text>
<text x="0.00" y="0.00" font-size="6.2" text-anchor="end" font-weight="normal" font-style="normal" fill="#231f20" transform="translate(413.10,231.20) rotate(-45)">10<tspan baseline-shift="2.3" font-size="4.2">3</tspan></text>
<text x="0.00" y="0.00" font-size="6.2" text-anchor="end" font-weight="normal" font-style="normal" fill="#231f20" transform="translate(424.10,231.20) rotate(-45)">10<tspan baseline-shift="2.3" font-size="4.2">4</tspan></text>
<text x="0.00" y="0.00" font-size="6.2" text-anchor="end" font-weight="normal" font-style="normal" fill="#231f20" transform="translate(435.50,231.20) rotate(-45)">10<tspan baseline-shift="2.3" font-size="4.2">5</tspan></text>
<text x="0.00" y="0.00" font-size="7.8" text-anchor="middle" font-weight="normal" font-style="normal" fill="#231f20" transform="translate(368.10,216.90) rotate(-90)">CD48</text>
<line x1="365.90" y1="172.90" x2="365.90" y2="201.10" stroke="#333" stroke-width="1.4"/>
<text x="372.30" y="248.20" font-size="7.8" text-anchor="start" font-weight="normal" font-style="normal" fill="#231f20">CD150</text>
<line x1="400.80" y1="245.80" x2="437.70" y2="245.80" stroke="#333" stroke-width="1.4"/>
<clipPath id="cp3"><rect x="461.3" y="173.3" width="50.39999999999998" height="49.599999999999994"/></clipPath>
<g clip-path="url(#cp3)">
<path d="M462 219 L470 219 L482 205 L494 194 L496 186 L488 183 L474 186 L468 192 L463 205 Z" fill="#c5cde6" opacity="0.8" filter="url(#b1)"/>
<path d="M465 218 L474 218 L486 204 L494 193 L490 188 L480 194 L470 205 Z" fill="#8fa0cf" opacity="0.75" filter="url(#b1)"/>
<circle cx="471.04" cy="206.64" r="0.45" fill="#5c78b8" opacity="0.22"/>
<circle cx="485.47" cy="200.41" r="0.45" fill="#5c78b8" opacity="0.22"/>
<circle cx="470.36" cy="203.54" r="0.45" fill="#5c78b8" opacity="0.22"/>
<circle cx="482.11" cy="211.69" r="0.45" fill="#5c78b8" opacity="0.22"/>
<circle cx="471.10" cy="194.95" r="0.45" fill="#5c78b8" opacity="0.22"/>
<circle cx="483.59" cy="207.32" r="0.45" fill="#5c78b8" opacity="0.22"/>
<circle cx="488.97" cy="210.88" r="0.45" fill="#5c78b8" opacity="0.22"/>
<circle cx="478.34" cy="202.08" r="0.45" fill="#5c78b8" opacity="0.22"/>
<circle cx="495.71" cy="201.98" r="0.45" fill="#5c78b8" opacity="0.22"/>
<circle cx="473.90" cy="196.03" r="0.45" fill="#5c78b8" opacity="0.22"/>
<circle cx="479.62" cy="205.02" r="0.45" fill="#5c78b8" opacity="0.22"/>
<circle cx="476.76" cy="203.56" r="0.45" fill="#5c78b8" opacity="0.22"/>
<circle cx="480.78" cy="208.85" r="0.45" fill="#5c78b8" opacity="0.22"/>
<circle cx="486.13" cy="205.47" r="0.45" fill="#5c78b8" opacity="0.22"/>
<circle cx="467.37" cy="208.91" r="0.45" fill="#5c78b8" opacity="0.22"/>
<circle cx="469.77" cy="202.80" r="0.45" fill="#5c78b8" opacity="0.22"/>
<circle cx="469.42" cy="204.01" r="0.45" fill="#5c78b8" opacity="0.22"/>
<circle cx="473.94" cy="205.50" r="0.45" fill="#5c78b8" opacity="0.22"/>
<circle cx="500.45" cy="203.66" r="0.45" fill="#5c78b8" opacity="0.22"/>
<circle cx="484.48" cy="194.74" r="0.45" fill="#5c78b8" opacity="0.22"/>
<circle cx="477.13" cy="208.64" r="0.45" fill="#5c78b8" opacity="0.22"/>
<circle cx="478.40" cy="206.59" r="0.45" fill="#5c78b8" opacity="0.22"/>
<circle cx="479.67" cy="196.96" r="0.45" fill="#5c78b8" opacity="0.22"/>
<circle cx="482.66" cy="198.32" r="0.45" fill="#5c78b8" opacity="0.22"/>
<circle cx="491.17" cy="200.46" r="0.45" fill="#5c78b8" opacity="0.22"/>
<circle cx="483.46" cy="204.02" r="0.45" fill="#5c78b8" opacity="0.22"/>
<circle cx="485.19" cy="199.78" r="0.45" fill="#5c78b8" opacity="0.22"/>
<circle cx="485.49" cy="203.13" r="0.45" fill="#5c78b8" opacity="0.22"/>
<circle cx="487.21" cy="208.37" r="0.45" fill="#5c78b8" opacity="0.22"/>
<circle cx="479.92" cy="198.54" r="0.45" fill="#5c78b8" opacity="0.22"/>
<circle cx="483.99" cy="207.28" r="0.45" fill="#5c78b8" opacity="0.22"/>
<circle cx="489.67" cy="201.36" r="0.45" fill="#5c78b8" opacity="0.22"/>
<circle cx="482.61" cy="207.56" r="0.45" fill="#5c78b8" opacity="0.22"/>
<circle cx="480.84" cy="205.46" r="0.45" fill="#5c78b8" opacity="0.22"/>
<circle cx="480.18" cy="199.81" r="0.45" fill="#5c78b8" opacity="0.22"/>
<circle cx="472.41" cy="201.22" r="0.45" fill="#5c78b8" opacity="0.22"/>
<circle cx="482.84" cy="214.58" r="0.45" fill="#5c78b8" opacity="0.22"/>
<circle cx="485.35" cy="211.37" r="0.45" fill="#5c78b8" opacity="0.22"/>
<circle cx="484.05" cy="208.89" r="0.45" fill="#5c78b8" opacity="0.22"/>
<circle cx="480.19" cy="209.40" r="0.45" fill="#5c78b8" opacity="0.22"/>
<circle cx="490.53" cy="201.71" r="0.45" fill="#5c78b8" opacity="0.22"/>
<circle cx="474.49" cy="217.72" r="0.45" fill="#5c78b8" opacity="0.22"/>
<circle cx="480.59" cy="210.80" r="0.45" fill="#5c78b8" opacity="0.22"/>
<circle cx="484.68" cy="196.05" r="0.45" fill="#5c78b8" opacity="0.22"/>
<circle cx="494.82" cy="216.43" r="0.45" fill="#5c78b8" opacity="0.22"/>
<circle cx="480.15" cy="209.27" r="0.45" fill="#5c78b8" opacity="0.22"/>
<circle cx="479.82" cy="197.81" r="0.45" fill="#5c78b8" opacity="0.22"/>
<circle cx="478.27" cy="206.62" r="0.45" fill="#5c78b8" opacity="0.22"/>
<circle cx="486.25" cy="208.96" r="0.45" fill="#5c78b8" opacity="0.22"/>
<circle cx="479.39" cy="213.48" r="0.45" fill="#5c78b8" opacity="0.22"/>
<circle cx="474.06" cy="209.55" r="0.45" fill="#5c78b8" opacity="0.22"/>
<circle cx="486.23" cy="201.96" r="0.45" fill="#5c78b8" opacity="0.22"/>
<circle cx="467.36" cy="197.66" r="0.45" fill="#5c78b8" opacity="0.22"/>
<circle cx="480.54" cy="207.69" r="0.45" fill="#5c78b8" opacity="0.22"/>
<circle cx="489.06" cy="196.97" r="0.45" fill="#5c78b8" opacity="0.22"/>
<circle cx="479.01" cy="208.54" r="0.45" fill="#5c78b8" opacity="0.22"/>
<circle cx="477.97" cy="187.41" r="0.45" fill="#5c78b8" opacity="0.22"/>
<circle cx="484.24" cy="220.19" r="0.45" fill="#5c78b8" opacity="0.22"/>
<circle cx="485.53" cy="197.58" r="0.45" fill="#5c78b8" opacity="0.22"/>
<circle cx="476.32" cy="205.55" r="0.45" fill="#5c78b8" opacity="0.22"/>
<circle cx="495.18" cy="208.32" r="0.45" fill="#5c78b8" opacity="0.22"/>
<circle cx="479.74" cy="214.90" r="0.45" fill="#5c78b8" opacity="0.22"/>
<circle cx="478.47" cy="217.03" r="0.45" fill="#5c78b8" opacity="0.22"/>
<circle cx="474.55" cy="200.68" r="0.45" fill="#5c78b8" opacity="0.22"/>
<circle cx="483.69" cy="213.97" r="0.45" fill="#5c78b8" opacity="0.22"/>
<circle cx="483.25" cy="206.11" r="0.45" fill="#5c78b8" opacity="0.22"/>
<circle cx="467.16" cy="199.01" r="0.45" fill="#5c78b8" opacity="0.22"/>
<circle cx="475.03" cy="200.26" r="0.45" fill="#5c78b8" opacity="0.22"/>
<circle cx="482.81" cy="201.65" r="0.45" fill="#5c78b8" opacity="0.22"/>
<circle cx="484.12" cy="204.58" r="0.45" fill="#5c78b8" opacity="0.22"/>
<circle cx="476.84" cy="204.83" r="0.45" fill="#5c78b8" opacity="0.22"/>
<circle cx="481.79" cy="210.01" r="0.45" fill="#5c78b8" opacity="0.22"/>
<circle cx="475.90" cy="202.37" r="0.45" fill="#5c78b8" opacity="0.22"/>
<circle cx="470.14" cy="215.23" r="0.45" fill="#5c78b8" opacity="0.22"/>
<circle cx="488.44" cy="202.75" r="0.45" fill="#5c78b8" opacity="0.22"/>
<circle cx="475.89" cy="195.35" r="0.45" fill="#5c78b8" opacity="0.22"/>
<circle cx="480.10" cy="205.44" r="0.45" fill="#5c78b8" opacity="0.22"/>
<circle cx="493.18" cy="205.72" r="0.45" fill="#5c78b8" opacity="0.22"/>
<circle cx="473.94" cy="186.89" r="0.45" fill="#5c78b8" opacity="0.22"/>
<circle cx="488.16" cy="205.33" r="0.45" fill="#5c78b8" opacity="0.22"/>
<circle cx="468.54" cy="205.26" r="0.45" fill="#5c78b8" opacity="0.22"/>
<circle cx="468.54" cy="228.36" r="0.45" fill="#5c78b8" opacity="0.22"/>
<circle cx="486.27" cy="208.01" r="0.45" fill="#5c78b8" opacity="0.22"/>
<circle cx="477.86" cy="189.02" r="0.45" fill="#5c78b8" opacity="0.22"/>
<circle cx="478.18" cy="193.12" r="0.45" fill="#5c78b8" opacity="0.22"/>
<circle cx="482.88" cy="189.03" r="0.45" fill="#5c78b8" opacity="0.22"/>
<circle cx="473.10" cy="212.54" r="0.45" fill="#5c78b8" opacity="0.22"/>
<circle cx="489.69" cy="195.73" r="0.45" fill="#5c78b8" opacity="0.22"/>
<circle cx="469.03" cy="210.16" r="0.45" fill="#5c78b8" opacity="0.22"/>
<circle cx="484.55" cy="197.09" r="0.45" fill="#5c78b8" opacity="0.22"/>
<circle cx="474.49" cy="199.14" r="0.45" fill="#5c78b8" opacity="0.22"/>
<circle cx="471.27" cy="199.24" r="0.45" fill="#5c78b8" opacity="0.22"/>
<circle cx="487.13" cy="208.83" r="0.45" fill="#5c78b8" opacity="0.22"/>
<circle cx="492.37" cy="203.40" r="0.45" fill="#5c78b8" opacity="0.22"/>
<circle cx="478.12" cy="197.12" r="0.45" fill="#5c78b8" opacity="0.22"/>
<circle cx="478.20" cy="194.81" r="0.45" fill="#5c78b8" opacity="0.22"/>
<circle cx="467.45" cy="208.88" r="0.45" fill="#5c78b8" opacity="0.22"/>
<circle cx="488.36" cy="209.86" r="0.45" fill="#5c78b8" opacity="0.22"/>
<circle cx="487.66" cy="205.77" r="0.45" fill="#5c78b8" opacity="0.22"/>
<circle cx="474.33" cy="204.60" r="0.45" fill="#5c78b8" opacity="0.22"/>
<circle cx="476.57" cy="196.22" r="0.45" fill="#5c78b8" opacity="0.22"/>
<circle cx="468.00" cy="193.62" r="0.45" fill="#5c78b8" opacity="0.22"/>
<circle cx="478.96" cy="205.05" r="0.45" fill="#5c78b8" opacity="0.22"/>
<circle cx="475.92" cy="214.00" r="0.45" fill="#5c78b8" opacity="0.22"/>
<circle cx="480.16" cy="208.08" r="0.45" fill="#5c78b8" opacity="0.22"/>
<circle cx="486.92" cy="198.26" r="0.45" fill="#5c78b8" opacity="0.22"/>
<circle cx="466.20" cy="209.27" r="0.45" fill="#5c78b8" opacity="0.22"/>
<circle cx="474.53" cy="213.18" r="0.45" fill="#5c78b8" opacity="0.22"/>
<circle cx="481.19" cy="211.05" r="0.45" fill="#5c78b8" opacity="0.22"/>
<circle cx="483.96" cy="189.44" r="0.45" fill="#5c78b8" opacity="0.22"/>
<circle cx="483.67" cy="199.29" r="0.45" fill="#5c78b8" opacity="0.22"/>
<circle cx="474.09" cy="200.95" r="0.45" fill="#5c78b8" opacity="0.22"/>
<circle cx="483.99" cy="210.19" r="0.45" fill="#5c78b8" opacity="0.22"/>
<circle cx="485.57" cy="192.38" r="0.45" fill="#5c78b8" opacity="0.22"/>
<circle cx="475.16" cy="187.37" r="0.45" fill="#5c78b8" opacity="0.22"/>
<circle cx="478.34" cy="208.20" r="0.45" fill="#5c78b8" opacity="0.22"/>
<circle cx="474.03" cy="205.71" r="0.45" fill="#5c78b8" opacity="0.22"/>
<circle cx="480.50" cy="211.05" r="0.45" fill="#5c78b8" opacity="0.22"/>
<circle cx="473.66" cy="198.20" r="0.45" fill="#5c78b8" opacity="0.22"/>
<circle cx="474.04" cy="216.27" r="0.45" fill="#5c78b8" opacity="0.22"/>
<circle cx="486.09" cy="203.13" r="0.45" fill="#5c78b8" opacity="0.22"/>
<circle cx="480.47" cy="204.80" r="0.45" fill="#5c78b8" opacity="0.22"/>
<circle cx="480.32" cy="202.54" r="0.45" fill="#5c78b8" opacity="0.22"/>
<circle cx="476.83" cy="195.20" r="0.45" fill="#5c78b8" opacity="0.22"/>
<circle cx="474.83" cy="215.55" r="0.45" fill="#5c78b8" opacity="0.22"/>
<circle cx="482.49" cy="204.45" r="0.45" fill="#5c78b8" opacity="0.22"/>
<circle cx="477.60" cy="204.44" r="0.45" fill="#5c78b8" opacity="0.22"/>
<circle cx="481.30" cy="199.48" r="0.45" fill="#5c78b8" opacity="0.22"/>
<circle cx="480.28" cy="205.68" r="0.45" fill="#5c78b8" opacity="0.22"/>
<circle cx="474.13" cy="198.48" r="0.45" fill="#5c78b8" opacity="0.22"/>
<circle cx="472.51" cy="196.56" r="0.45" fill="#5c78b8" opacity="0.22"/>
<circle cx="484.78" cy="187.48" r="0.45" fill="#5c78b8" opacity="0.22"/>
<circle cx="477.27" cy="199.72" r="0.45" fill="#5c78b8" opacity="0.22"/>
<circle cx="474.97" cy="204.68" r="0.45" fill="#5c78b8" opacity="0.22"/>
<circle cx="486.33" cy="204.53" r="0.45" fill="#5c78b8" opacity="0.22"/>
<circle cx="478.09" cy="199.71" r="0.45" fill="#5c78b8" opacity="0.22"/>
<circle cx="478.16" cy="210.38" r="0.45" fill="#5c78b8" opacity="0.22"/>
<circle cx="476.44" cy="195.97" r="0.45" fill="#5c78b8" opacity="0.22"/>
<circle cx="470.78" cy="196.25" r="0.45" fill="#5c78b8" opacity="0.22"/>
<circle cx="469.97" cy="211.69" r="0.45" fill="#5c78b8" opacity="0.22"/>
<circle cx="481.31" cy="202.34" r="0.45" fill="#5c78b8" opacity="0.22"/>
<circle cx="488.49" cy="199.40" r="0.45" fill="#5c78b8" opacity="0.22"/>
<circle cx="483.89" cy="209.61" r="0.45" fill="#5c78b8" opacity="0.22"/>
<circle cx="468.95" cy="193.10" r="0.45" fill="#5c78b8" opacity="0.22"/>
<circle cx="472.97" cy="210.35" r="0.45" fill="#5c78b8" opacity="0.22"/>
<circle cx="487.42" cy="195.41" r="0.45" fill="#5c78b8" opacity="0.22"/>
<circle cx="485.82" cy="201.32" r="0.45" fill="#5c78b8" opacity="0.22"/>
<circle cx="476.44" cy="200.14" r="0.45" fill="#5c78b8" opacity="0.22"/>
<circle cx="476.89" cy="191.27" r="0.45" fill="#5c78b8" opacity="0.22"/>
<circle cx="472.49" cy="195.35" r="0.45" fill="#5c78b8" opacity="0.22"/>
<circle cx="482.19" cy="218.62" r="0.45" fill="#5c78b8" opacity="0.22"/>
<circle cx="496.76" cy="201.64" r="0.45" fill="#5c78b8" opacity="0.22"/>
<circle cx="467.81" cy="201.15" r="0.45" fill="#5c78b8" opacity="0.22"/>
<circle cx="472.89" cy="217.88" r="0.45" fill="#5c78b8" opacity="0.22"/>
<circle cx="482.71" cy="198.90" r="0.45" fill="#5c78b8" opacity="0.22"/>
<circle cx="485.08" cy="207.75" r="0.45" fill="#5c78b8" opacity="0.22"/>
<circle cx="468.44" cy="200.28" r="0.45" fill="#5c78b8" opacity="0.22"/>
<circle cx="477.44" cy="204.13" r="0.45" fill="#5c78b8" opacity="0.22"/>
<circle cx="479.86" cy="201.63" r="0.45" fill="#5c78b8" opacity="0.22"/>
<circle cx="480.23" cy="199.90" r="0.45" fill="#5c78b8" opacity="0.22"/>
<circle cx="473.17" cy="214.61" r="0.45" fill="#5c78b8" opacity="0.22"/>
<circle cx="481.34" cy="207.07" r="0.45" fill="#5c78b8" opacity="0.22"/>
<circle cx="468.63" cy="202.84" r="0.45" fill="#5c78b8" opacity="0.22"/>
<circle cx="484.32" cy="194.96" r="0.45" fill="#5c78b8" opacity="0.22"/>
<circle cx="486.14" cy="201.27" r="0.45" fill="#5c78b8" opacity="0.22"/>
<circle cx="481.62" cy="203.07" r="0.45" fill="#5c78b8" opacity="0.22"/>
<circle cx="480.42" cy="212.42" r="0.45" fill="#5c78b8" opacity="0.22"/>
<circle cx="476.38" cy="214.95" r="0.45" fill="#5c78b8" opacity="0.22"/>
<circle cx="473.92" cy="197.48" r="0.45" fill="#5c78b8" opacity="0.22"/>
<circle cx="483.62" cy="196.54" r="0.45" fill="#5c78b8" opacity="0.22"/>
<circle cx="476.59" cy="210.35" r="0.45" fill="#5c78b8" opacity="0.22"/>
<circle cx="486.87" cy="191.58" r="0.45" fill="#5c78b8" opacity="0.22"/>
<circle cx="482.29" cy="217.19" r="0.45" fill="#5c78b8" opacity="0.22"/>
<circle cx="486.77" cy="202.32" r="0.45" fill="#5c78b8" opacity="0.22"/>
<circle cx="475.10" cy="201.92" r="0.45" fill="#5c78b8" opacity="0.22"/>
<circle cx="471.51" cy="202.15" r="0.45" fill="#5c78b8" opacity="0.22"/>
<circle cx="477.78" cy="202.98" r="0.45" fill="#5c78b8" opacity="0.22"/>
<circle cx="486.69" cy="202.39" r="0.45" fill="#5c78b8" opacity="0.22"/>
<circle cx="469.52" cy="211.36" r="0.45" fill="#5c78b8" opacity="0.22"/>
<circle cx="472.03" cy="200.87" r="0.45" fill="#5c78b8" opacity="0.22"/>
<circle cx="478.13" cy="201.59" r="0.45" fill="#5c78b8" opacity="0.22"/>
<circle cx="472.48" cy="202.26" r="0.45" fill="#5c78b8" opacity="0.22"/>
<circle cx="493.20" cy="199.75" r="0.45" fill="#5c78b8" opacity="0.22"/>
<circle cx="478.11" cy="211.87" r="0.45" fill="#5c78b8" opacity="0.22"/>
<circle cx="483.84" cy="209.34" r="0.45" fill="#5c78b8" opacity="0.22"/>
<circle cx="484.60" cy="190.22" r="0.45" fill="#5c78b8" opacity="0.22"/>
<circle cx="473.38" cy="204.90" r="0.45" fill="#5c78b8" opacity="0.22"/>
<circle cx="482.24" cy="213.06" r="0.45" fill="#5c78b8" opacity="0.22"/>
<circle cx="482.05" cy="202.33" r="0.45" fill="#5c78b8" opacity="0.22"/>
<circle cx="479.26" cy="202.52" r="0.45" fill="#5c78b8" opacity="0.22"/>
<circle cx="480.61" cy="208.72" r="0.45" fill="#5c78b8" opacity="0.22"/>
<circle cx="476.79" cy="198.30" r="0.45" fill="#5c78b8" opacity="0.22"/>
<circle cx="473.44" cy="211.68" r="0.45" fill="#5c78b8" opacity="0.22"/>
<circle cx="487.33" cy="210.95" r="0.45" fill="#5c78b8" opacity="0.22"/>
<circle cx="484.57" cy="209.83" r="0.45" fill="#5c78b8" opacity="0.22"/>
<circle cx="478.98" cy="208.65" r="0.45" fill="#5c78b8" opacity="0.22"/>
<circle cx="472.16" cy="202.58" r="0.45" fill="#5c78b8" opacity="0.22"/>
<circle cx="474.23" cy="209.09" r="0.45" fill="#5c78b8" opacity="0.22"/>
<circle cx="475.23" cy="203.24" r="0.45" fill="#5c78b8" opacity="0.22"/>
<circle cx="481.60" cy="213.48" r="0.45" fill="#5c78b8" opacity="0.22"/>
<circle cx="473.85" cy="197.43" r="0.45" fill="#5c78b8" opacity="0.22"/>
<circle cx="484.31" cy="196.26" r="0.45" fill="#5c78b8" opacity="0.22"/>
<circle cx="481.94" cy="200.01" r="0.45" fill="#5c78b8" opacity="0.22"/>
<circle cx="478.31" cy="191.25" r="0.45" fill="#5c78b8" opacity="0.22"/>
<circle cx="483.64" cy="200.50" r="0.45" fill="#5c78b8" opacity="0.22"/>
<circle cx="473.16" cy="218.54" r="0.45" fill="#5c78b8" opacity="0.22"/>
<circle cx="483.63" cy="228.56" r="0.45" fill="#5c78b8" opacity="0.22"/>
<circle cx="481.65" cy="201.56" r="0.45" fill="#5c78b8" opacity="0.22"/>
<circle cx="479.70" cy="215.25" r="0.45" fill="#5c78b8" opacity="0.22"/>
<circle cx="478.82" cy="207.16" r="0.45" fill="#5c78b8" opacity="0.22"/>
<circle cx="482.36" cy="197.63" r="0.45" fill="#5c78b8" opacity="0.22"/>
<circle cx="479.84" cy="200.48" r="0.45" fill="#5c78b8" opacity="0.22"/>
<circle cx="470.90" cy="210.10" r="0.45" fill="#5c78b8" opacity="0.22"/>
<circle cx="483.33" cy="204.52" r="0.45" fill="#5c78b8" opacity="0.22"/>
<circle cx="473.10" cy="189.96" r="0.45" fill="#5c78b8" opacity="0.22"/>
<circle cx="482.16" cy="203.32" r="0.45" fill="#5c78b8" opacity="0.22"/>
<circle cx="468.06" cy="203.58" r="0.45" fill="#5c78b8" opacity="0.22"/>
<circle cx="469.11" cy="203.81" r="0.45" fill="#5c78b8" opacity="0.22"/>
<circle cx="479.93" cy="206.48" r="0.45" fill="#5c78b8" opacity="0.22"/>
<circle cx="480.41" cy="205.20" r="0.45" fill="#5c78b8" opacity="0.22"/>
<circle cx="471.59" cy="201.31" r="0.45" fill="#5c78b8" opacity="0.22"/>
<circle cx="475.68" cy="202.35" r="0.45" fill="#5c78b8" opacity="0.22"/>
<circle cx="480.76" cy="208.33" r="0.45" fill="#5c78b8" opacity="0.22"/>
<circle cx="489.63" cy="186.02" r="0.45" fill="#5c78b8" opacity="0.22"/>
<circle cx="481.61" cy="202.61" r="0.45" fill="#5c78b8" opacity="0.22"/>
<circle cx="493.79" cy="210.53" r="0.45" fill="#5c78b8" opacity="0.22"/>
<circle cx="468.25" cy="206.81" r="0.45" fill="#5c78b8" opacity="0.22"/>
<circle cx="475.62" cy="210.96" r="0.45" fill="#5c78b8" opacity="0.22"/>
<circle cx="472.14" cy="203.29" r="0.45" fill="#5c78b8" opacity="0.22"/>
<circle cx="478.14" cy="203.32" r="0.45" fill="#5c78b8" opacity="0.22"/>
<circle cx="475.20" cy="191.13" r="0.45" fill="#5c78b8" opacity="0.22"/>
<circle cx="481.99" cy="210.99" r="0.45" fill="#5c78b8" opacity="0.22"/>
<circle cx="478.56" cy="196.88" r="0.45" fill="#5c78b8" opacity="0.22"/>
<circle cx="480.32" cy="207.96" r="0.45" fill="#5c78b8" opacity="0.22"/>
<circle cx="477.86" cy="203.90" r="0.45" fill="#5c78b8" opacity="0.22"/>
<circle cx="488.16" cy="196.17" r="0.45" fill="#5c78b8" opacity="0.22"/>
<circle cx="475.37" cy="190.66" r="0.45" fill="#5c78b8" opacity="0.22"/>
<circle cx="474.45" cy="198.82" r="0.45" fill="#5c78b8" opacity="0.22"/>
<circle cx="472.76" cy="199.14" r="0.45" fill="#5c78b8" opacity="0.22"/>
<circle cx="490.68" cy="202.63" r="0.45" fill="#5c78b8" opacity="0.22"/>
<circle cx="478.26" cy="219.39" r="0.45" fill="#5c78b8" opacity="0.22"/>
<circle cx="478.61" cy="191.86" r="0.45" fill="#5c78b8" opacity="0.22"/>
<circle cx="481.62" cy="197.44" r="0.45" fill="#5c78b8" opacity="0.22"/>
<circle cx="489.65" cy="195.28" r="0.45" fill="#5c78b8" opacity="0.22"/>
<circle cx="475.23" cy="192.76" r="0.45" fill="#5c78b8" opacity="0.22"/>
<circle cx="479.63" cy="196.89" r="0.45" fill="#5c78b8" opacity="0.22"/>
<circle cx="478.57" cy="201.36" r="0.45" fill="#5c78b8" opacity="0.22"/>
<circle cx="475.02" cy="210.60" r="0.45" fill="#5c78b8" opacity="0.22"/>
<circle cx="485.08" cy="204.44" r="0.45" fill="#5c78b8" opacity="0.22"/>
<circle cx="473.15" cy="196.51" r="0.45" fill="#5c78b8" opacity="0.22"/>
<circle cx="480.75" cy="220.74" r="0.45" fill="#5c78b8" opacity="0.22"/>
<circle cx="476.03" cy="198.51" r="0.45" fill="#5c78b8" opacity="0.22"/>
<circle cx="474.47" cy="196.33" r="0.45" fill="#5c78b8" opacity="0.22"/>
<circle cx="472.68" cy="202.56" r="0.45" fill="#5c78b8" opacity="0.22"/>
<circle cx="488.32" cy="203.99" r="0.45" fill="#5c78b8" opacity="0.22"/>
<circle cx="475.68" cy="192.70" r="0.45" fill="#5c78b8" opacity="0.22"/>
<circle cx="480.39" cy="203.81" r="0.45" fill="#5c78b8" opacity="0.22"/>
<circle cx="471.03" cy="196.39" r="0.45" fill="#5c78b8" opacity="0.22"/>
<circle cx="478.73" cy="211.09" r="0.45" fill="#5c78b8" opacity="0.22"/>
<circle cx="483.07" cy="205.44" r="0.45" fill="#5c78b8" opacity="0.22"/>
<circle cx="476.90" cy="206.24" r="0.45" fill="#5c78b8" opacity="0.22"/>
<circle cx="478.92" cy="219.21" r="0.45" fill="#5c78b8" opacity="0.22"/>
<circle cx="471.64" cy="201.42" r="0.45" fill="#5c78b8" opacity="0.22"/>
<circle cx="487.24" cy="202.14" r="0.45" fill="#5c78b8" opacity="0.22"/>
<circle cx="488.26" cy="203.69" r="0.45" fill="#5c78b8" opacity="0.22"/>
<circle cx="479.95" cy="201.41" r="0.45" fill="#5c78b8" opacity="0.22"/>
<circle cx="470.03" cy="197.21" r="0.45" fill="#5c78b8" opacity="0.22"/>
<circle cx="493.40" cy="208.52" r="0.45" fill="#5c78b8" opacity="0.22"/>
<circle cx="482.94" cy="210.68" r="0.45" fill="#5c78b8" opacity="0.22"/>
<circle cx="482.70" cy="211.15" r="0.45" fill="#5c78b8" opacity="0.22"/>
<circle cx="477.27" cy="202.44" r="0.45" fill="#5c78b8" opacity="0.22"/>
<circle cx="485.39" cy="201.53" r="0.45" fill="#5c78b8" opacity="0.22"/>
<circle cx="470.35" cy="202.42" r="0.45" fill="#5c78b8" opacity="0.22"/>
<circle cx="475.46" cy="208.29" r="0.45" fill="#5c78b8" opacity="0.22"/>
<circle cx="474.32" cy="196.57" r="0.45" fill="#5c78b8" opacity="0.22"/>
<circle cx="476.84" cy="214.87" r="0.45" fill="#5c78b8" opacity="0.22"/>
<circle cx="478.69" cy="205.13" r="0.45" fill="#5c78b8" opacity="0.22"/>
<circle cx="479.06" cy="206.07" r="0.45" fill="#5c78b8" opacity="0.22"/>
<circle cx="485.03" cy="213.77" r="0.45" fill="#5c78b8" opacity="0.22"/>
<circle cx="468.31" cy="213.53" r="0.45" fill="#5c78b8" opacity="0.22"/>
<circle cx="478.98" cy="201.75" r="0.45" fill="#5c78b8" opacity="0.22"/>
<circle cx="494.59" cy="202.81" r="0.45" fill="#5c78b8" opacity="0.22"/>
<circle cx="491.64" cy="210.78" r="0.45" fill="#5c78b8" opacity="0.22"/>
<circle cx="472.31" cy="207.42" r="0.45" fill="#5c78b8" opacity="0.22"/>
<circle cx="483.79" cy="203.12" r="0.45" fill="#5c78b8" opacity="0.22"/>
<circle cx="463.87" cy="201.59" r="0.45" fill="#5c78b8" opacity="0.22"/>
<circle cx="477.75" cy="196.25" r="0.45" fill="#5c78b8" opacity="0.22"/>
<circle cx="490.87" cy="202.29" r="0.45" fill="#5c78b8" opacity="0.22"/>
<circle cx="476.44" cy="201.90" r="0.45" fill="#5c78b8" opacity="0.22"/>
<circle cx="473.91" cy="198.57" r="0.45" fill="#5c78b8" opacity="0.22"/>
<circle cx="479.61" cy="206.19" r="0.45" fill="#5c78b8" opacity="0.22"/>
<circle cx="475.70" cy="203.37" r="0.45" fill="#5c78b8" opacity="0.22"/>
<circle cx="469.96" cy="207.65" r="0.45" fill="#5c78b8" opacity="0.22"/>
<circle cx="474.13" cy="205.50" r="0.45" fill="#5c78b8" opacity="0.22"/>
<circle cx="473.11" cy="200.39" r="0.45" fill="#5c78b8" opacity="0.22"/>
<circle cx="480.40" cy="195.52" r="0.45" fill="#5c78b8" opacity="0.22"/>
<circle cx="495.05" cy="203.74" r="0.45" fill="#5c78b8" opacity="0.22"/>
<circle cx="478.53" cy="198.86" r="0.45" fill="#5c78b8" opacity="0.22"/>
<circle cx="489.37" cy="213.70" r="0.45" fill="#5c78b8" opacity="0.22"/>
<circle cx="480.95" cy="194.42" r="0.45" fill="#5c78b8" opacity="0.22"/>
<circle cx="481.22" cy="195.93" r="0.45" fill="#4f6fb5" opacity="0.25"/>
<circle cx="485.89" cy="193.08" r="0.45" fill="#4f6fb5" opacity="0.25"/>
<circle cx="490.87" cy="195.26" r="0.45" fill="#4f6fb5" opacity="0.25"/>
<circle cx="485.90" cy="202.21" r="0.45" fill="#4f6fb5" opacity="0.25"/>
<circle cx="485.02" cy="189.95" r="0.45" fill="#4f6fb5" opacity="0.25"/>
<circle cx="481.50" cy="192.90" r="0.45" fill="#4f6fb5" opacity="0.25"/>
<circle cx="489.63" cy="198.41" r="0.45" fill="#4f6fb5" opacity="0.25"/>
<circle cx="491.56" cy="202.41" r="0.45" fill="#4f6fb5" opacity="0.25"/>
<circle cx="493.89" cy="197.67" r="0.45" fill="#4f6fb5" opacity="0.25"/>
<circle cx="492.44" cy="197.75" r="0.45" fill="#4f6fb5" opacity="0.25"/>
<circle cx="484.88" cy="198.48" r="0.45" fill="#4f6fb5" opacity="0.25"/>
<circle cx="487.43" cy="194.35" r="0.45" fill="#4f6fb5" opacity="0.25"/>
<circle cx="495.24" cy="198.31" r="0.45" fill="#4f6fb5" opacity="0.25"/>
<circle cx="485.26" cy="194.90" r="0.45" fill="#4f6fb5" opacity="0.25"/>
<circle cx="496.65" cy="194.22" r="0.45" fill="#4f6fb5" opacity="0.25"/>
<circle cx="490.19" cy="197.73" r="0.45" fill="#4f6fb5" opacity="0.25"/>
<circle cx="489.29" cy="197.60" r="0.45" fill="#4f6fb5" opacity="0.25"/>
<circle cx="485.27" cy="193.35" r="0.45" fill="#4f6fb5" opacity="0.25"/>
<circle cx="486.57" cy="193.77" r="0.45" fill="#4f6fb5" opacity="0.25"/>
<circle cx="490.49" cy="201.47" r="0.45" fill="#4f6fb5" opacity="0.25"/>
<circle cx="483.62" cy="197.44" r="0.45" fill="#4f6fb5" opacity="0.25"/>
<circle cx="483.25" cy="192.42" r="0.45" fill="#4f6fb5" opacity="0.25"/>
<circle cx="486.26" cy="195.66" r="0.45" fill="#4f6fb5" opacity="0.25"/>
<circle cx="485.45" cy="184.65" r="0.45" fill="#4f6fb5" opacity="0.25"/>
<circle cx="492.84" cy="194.12" r="0.45" fill="#4f6fb5" opacity="0.25"/>
<circle cx="484.65" cy="197.98" r="0.45" fill="#4f6fb5" opacity="0.25"/>
<circle cx="484.80" cy="189.43" r="0.45" fill="#4f6fb5" opacity="0.25"/>
<circle cx="489.21" cy="196.92" r="0.45" fill="#4f6fb5" opacity="0.25"/>
<circle cx="483.87" cy="198.62" r="0.45" fill="#4f6fb5" opacity="0.25"/>
<circle cx="488.74" cy="190.62" r="0.45" fill="#4f6fb5" opacity="0.25"/>
<circle cx="494.32" cy="196.31" r="0.45" fill="#4f6fb5" opacity="0.25"/>
<circle cx="482.62" cy="197.06" r="0.45" fill="#4f6fb5" opacity="0.25"/>
<circle cx="487.73" cy="199.16" r="0.45" fill="#4f6fb5" opacity="0.25"/>
<circle cx="481.75" cy="199.44" r="0.45" fill="#4f6fb5" opacity="0.25"/>
<circle cx="491.04" cy="198.04" r="0.45" fill="#4f6fb5" opacity="0.25"/>
<circle cx="489.70" cy="200.55" r="0.45" fill="#4f6fb5" opacity="0.25"/>
<circle cx="490.13" cy="195.74" r="0.45" fill="#4f6fb5" opacity="0.25"/>
<circle cx="483.82" cy="199.73" r="0.45" fill="#4f6fb5" opacity="0.25"/>
<circle cx="491.20" cy="196.43" r="0.45" fill="#4f6fb5" opacity="0.25"/>
<circle cx="487.83" cy="198.15" r="0.45" fill="#4f6fb5" opacity="0.25"/>
<circle cx="477.01" cy="196.50" r="0.45" fill="#4f6fb5" opacity="0.25"/>
<circle cx="477.08" cy="196.19" r="0.45" fill="#4f6fb5" opacity="0.25"/>
<circle cx="491.50" cy="202.89" r="0.45" fill="#4f6fb5" opacity="0.25"/>
<circle cx="485.30" cy="196.95" r="0.45" fill="#4f6fb5" opacity="0.25"/>
<circle cx="486.92" cy="186.18" r="0.45" fill="#4f6fb5" opacity="0.25"/>
<circle cx="490.16" cy="195.13" r="0.45" fill="#4f6fb5" opacity="0.25"/>
<circle cx="487.47" cy="191.37" r="0.45" fill="#4f6fb5" opacity="0.25"/>
<circle cx="487.03" cy="195.53" r="0.45" fill="#4f6fb5" opacity="0.25"/>
<circle cx="492.38" cy="196.38" r="0.45" fill="#4f6fb5" opacity="0.25"/>
<circle cx="501.35" cy="193.54" r="0.45" fill="#4f6fb5" opacity="0.25"/>
<circle cx="486.12" cy="194.98" r="0.45" fill="#4f6fb5" opacity="0.25"/>
<circle cx="483.91" cy="201.32" r="0.45" fill="#4f6fb5" opacity="0.25"/>
<circle cx="489.81" cy="190.03" r="0.45" fill="#4f6fb5" opacity="0.25"/>
<circle cx="487.63" cy="199.86" r="0.45" fill="#4f6fb5" opacity="0.25"/>
<circle cx="481.44" cy="195.80" r="0.45" fill="#4f6fb5" opacity="0.25"/>
<circle cx="486.23" cy="204.65" r="0.45" fill="#4f6fb5" opacity="0.25"/>
<circle cx="488.87" cy="193.53" r="0.45" fill="#4f6fb5" opacity="0.25"/>
<circle cx="484.91" cy="202.86" r="0.45" fill="#4f6fb5" opacity="0.25"/>
<circle cx="485.30" cy="204.45" r="0.45" fill="#4f6fb5" opacity="0.25"/>
<circle cx="480.86" cy="194.41" r="0.45" fill="#4f6fb5" opacity="0.25"/>
<circle cx="486.22" cy="192.34" r="0.45" fill="#4f6fb5" opacity="0.25"/>
<circle cx="486.33" cy="197.99" r="0.45" fill="#4f6fb5" opacity="0.25"/>
<circle cx="484.49" cy="189.38" r="0.45" fill="#4f6fb5" opacity="0.25"/>
<circle cx="492.64" cy="201.14" r="0.45" fill="#4f6fb5" opacity="0.25"/>
<circle cx="484.39" cy="196.43" r="0.45" fill="#4f6fb5" opacity="0.25"/>
<circle cx="476.76" cy="199.41" r="0.45" fill="#4f6fb5" opacity="0.25"/>
<circle cx="481.79" cy="192.94" r="0.45" fill="#4f6fb5" opacity="0.25"/>
<circle cx="495.96" cy="190.07" r="0.45" fill="#4f6fb5" opacity="0.25"/>
<circle cx="487.27" cy="190.85" r="0.45" fill="#4f6fb5" opacity="0.25"/>
<circle cx="479.69" cy="190.46" r="0.45" fill="#4f6fb5" opacity="0.25"/>
<circle cx="488.29" cy="189.89" r="0.45" fill="#4f6fb5" opacity="0.25"/>
<circle cx="484.80" cy="198.14" r="0.45" fill="#4f6fb5" opacity="0.25"/>
<circle cx="486.54" cy="189.87" r="0.45" fill="#4f6fb5" opacity="0.25"/>
<circle cx="493.26" cy="195.68" r="0.45" fill="#4f6fb5" opacity="0.25"/>
<circle cx="492.88" cy="190.94" r="0.45" fill="#4f6fb5" opacity="0.25"/>
<circle cx="494.03" cy="189.72" r="0.45" fill="#4f6fb5" opacity="0.25"/>
<circle cx="480.11" cy="193.46" r="0.45" fill="#4f6fb5" opacity="0.25"/>
<circle cx="485.68" cy="196.25" r="0.45" fill="#4f6fb5" opacity="0.25"/>
<circle cx="484.91" cy="197.76" r="0.45" fill="#4f6fb5" opacity="0.25"/>
<circle cx="492.60" cy="192.54" r="0.45" fill="#4f6fb5" opacity="0.25"/>
<circle cx="481.61" cy="193.56" r="0.45" fill="#4f6fb5" opacity="0.25"/>
<circle cx="490.50" cy="198.49" r="0.45" fill="#4f6fb5" opacity="0.25"/>
<circle cx="485.78" cy="191.19" r="0.45" fill="#4f6fb5" opacity="0.25"/>
<circle cx="487.11" cy="199.09" r="0.45" fill="#4f6fb5" opacity="0.25"/>
<circle cx="484.29" cy="200.44" r="0.45" fill="#4f6fb5" opacity="0.25"/>
<circle cx="488.10" cy="196.36" r="0.45" fill="#4f6fb5" opacity="0.25"/>
<circle cx="484.64" cy="200.70" r="0.45" fill="#4f6fb5" opacity="0.25"/>
<circle cx="487.35" cy="189.14" r="0.45" fill="#4f6fb5" opacity="0.25"/>
<circle cx="490.50" cy="193.48" r="0.45" fill="#4f6fb5" opacity="0.25"/>
<circle cx="491.55" cy="195.86" r="0.45" fill="#4f6fb5" opacity="0.25"/>
<circle cx="484.64" cy="195.87" r="0.45" fill="#4f6fb5" opacity="0.25"/>
<circle cx="485.19" cy="191.83" r="0.45" fill="#4f6fb5" opacity="0.25"/>
<circle cx="487.26" cy="198.55" r="0.45" fill="#4f6fb5" opacity="0.25"/>
<circle cx="487.47" cy="194.83" r="0.45" fill="#4f6fb5" opacity="0.25"/>
<circle cx="484.93" cy="197.49" r="0.45" fill="#4f6fb5" opacity="0.25"/>
<circle cx="488.28" cy="199.06" r="0.45" fill="#4f6fb5" opacity="0.25"/>
<circle cx="488.66" cy="203.81" r="0.45" fill="#4f6fb5" opacity="0.25"/>
<circle cx="480.81" cy="194.96" r="0.45" fill="#4f6fb5" opacity="0.25"/>
<circle cx="489.34" cy="198.81" r="0.45" fill="#4f6fb5" opacity="0.25"/>
<circle cx="480.96" cy="190.23" r="0.45" fill="#4f6fb5" opacity="0.25"/>
<circle cx="487.00" cy="199.44" r="0.45" fill="#4f6fb5" opacity="0.25"/>
<circle cx="491.62" cy="189.03" r="0.45" fill="#4f6fb5" opacity="0.25"/>
<circle cx="487.70" cy="199.92" r="0.45" fill="#4f6fb5" opacity="0.25"/>
<circle cx="487.28" cy="191.00" r="0.45" fill="#4f6fb5" opacity="0.25"/>
<circle cx="484.27" cy="189.77" r="0.45" fill="#4f6fb5" opacity="0.25"/>
<circle cx="492.01" cy="194.12" r="0.45" fill="#4f6fb5" opacity="0.25"/>
<circle cx="485.44" cy="191.63" r="0.45" fill="#4f6fb5" opacity="0.25"/>
<circle cx="486.61" cy="191.49" r="0.45" fill="#4f6fb5" opacity="0.25"/>
<circle cx="483.22" cy="195.00" r="0.45" fill="#4f6fb5" opacity="0.25"/>
<circle cx="486.24" cy="197.02" r="0.45" fill="#4f6fb5" opacity="0.25"/>
<circle cx="487.76" cy="199.96" r="0.45" fill="#4f6fb5" opacity="0.25"/>
<circle cx="486.99" cy="196.23" r="0.45" fill="#4f6fb5" opacity="0.25"/>
<circle cx="488.08" cy="191.90" r="0.45" fill="#4f6fb5" opacity="0.25"/>
<circle cx="491.98" cy="192.89" r="0.45" fill="#4f6fb5" opacity="0.25"/>
<circle cx="480.77" cy="200.22" r="0.45" fill="#4f6fb5" opacity="0.25"/>
<circle cx="489.81" cy="192.88" r="0.45" fill="#4f6fb5" opacity="0.25"/>
<circle cx="491.03" cy="199.07" r="0.45" fill="#4f6fb5" opacity="0.25"/>
<circle cx="490.01" cy="190.42" r="0.45" fill="#4f6fb5" opacity="0.25"/>
<circle cx="487.88" cy="190.97" r="0.45" fill="#4f6fb5" opacity="0.25"/>
<circle cx="484.69" cy="192.89" r="0.45" fill="#4f6fb5" opacity="0.25"/>
<ellipse cx="485.5" cy="187.8" rx="7.4" ry="3.4" fill="#7fba5a" opacity="0.9" transform="rotate(-22 485.5 187.8)" filter="url(#b0)"/>
<ellipse cx="486" cy="187.5" rx="5.2" ry="2.3" fill="#d6c43c" transform="rotate(-22 486 187.5)" filter="url(#b0)"/>
<ellipse cx="487.0" cy="187.0" rx="2.4" ry="1.2" fill="#d99a35" transform="rotate(-22 487 187)" filter="url(#b0)"/>
</g>
<rect x="461.3" y="173.3" width="50.39999999999998" height="49.599999999999994" fill="none" stroke="#222" stroke-width="0.9"/>
<rect x="477.5" y="178.4" width="19.8" height="14.8" fill="none" stroke="#666" stroke-width="0.6"/>
<line x1="461.30" y1="193.20" x2="497.30" y2="193.20" stroke="#444" stroke-width="0.75"/>
<line x1="479.60" y1="193.20" x2="479.60" y2="218.40" stroke="#444" stroke-width="0.75"/>
<rect x="462.0" y="193.2" width="35.3" height="25.2" fill="none" stroke="#777" stroke-width="0.5"/>
<text x="482.80" y="184.20" font-size="6.0" text-anchor="start" font-weight="normal" font-style="normal" fill="#333">GMP</text>
<text x="463.20" y="218.10" font-size="6.0" text-anchor="start" font-weight="normal" font-style="normal" fill="#333">MEP</text>
<text x="483.10" y="218.10" font-size="6.0" text-anchor="start" font-weight="normal" font-style="normal" fill="#333">CMP</text>
<text x="459.40" y="180.90" font-size="5.7" text-anchor="end" font-weight="normal" font-style="normal" fill="#231f20">10<tspan baseline-shift="2.3" font-size="4.2">5</tspan></text>
<text x="459.40" y="192.90" font-size="5.7" text-anchor="end" font-weight="normal" font-style="normal" fill="#231f20">10<tspan baseline-shift="2.3" font-size="4.2">4</tspan></text>
<text x="459.40" y="204.80" font-size="5.7" text-anchor="end" font-weight="normal" font-style="normal" fill="#231f20">10<tspan baseline-shift="2.3" font-size="4.2">3</tspan></text>
<text x="459.40" y="214.00" font-size="5.7" text-anchor="end" font-weight="normal" font-style="normal" fill="#231f20">0</text>
<text x="0.00" y="0.00" font-size="6.2" text-anchor="end" font-weight="normal" font-style="normal" fill="#231f20" transform="translate(476.50,231.00) rotate(-45)">0</text>
<text x="0.00" y="0.00" font-size="6.2" text-anchor="end" font-weight="normal" font-style="normal" fill="#231f20" transform="translate(486.70,231.00) rotate(-45)">10<tspan baseline-shift="2.3" font-size="4.2">3</tspan></text>
<text x="0.00" y="0.00" font-size="6.2" text-anchor="end" font-weight="normal" font-style="normal" fill="#231f20" transform="translate(498.90,231.00) rotate(-45)">10<tspan baseline-shift="2.3" font-size="4.2">4</tspan></text>
<text x="0.00" y="0.00" font-size="6.2" text-anchor="end" font-weight="normal" font-style="normal" fill="#231f20" transform="translate(510.50,231.00) rotate(-45)">10<tspan baseline-shift="2.3" font-size="4.2">5</tspan></text>
<text x="0.00" y="0.00" font-size="7.8" text-anchor="middle" font-weight="normal" font-style="normal" fill="#231f20" transform="translate(448.40,217.40) rotate(-90)">Fc</text>
<line x1="445.70" y1="174.20" x2="445.70" y2="208.80" stroke="#333" stroke-width="1.4"/>
<text x="449.40" y="247.30" font-size="7.8" text-anchor="start" font-weight="normal" font-style="normal" fill="#231f20">CD34</text>
<line x1="472.80" y1="245.00" x2="508.90" y2="245.00" stroke="#333" stroke-width="1.4"/>
<text x="14.20" y="278.60" font-size="11.4" text-anchor="start" font-weight="bold" font-style="normal" fill="#000">E</text>
<text x="85.00" y="278.90" font-size="9.2" text-anchor="middle" font-weight="normal" font-style="normal" fill="#231f20">LSK</text>
<text x="188.80" y="278.90" font-size="9.2" text-anchor="middle" font-weight="normal" font-style="normal" fill="#231f20">LT-HSC</text>
<text x="293.80" y="278.90" font-size="9.2" text-anchor="middle" font-weight="normal" font-style="normal" fill="#231f20">ST-HSC</text>
<text x="396.30" y="278.90" font-size="9.2" text-anchor="middle" font-weight="normal" font-style="normal" fill="#231f20">MPP</text>
<text x="83.85" y="463.70" font-size="9.2" text-anchor="middle" font-weight="normal" font-style="normal" fill="#231f20">MP</text>
<text x="187.50" y="463.70" font-size="9.2" text-anchor="middle" font-weight="normal" font-style="normal" fill="#231f20">CMP</text>
<text x="292.50" y="463.70" font-size="9.2" text-anchor="middle" font-weight="normal" font-style="normal" fill="#231f20">GMP</text>
<text x="395.50" y="463.70" font-size="9.2" text-anchor="middle" font-weight="normal" font-style="normal" fill="#231f20">MEP</text>
<text x="0.00" y="0.00" font-size="8.6" text-anchor="middle" font-weight="bold" font-style="normal" fill="#231f20" transform="translate(25.20,327.90) rotate(-90)" textLength="32.3" lengthAdjust="spacingAndGlyphs">% Live BM</text>
<text x="0.00" y="0.00" font-size="8.6" text-anchor="middle" font-weight="bold" font-style="normal" fill="#231f20" transform="translate(133.50,327.90) rotate(-90)" textLength="32.3" lengthAdjust="spacingAndGlyphs">% Live BM</text>
<text x="0.00" y="0.00" font-size="8.6" text-anchor="middle" font-weight="bold" font-style="normal" fill="#231f20" transform="translate(236.80,327.90) rotate(-90)" textLength="32.3" lengthAdjust="spacingAndGlyphs">% Live BM</text>
<text x="0.00" y="0.00" font-size="8.6" text-anchor="middle" font-weight="bold" font-style="normal" fill="#231f20" transform="translate(343.00,327.90) rotate(-90)" textLength="32.3" lengthAdjust="spacingAndGlyphs">% Live BM</text>
<text x="0.00" y="0.00" font-size="8.6" text-anchor="middle" font-weight="bold" font-style="normal" fill="#231f20" transform="translate(24.90,411.00) rotate(-90)" textLength="54.4" lengthAdjust="spacingAndGlyphs">Cell number (&#215;10<tspan baseline-shift="2.8" font-size="5.6">3</tspan>)</text>
<text x="0.00" y="0.00" font-size="8.6" text-anchor="middle" font-weight="bold" font-style="normal" fill="#231f20" transform="translate(133.80,411.00) rotate(-90)" textLength="54.4" lengthAdjust="spacingAndGlyphs">Cell number (&#215;10<tspan baseline-shift="2.8" font-size="5.6">3</tspan>)</text>
<text x="0.00" y="0.00" font-size="8.6" text-anchor="middle" font-weight="bold" font-style="normal" fill="#231f20" transform="translate(236.40,411.00) rotate(-90)" textLength="54.4" lengthAdjust="spacingAndGlyphs">Cell number (&#215;10<tspan baseline-shift="2.8" font-size="5.6">3</tspan>)</text>
<text x="0.00" y="0.00" font-size="8.6" text-anchor="middle" font-weight="bold" font-style="normal" fill="#231f20" transform="translate(342.60,411.00) rotate(-90)" textLength="54.4" lengthAdjust="spacingAndGlyphs">Cell number (&#215;10<tspan baseline-shift="2.8" font-size="5.6">3</tspan>)</text>
<text x="0.00" y="0.00" font-size="8.6" text-anchor="middle" font-weight="bold" font-style="normal" fill="#231f20" transform="translate(33.80,515.50) rotate(-90)" textLength="32.3" lengthAdjust="spacingAndGlyphs">% Live BM</text>
<text x="0.00" y="0.00" font-size="8.6" text-anchor="middle" font-weight="bold" font-style="normal" fill="#231f20" transform="translate(133.00,515.50) rotate(-90)" textLength="32.3" lengthAdjust="spacingAndGlyphs">% Live BM</text>
<text x="0.00" y="0.00" font-size="8.6" text-anchor="middle" font-weight="bold" font-style="normal" fill="#231f20" transform="translate(238.00,515.50) rotate(-90)" textLength="32.3" lengthAdjust="spacingAndGlyphs">% Live BM</text>
<text x="0.00" y="0.00" font-size="8.6" text-anchor="middle" font-weight="bold" font-style="normal" fill="#231f20" transform="translate(341.80,515.50) rotate(-90)" textLength="32.3" lengthAdjust="spacingAndGlyphs">% Live BM</text>
<text x="0.00" y="0.00" font-size="8.6" text-anchor="middle" font-weight="bold" font-style="normal" fill="#231f20" transform="translate(33.80,598.50) rotate(-90)" textLength="54.4" lengthAdjust="spacingAndGlyphs">Cell number (&#215;10<tspan baseline-shift="2.8" font-size="5.6">3</tspan>)</text>
<text x="0.00" y="0.00" font-size="8.6" text-anchor="middle" font-weight="bold" font-style="normal" fill="#231f20" transform="translate(132.60,598.50) rotate(-90)" textLength="54.4" lengthAdjust="spacingAndGlyphs">Cell number (&#215;10<tspan baseline-shift="2.8" font-size="5.6">3</tspan>)</text>
<text x="0.00" y="0.00" font-size="8.6" text-anchor="middle" font-weight="bold" font-style="normal" fill="#231f20" transform="translate(236.40,598.50) rotate(-90)" textLength="54.4" lengthAdjust="spacingAndGlyphs">Cell number (&#215;10<tspan baseline-shift="2.8" font-size="5.6">3</tspan>)</text>
<text x="0.00" y="0.00" font-size="8.6" text-anchor="middle" font-weight="bold" font-style="normal" fill="#231f20" transform="translate(342.60,598.50) rotate(-90)" textLength="54.4" lengthAdjust="spacingAndGlyphs">Cell number (&#215;10<tspan baseline-shift="2.8" font-size="5.6">3</tspan>)</text>
<line x1="54.30" y1="297.50" x2="54.30" y2="358.30" stroke="#231f20" stroke-width="1.0"/>
<line x1="51.50" y1="358.30" x2="54.30" y2="358.30" stroke="#231f20" stroke-width="0.8"/>
<text x="48.90" y="360.89" font-size="7.2" text-anchor="end" font-weight="normal" font-style="normal" fill="#231f20">0.0</text>
<line x1="51.50" y1="346.64" x2="54.30" y2="346.64" stroke="#231f20" stroke-width="0.8"/>
<text x="48.90" y="349.23" font-size="7.2" text-anchor="end" font-weight="normal" font-style="normal" fill="#231f20">0.5</text>
<line x1="51.50" y1="334.98" x2="54.30" y2="334.98" stroke="#231f20" stroke-width="0.8"/>
<text x="48.90" y="337.57" font-size="7.2" text-anchor="end" font-weight="normal" font-style="normal" fill="#231f20">1.0</text>
<line x1="51.50" y1="323.32" x2="54.30" y2="323.32" stroke="#231f20" stroke-width="0.8"/>
<text x="48.90" y="325.91" font-size="7.2" text-anchor="end" font-weight="normal" font-style="normal" fill="#231f20">1.5</text>
<line x1="51.50" y1="311.66" x2="54.30" y2="311.66" stroke="#231f20" stroke-width="0.8"/>
<text x="48.90" y="314.25" font-size="7.2" text-anchor="end" font-weight="normal" font-style="normal" fill="#231f20">2.0</text>
<line x1="51.50" y1="300.00" x2="54.30" y2="300.00" stroke="#231f20" stroke-width="0.8"/>
<text x="48.90" y="302.59" font-size="7.2" text-anchor="end" font-weight="normal" font-style="normal" fill="#231f20">2.5</text>
<line x1="54.30" y1="358.30" x2="112.30" y2="358.30" stroke="#231f20" stroke-width="1.0"/>
<rect x="59.00" y="334.98" width="8.20" height="23.32" fill="#b0d99c"/>
<circle cx="63.01" cy="330.52" r="1.30" fill="#2f9e44"/>
<circle cx="59.97" cy="332.44" r="1.30" fill="#2f9e44"/>
<circle cx="66.27" cy="332.47" r="1.30" fill="#2f9e44"/>
<circle cx="63.15" cy="335.79" r="1.30" fill="#2f9e44"/>
<circle cx="59.70" cy="336.11" r="1.30" fill="#2f9e44"/>
<circle cx="66.26" cy="336.76" r="1.30" fill="#2f9e44"/>
<line x1="63.10" y1="330.32" x2="63.10" y2="339.64" stroke="#2f9e44" stroke-width="0.9"/>
<line x1="60.70" y1="330.32" x2="65.50" y2="330.32" stroke="#2f9e44" stroke-width="0.9"/>
<line x1="60.70" y1="339.64" x2="65.50" y2="339.64" stroke="#2f9e44" stroke-width="0.9"/>
<rect x="72.50" y="347.81" width="8.20" height="10.49" fill="#f39a92"/>
<rect x="75.54" y="340.98" width="2.46" height="2.46" fill="#c8102e"/>
<rect x="72.46" y="340.98" width="2.46" height="2.46" fill="#c8102e"/>
<rect x="77.82" y="346.80" width="2.46" height="2.46" fill="#c8102e"/>
<rect x="72.50" y="348.51" width="2.46" height="2.46" fill="#c8102e"/>
<rect x="75.21" y="350.18" width="2.46" height="2.46" fill="#c8102e"/>
<rect x="78.60" y="350.38" width="2.46" height="2.46" fill="#c8102e"/>
<rect x="72.68" y="350.69" width="2.46" height="2.46" fill="#c8102e"/>
<line x1="76.60" y1="343.14" x2="76.60" y2="352.47" stroke="#c8102e" stroke-width="0.9"/>
<line x1="74.20" y1="343.14" x2="79.00" y2="343.14" stroke="#c8102e" stroke-width="0.9"/>
<line x1="74.20" y1="352.47" x2="79.00" y2="352.47" stroke="#c8102e" stroke-width="0.9"/>
<rect x="86.00" y="343.14" width="8.20" height="15.16" fill="#95a2cc"/>
<polygon points="90.09,335.29 91.54,337.90 88.64,337.90" fill="#1f4b8e"/>
<polygon points="87.13,336.71 88.58,339.32 85.68,339.32" fill="#1f4b8e"/>
<polygon points="92.51,348.10 93.96,350.71 91.06,350.71" fill="#1f4b8e"/>
<polygon points="87.01,348.26 88.46,350.87 85.56,350.87" fill="#1f4b8e"/>
<polygon points="90.38,351.38 91.83,353.99 88.93,353.99" fill="#1f4b8e"/>
<polygon points="87.12,351.76 88.57,354.37 85.67,354.37" fill="#1f4b8e"/>
<polygon points="92.74,355.65 94.19,358.26 91.29,358.26" fill="#1f4b8e"/>
<line x1="90.10" y1="331.48" x2="90.10" y2="354.80" stroke="#1f4b8e" stroke-width="0.9"/>
<line x1="87.70" y1="331.48" x2="92.50" y2="331.48" stroke="#1f4b8e" stroke-width="0.9"/>
<line x1="87.70" y1="354.80" x2="92.50" y2="354.80" stroke="#1f4b8e" stroke-width="0.9"/>
<rect x="99.50" y="323.32" width="8.20" height="34.98" fill="#9dd0f2"/>
<polygon points="103.34,308.31 104.79,305.70 101.89,305.70" fill="#3b9fdc"/>
<polygon points="106.38,320.83 107.83,318.22 104.93,318.22" fill="#3b9fdc"/>
<polygon points="101.21,328.65 102.66,326.04 99.76,326.04" fill="#3b9fdc"/>
<polygon points="106.05,340.67 107.50,338.06 104.60,338.06" fill="#3b9fdc"/>
<polygon points="100.47,341.56 101.92,338.95 99.02,338.95" fill="#3b9fdc"/>
<line x1="103.60" y1="309.33" x2="103.60" y2="337.31" stroke="#3b9fdc" stroke-width="0.9"/>
<line x1="101.20" y1="309.33" x2="106.00" y2="309.33" stroke="#3b9fdc" stroke-width="0.9"/>
<line x1="101.20" y1="337.31" x2="106.00" y2="337.31" stroke="#3b9fdc" stroke-width="0.9"/>
<polyline points="76.60,333.00 76.60,289.50 103.60,289.50 103.60,296.00" fill="none" stroke="#333" stroke-width="0.8"/>
<path d="M87.60 285.55L87.60 287.45M86.78 286.02L88.42 286.98M88.42 286.02L86.78 286.98" stroke="#2a2a2a" stroke-width="0.9" stroke-linecap="round"/>
<path d="M90.10 285.55L90.10 287.45M89.28 286.02L90.92 286.98M90.92 286.02L89.28 286.98" stroke="#2a2a2a" stroke-width="0.9" stroke-linecap="round"/>
<path d="M92.60 285.55L92.60 287.45M91.78 286.02L93.42 286.98M93.42 286.02L91.78 286.98" stroke="#2a2a2a" stroke-width="0.9" stroke-linecap="round"/>
<polyline points="90.10,323.00 90.10,297.50 103.60,297.50 103.60,302.00" fill="none" stroke="#333" stroke-width="0.8"/>
<path d="M95.60 293.55L95.60 295.45M94.78 294.02L96.42 294.98M96.42 294.02L94.78 294.98" stroke="#2a2a2a" stroke-width="0.9" stroke-linecap="round"/>
<path d="M98.10 293.55L98.10 295.45M97.28 294.02L98.92 294.98M98.92 294.02L97.28 294.98" stroke="#2a2a2a" stroke-width="0.9" stroke-linecap="round"/>
<line x1="159.20" y1="316.50" x2="159.20" y2="358.30" stroke="#231f20" stroke-width="1.0"/>
<line x1="156.40" y1="358.30" x2="159.20" y2="358.30" stroke="#231f20" stroke-width="0.8"/>
<text x="153.80" y="360.89" font-size="7.2" text-anchor="end" font-weight="normal" font-style="normal" fill="#231f20">0.00</text>
<line x1="156.40" y1="348.10" x2="159.20" y2="348.10" stroke="#231f20" stroke-width="0.8"/>
<text x="153.80" y="350.69" font-size="7.2" text-anchor="end" font-weight="normal" font-style="normal" fill="#231f20">0.02</text>
<line x1="156.40" y1="337.90" x2="159.20" y2="337.90" stroke="#231f20" stroke-width="0.8"/>
<text x="153.80" y="340.49" font-size="7.2" text-anchor="end" font-weight="normal" font-style="normal" fill="#231f20">0.04</text>
<line x1="156.40" y1="327.70" x2="159.20" y2="327.70" stroke="#231f20" stroke-width="0.8"/>
<text x="153.80" y="330.29" font-size="7.2" text-anchor="end" font-weight="normal" font-style="normal" fill="#231f20">0.06</text>
<line x1="156.40" y1="317.50" x2="159.20" y2="317.50" stroke="#231f20" stroke-width="0.8"/>
<text x="153.80" y="320.09" font-size="7.2" text-anchor="end" font-weight="normal" font-style="normal" fill="#231f20">0.08</text>
<line x1="157.40" y1="316.50" x2="161.60" y2="316.50" stroke="#231f20" stroke-width="0.9"/>
<line x1="159.20" y1="299.00" x2="159.20" y2="311.40" stroke="#231f20" stroke-width="1.0"/>
<line x1="158.70" y1="311.40" x2="161.60" y2="311.40" stroke="#231f20" stroke-width="0.9"/>
<line x1="156.40" y1="301.00" x2="159.20" y2="301.00" stroke="#231f20" stroke-width="0.8"/>
<text x="153.80" y="303.60" font-size="7.2" text-anchor="end" font-weight="normal" font-style="normal" fill="#231f20">2.5</text>
<line x1="156.40" y1="311.20" x2="159.20" y2="311.20" stroke="#231f20" stroke-width="0.8"/>
<text x="153.80" y="313.80" font-size="7.2" text-anchor="end" font-weight="normal" font-style="normal" fill="#231f20">2.0</text>
<line x1="159.20" y1="358.30" x2="217.20" y2="358.30" stroke="#231f20" stroke-width="1.0"/>
<rect x="163.90" y="347.08" width="8.20" height="11.22" fill="#b0d99c"/>
<circle cx="167.94" cy="344.02" r="1.30" fill="#2f9e44"/>
<circle cx="164.64" cy="345.47" r="1.30" fill="#2f9e44"/>
<circle cx="171.17" cy="346.44" r="1.30" fill="#2f9e44"/>
<circle cx="167.78" cy="347.03" r="1.30" fill="#2f9e44"/>
<circle cx="164.87" cy="350.14" r="1.30" fill="#2f9e44"/>
<circle cx="170.52" cy="350.14" r="1.30" fill="#2f9e44"/>
<line x1="168.00" y1="344.53" x2="168.00" y2="349.63" stroke="#2f9e44" stroke-width="0.9"/>
<line x1="165.60" y1="344.53" x2="170.40" y2="344.53" stroke="#2f9e44" stroke-width="0.9"/>
<line x1="165.60" y1="349.63" x2="170.40" y2="349.63" stroke="#2f9e44" stroke-width="0.9"/>
<rect x="177.40" y="355.75" width="8.20" height="2.55" fill="#f39a92"/>
<rect x="180.23" y="354.08" width="2.46" height="2.46" fill="#c8102e"/>
<rect x="177.29" y="354.11" width="2.46" height="2.46" fill="#c8102e"/>
<rect x="183.41" y="354.51" width="2.46" height="2.46" fill="#c8102e"/>
<rect x="178.95" y="354.90" width="2.46" height="2.46" fill="#c8102e"/>
<rect x="181.78" y="354.93" width="2.46" height="2.46" fill="#c8102e"/>
<rect x="180.10" y="355.64" width="2.46" height="2.46" fill="#c8102e"/>
<rect x="177.93" y="355.74" width="2.46" height="2.46" fill="#c8102e"/>
<line x1="181.50" y1="354.73" x2="181.50" y2="356.77" stroke="#c8102e" stroke-width="0.9"/>
<line x1="179.10" y1="354.73" x2="183.90" y2="354.73" stroke="#c8102e" stroke-width="0.9"/>
<line x1="179.10" y1="356.77" x2="183.90" y2="356.77" stroke="#c8102e" stroke-width="0.9"/>
<rect x="190.90" y="347.08" width="8.20" height="11.22" fill="#95a2cc"/>
<polygon points="194.71,339.49 196.16,342.10 193.26,342.10" fill="#1f4b8e"/>
<polygon points="198.00,341.57 199.45,344.18 196.55,344.18" fill="#1f4b8e"/>
<polygon points="192.03,341.79 193.48,344.40 190.58,344.40" fill="#1f4b8e"/>
<polygon points="195.21,342.92 196.66,345.53 193.76,345.53" fill="#1f4b8e"/>
<polygon points="192.61,346.16 194.06,348.77 191.16,348.77" fill="#1f4b8e"/>
<polygon points="198.40,351.61 199.85,354.22 196.95,354.22" fill="#1f4b8e"/>
<polygon points="191.69,352.85 193.14,355.46 190.24,355.46" fill="#1f4b8e"/>
<line x1="195.00" y1="340.96" x2="195.00" y2="353.20" stroke="#1f4b8e" stroke-width="0.9"/>
<line x1="192.60" y1="340.96" x2="197.40" y2="340.96" stroke="#1f4b8e" stroke-width="0.9"/>
<line x1="192.60" y1="353.20" x2="197.40" y2="353.20" stroke="#1f4b8e" stroke-width="0.9"/>
<rect x="204.40" y="347.08" width="8.20" height="11.22" fill="#9dd0f2"/>
<polygon points="208.50,333.23 209.95,330.62 207.05,330.62" fill="#3b9fdc"/>
<polygon points="205.49,347.25 206.94,344.64 204.04,344.64" fill="#3b9fdc"/>
<polygon points="211.83,349.37 213.28,346.76 210.38,346.76" fill="#3b9fdc"/>
<polygon points="205.71,355.72 207.16,353.11 204.26,353.11" fill="#3b9fdc"/>
<polygon points="211.41,356.70 212.86,354.09 209.96,354.09" fill="#3b9fdc"/>
<line x1="208.50" y1="334.33" x2="208.50" y2="358.30" stroke="#3b9fdc" stroke-width="0.9"/>
<line x1="206.10" y1="334.33" x2="210.90" y2="334.33" stroke="#3b9fdc" stroke-width="0.9"/>
<polyline points="168.00,337.00 168.00,318.90 180.70,318.90 180.70,351.00" fill="none" stroke="#333" stroke-width="0.8"/>
<path d="M174.35 314.95L174.35 316.85M173.53 315.42L175.17 316.38M175.17 315.42L173.53 316.38" stroke="#2a2a2a" stroke-width="0.9" stroke-linecap="round"/>
<polyline points="182.30,351.00 182.30,318.90 195.00,318.90 195.00,332.00" fill="none" stroke="#333" stroke-width="0.8"/>
<path d="M188.65 314.95L188.65 316.85M187.83 315.42L189.47 316.38M189.47 315.42L187.83 316.38" stroke="#2a2a2a" stroke-width="0.9" stroke-linecap="round"/>
<polyline points="181.50,318.00 181.50,307.00 208.50,307.00 208.50,323.00" fill="none" stroke="#333" stroke-width="0.8"/>
<path d="M195.00 303.05L195.00 304.95M194.18 303.52L195.82 304.48M195.82 303.52L194.18 304.48" stroke="#2a2a2a" stroke-width="0.9" stroke-linecap="round"/>
<line x1="263.20" y1="315.00" x2="263.20" y2="358.30" stroke="#231f20" stroke-width="1.0"/>
<line x1="260.40" y1="358.30" x2="263.20" y2="358.30" stroke="#231f20" stroke-width="0.8"/>
<text x="257.80" y="360.89" font-size="7.2" text-anchor="end" font-weight="normal" font-style="normal" fill="#231f20">0.00</text>
<line x1="260.40" y1="347.73" x2="263.20" y2="347.73" stroke="#231f20" stroke-width="0.8"/>
<text x="257.80" y="350.32" font-size="7.2" text-anchor="end" font-weight="normal" font-style="normal" fill="#231f20">0.01</text>
<line x1="260.40" y1="337.15" x2="263.20" y2="337.15" stroke="#231f20" stroke-width="0.8"/>
<text x="257.80" y="339.74" font-size="7.2" text-anchor="end" font-weight="normal" font-style="normal" fill="#231f20">0.02</text>
<line x1="260.40" y1="326.57" x2="263.20" y2="326.57" stroke="#231f20" stroke-width="0.8"/>
<text x="257.80" y="329.17" font-size="7.2" text-anchor="end" font-weight="normal" font-style="normal" fill="#231f20">0.03</text>
<line x1="260.40" y1="316.00" x2="263.20" y2="316.00" stroke="#231f20" stroke-width="0.8"/>
<text x="257.80" y="318.59" font-size="7.2" text-anchor="end" font-weight="normal" font-style="normal" fill="#231f20">0.04</text>
<line x1="261.40" y1="315.00" x2="265.60" y2="315.00" stroke="#231f20" stroke-width="0.9"/>
<line x1="263.20" y1="298.30" x2="263.20" y2="311.40" stroke="#231f20" stroke-width="1.0"/>
<line x1="262.70" y1="311.40" x2="265.60" y2="311.40" stroke="#231f20" stroke-width="0.9"/>
<line x1="260.40" y1="300.30" x2="263.20" y2="300.30" stroke="#231f20" stroke-width="0.8"/>
<text x="257.80" y="302.90" font-size="7.2" text-anchor="end" font-weight="normal" font-style="normal" fill="#231f20">2.5</text>
<line x1="260.40" y1="311.20" x2="263.20" y2="311.20" stroke="#231f20" stroke-width="0.8"/>
<text x="257.80" y="313.80" font-size="7.2" text-anchor="end" font-weight="normal" font-style="normal" fill="#231f20">2.0</text>
<line x1="263.20" y1="358.30" x2="321.20" y2="358.30" stroke="#231f20" stroke-width="1.0"/>
<rect x="267.90" y="341.38" width="8.20" height="16.92" fill="#b0d99c"/>
<circle cx="271.85" cy="331.23" r="1.30" fill="#2f9e44"/>
<circle cx="269.13" cy="340.69" r="1.30" fill="#2f9e44"/>
<circle cx="274.98" cy="341.39" r="1.30" fill="#2f9e44"/>
<circle cx="272.19" cy="344.68" r="1.30" fill="#2f9e44"/>
<circle cx="268.72" cy="347.96" r="1.30" fill="#2f9e44"/>
<circle cx="275.27" cy="351.53" r="1.30" fill="#2f9e44"/>
<line x1="272.00" y1="332.92" x2="272.00" y2="349.84" stroke="#2f9e44" stroke-width="0.9"/>
<line x1="269.60" y1="332.92" x2="274.40" y2="332.92" stroke="#2f9e44" stroke-width="0.9"/>
<line x1="269.60" y1="349.84" x2="274.40" y2="349.84" stroke="#2f9e44" stroke-width="0.9"/>
<rect x="281.40" y="356.19" width="8.20" height="2.12" fill="#f39a92"/>
<rect x="284.43" y="354.29" width="2.46" height="2.46" fill="#c8102e"/>
<rect x="280.99" y="354.49" width="2.46" height="2.46" fill="#c8102e"/>
<rect x="287.27" y="354.62" width="2.46" height="2.46" fill="#c8102e"/>
<rect x="282.67" y="354.96" width="2.46" height="2.46" fill="#c8102e"/>
<rect x="285.41" y="355.35" width="2.46" height="2.46" fill="#c8102e"/>
<rect x="284.41" y="355.43" width="2.46" height="2.46" fill="#c8102e"/>
<rect x="281.61" y="355.73" width="2.46" height="2.46" fill="#c8102e"/>
<line x1="285.50" y1="355.13" x2="285.50" y2="357.24" stroke="#c8102e" stroke-width="0.9"/>
<line x1="283.10" y1="355.13" x2="287.90" y2="355.13" stroke="#c8102e" stroke-width="0.9"/>
<line x1="283.10" y1="357.24" x2="287.90" y2="357.24" stroke="#c8102e" stroke-width="0.9"/>
<rect x="294.90" y="341.38" width="8.20" height="16.92" fill="#95a2cc"/>
<polygon points="298.90,324.70 300.35,327.31 297.45,327.31" fill="#1f4b8e"/>
<polygon points="295.85,327.43 297.30,330.04 294.40,330.04" fill="#1f4b8e"/>
<polygon points="301.56,336.34 303.01,338.95 300.11,338.95" fill="#1f4b8e"/>
<polygon points="295.90,337.52 297.35,340.13 294.45,340.13" fill="#1f4b8e"/>
<polygon points="301.63,347.55 303.08,350.16 300.18,350.16" fill="#1f4b8e"/>
<polygon points="295.99,347.95 297.44,350.56 294.54,350.56" fill="#1f4b8e"/>
<polygon points="299.17,355.16 300.62,357.77 297.72,357.77" fill="#1f4b8e"/>
<line x1="299.00" y1="328.69" x2="299.00" y2="354.07" stroke="#1f4b8e" stroke-width="0.9"/>
<line x1="296.60" y1="328.69" x2="301.40" y2="328.69" stroke="#1f4b8e" stroke-width="0.9"/>
<line x1="296.60" y1="354.07" x2="301.40" y2="354.07" stroke="#1f4b8e" stroke-width="0.9"/>
<rect x="308.40" y="344.55" width="8.20" height="13.75" fill="#9dd0f2"/>
<polygon points="312.24,334.51 313.69,331.90 310.79,331.90" fill="#3b9fdc"/>
<polygon points="315.43,337.55 316.88,334.94 313.98,334.94" fill="#3b9fdc"/>
<polygon points="309.62,348.66 311.07,346.05 308.17,346.05" fill="#3b9fdc"/>
<polygon points="315.64,352.23 317.09,349.62 314.19,349.62" fill="#3b9fdc"/>
<polygon points="309.71,352.52 311.16,349.91 308.26,349.91" fill="#3b9fdc"/>
<line x1="312.50" y1="329.75" x2="312.50" y2="358.30" stroke="#3b9fdc" stroke-width="0.9"/>
<line x1="310.10" y1="329.75" x2="314.90" y2="329.75" stroke="#3b9fdc" stroke-width="0.9"/>
<polyline points="272.00,330.00 272.00,312.30 284.70,312.30 284.70,354.00" fill="none" stroke="#333" stroke-width="0.8"/>
<path d="M278.35 308.35L278.35 310.25M277.53 308.82L279.17 309.78M279.17 308.82L277.53 309.78" stroke="#2a2a2a" stroke-width="0.9" stroke-linecap="round"/>
<polyline points="286.30,354.00 286.30,312.30 299.00,312.30 299.00,319.00" fill="none" stroke="#333" stroke-width="0.8"/>
<path d="M292.65 308.35L292.65 310.25M291.83 308.82L293.47 309.78M293.47 308.82L291.83 309.78" stroke="#2a2a2a" stroke-width="0.9" stroke-linecap="round"/>
<line x1="365.80" y1="297.50" x2="365.80" y2="358.30" stroke="#231f20" stroke-width="1.0"/>
<line x1="363.00" y1="358.30" x2="365.80" y2="358.30" stroke="#231f20" stroke-width="0.8"/>
<text x="360.40" y="360.89" font-size="7.2" text-anchor="end" font-weight="normal" font-style="normal" fill="#231f20">0.0</text>
<line x1="363.00" y1="346.64" x2="365.80" y2="346.64" stroke="#231f20" stroke-width="0.8"/>
<text x="360.40" y="349.23" font-size="7.2" text-anchor="end" font-weight="normal" font-style="normal" fill="#231f20">0.5</text>
<line x1="363.00" y1="334.98" x2="365.80" y2="334.98" stroke="#231f20" stroke-width="0.8"/>
<text x="360.40" y="337.57" font-size="7.2" text-anchor="end" font-weight="normal" font-style="normal" fill="#231f20">1.0</text>
<line x1="363.00" y1="323.32" x2="365.80" y2="323.32" stroke="#231f20" stroke-width="0.8"/>
<text x="360.40" y="325.91" font-size="7.2" text-anchor="end" font-weight="normal" font-style="normal" fill="#231f20">1.5</text>
<line x1="363.00" y1="311.66" x2="365.80" y2="311.66" stroke="#231f20" stroke-width="0.8"/>
<text x="360.40" y="314.25" font-size="7.2" text-anchor="end" font-weight="normal" font-style="normal" fill="#231f20">2.0</text>
<line x1="363.00" y1="300.00" x2="365.80" y2="300.00" stroke="#231f20" stroke-width="0.8"/>
<text x="360.40" y="302.59" font-size="7.2" text-anchor="end" font-weight="normal" font-style="normal" fill="#231f20">2.5</text>
<line x1="365.80" y1="358.30" x2="423.80" y2="358.30" stroke="#231f20" stroke-width="1.0"/>
<rect x="370.50" y="338.48" width="8.20" height="19.82" fill="#b0d99c"/>
<circle cx="374.78" cy="334.28" r="1.30" fill="#2f9e44"/>
<circle cx="371.24" cy="336.15" r="1.30" fill="#2f9e44"/>
<circle cx="377.36" cy="338.90" r="1.30" fill="#2f9e44"/>
<circle cx="371.72" cy="341.23" r="1.30" fill="#2f9e44"/>
<circle cx="374.39" cy="341.74" r="1.30" fill="#2f9e44"/>
<circle cx="377.44" cy="341.94" r="1.30" fill="#2f9e44"/>
<line x1="374.60" y1="334.98" x2="374.60" y2="341.98" stroke="#2f9e44" stroke-width="0.9"/>
<line x1="372.20" y1="334.98" x2="377.00" y2="334.98" stroke="#2f9e44" stroke-width="0.9"/>
<line x1="372.20" y1="341.98" x2="377.00" y2="341.98" stroke="#2f9e44" stroke-width="0.9"/>
<rect x="384.00" y="350.14" width="8.20" height="8.16" fill="#f39a92"/>
<rect x="386.64" y="341.91" width="2.46" height="2.46" fill="#c8102e"/>
<rect x="390.18" y="347.87" width="2.46" height="2.46" fill="#c8102e"/>
<rect x="383.54" y="347.92" width="2.46" height="2.46" fill="#c8102e"/>
<rect x="386.63" y="351.10" width="2.46" height="2.46" fill="#c8102e"/>
<rect x="389.72" y="353.43" width="2.46" height="2.46" fill="#c8102e"/>
<rect x="384.16" y="355.38" width="2.46" height="2.46" fill="#c8102e"/>
<rect x="386.58" y="355.87" width="2.46" height="2.46" fill="#c8102e"/>
<line x1="388.10" y1="344.31" x2="388.10" y2="355.97" stroke="#c8102e" stroke-width="0.9"/>
<line x1="385.70" y1="344.31" x2="390.50" y2="344.31" stroke="#c8102e" stroke-width="0.9"/>
<line x1="385.70" y1="355.97" x2="390.50" y2="355.97" stroke="#c8102e" stroke-width="0.9"/>
<rect x="397.50" y="346.64" width="8.20" height="11.66" fill="#95a2cc"/>
<polygon points="401.82,335.02 403.27,337.63 400.37,337.63" fill="#1f4b8e"/>
<polygon points="398.22,338.84 399.67,341.45 396.77,341.45" fill="#1f4b8e"/>
<polygon points="404.99,345.79 406.44,348.40 403.54,348.40" fill="#1f4b8e"/>
<polygon points="398.37,347.11 399.82,349.72 396.92,349.72" fill="#1f4b8e"/>
<polygon points="404.30,354.48 405.75,357.09 402.85,357.09" fill="#1f4b8e"/>
<polygon points="398.50,355.65 399.95,358.26 397.05,358.26" fill="#1f4b8e"/>
<polygon points="401.69,355.65 403.14,358.26 400.24,358.26" fill="#1f4b8e"/>
<line x1="401.60" y1="337.31" x2="401.60" y2="355.97" stroke="#1f4b8e" stroke-width="0.9"/>
<line x1="399.20" y1="337.31" x2="404.00" y2="337.31" stroke="#1f4b8e" stroke-width="0.9"/>
<line x1="399.20" y1="355.97" x2="404.00" y2="355.97" stroke="#1f4b8e" stroke-width="0.9"/>
<rect x="411.00" y="326.82" width="8.20" height="31.48" fill="#9dd0f2"/>
<polygon points="415.21,324.28 416.66,321.67 413.76,321.67" fill="#3b9fdc"/>
<polygon points="412.14,327.48 413.59,324.87 410.69,324.87" fill="#3b9fdc"/>
<polygon points="417.64,328.51 419.09,325.90 416.19,325.90" fill="#3b9fdc"/>
<polygon points="415.22,329.66 416.67,327.05 413.77,327.05" fill="#3b9fdc"/>
<polygon points="412.60,337.95 414.05,335.34 411.15,335.34" fill="#3b9fdc"/>
<line x1="415.10" y1="316.32" x2="415.10" y2="337.31" stroke="#3b9fdc" stroke-width="0.9"/>
<line x1="412.70" y1="316.32" x2="417.50" y2="316.32" stroke="#3b9fdc" stroke-width="0.9"/>
<line x1="412.70" y1="337.31" x2="417.50" y2="337.31" stroke="#3b9fdc" stroke-width="0.9"/>
<polyline points="374.60,329.00 374.60,290.80 415.10,290.80 415.10,296.00" fill="none" stroke="#333" stroke-width="0.8"/>
<path d="M394.85 286.85L394.85 288.75M394.03 287.32L395.67 288.28M395.67 287.32L394.03 288.28" stroke="#2a2a2a" stroke-width="0.9" stroke-linecap="round"/>
<polyline points="388.10,336.00 388.10,299.50 415.10,299.50 415.10,303.00" fill="none" stroke="#333" stroke-width="0.8"/>
<path d="M399.10 295.55L399.10 297.45M398.28 296.02L399.92 296.98M399.92 296.02L398.28 296.98" stroke="#2a2a2a" stroke-width="0.9" stroke-linecap="round"/>
<path d="M401.60 295.55L401.60 297.45M400.78 296.02L402.42 296.98M402.42 296.02L400.78 296.98" stroke="#2a2a2a" stroke-width="0.9" stroke-linecap="round"/>
<path d="M404.10 295.55L404.10 297.45M403.28 296.02L404.92 296.98M404.92 296.02L403.28 296.98" stroke="#2a2a2a" stroke-width="0.9" stroke-linecap="round"/>
<polyline points="401.60,334.00 401.60,307.00 415.10,307.00 415.10,310.00" fill="none" stroke="#333" stroke-width="0.8"/>
<path d="M405.85 303.05L405.85 304.95M405.03 303.52L406.67 304.48M406.67 303.52L405.03 304.48" stroke="#2a2a2a" stroke-width="0.9" stroke-linecap="round"/>
<path d="M408.35 303.05L408.35 304.95M407.53 303.52L409.17 304.48M409.17 303.52L407.53 304.48" stroke="#2a2a2a" stroke-width="0.9" stroke-linecap="round"/>
<path d="M410.85 303.05L410.85 304.95M410.03 303.52L411.67 304.48M411.67 303.52L410.03 304.48" stroke="#2a2a2a" stroke-width="0.9" stroke-linecap="round"/>
<line x1="54.30" y1="380.50" x2="54.30" y2="441.30" stroke="#231f20" stroke-width="1.0"/>
<line x1="51.50" y1="441.30" x2="54.30" y2="441.30" stroke="#231f20" stroke-width="0.8"/>
<text x="48.90" y="443.89" font-size="7.2" text-anchor="end" font-weight="normal" font-style="normal" fill="#231f20">0</text>
<line x1="51.50" y1="429.64" x2="54.30" y2="429.64" stroke="#231f20" stroke-width="0.8"/>
<text x="48.90" y="432.23" font-size="7.2" text-anchor="end" font-weight="normal" font-style="normal" fill="#231f20">200</text>
<line x1="51.50" y1="417.98" x2="54.30" y2="417.98" stroke="#231f20" stroke-width="0.8"/>
<text x="48.90" y="420.57" font-size="7.2" text-anchor="end" font-weight="normal" font-style="normal" fill="#231f20">400</text>
<line x1="51.50" y1="406.32" x2="54.30" y2="406.32" stroke="#231f20" stroke-width="0.8"/>
<text x="48.90" y="408.91" font-size="7.2" text-anchor="end" font-weight="normal" font-style="normal" fill="#231f20">600</text>
<line x1="51.50" y1="394.66" x2="54.30" y2="394.66" stroke="#231f20" stroke-width="0.8"/>
<text x="48.90" y="397.25" font-size="7.2" text-anchor="end" font-weight="normal" font-style="normal" fill="#231f20">800</text>
<line x1="51.50" y1="383.00" x2="54.30" y2="383.00" stroke="#231f20" stroke-width="0.8"/>
<text x="48.90" y="385.59" font-size="7.2" text-anchor="end" font-weight="normal" font-style="normal" fill="#231f20">1000</text>
<line x1="54.30" y1="441.30" x2="112.30" y2="441.30" stroke="#231f20" stroke-width="1.0"/>
<rect x="59.00" y="409.82" width="8.20" height="31.48" fill="#b0d99c"/>
<circle cx="62.91" cy="403.62" r="1.30" fill="#2f9e44"/>
<circle cx="66.48" cy="407.75" r="1.30" fill="#2f9e44"/>
<circle cx="60.21" cy="409.00" r="1.30" fill="#2f9e44"/>
<circle cx="64.66" cy="412.70" r="1.30" fill="#2f9e44"/>
<circle cx="59.85" cy="414.31" r="1.30" fill="#2f9e44"/>
<circle cx="65.75" cy="425.77" r="1.30" fill="#2f9e44"/>
<line x1="63.10" y1="394.66" x2="63.10" y2="424.98" stroke="#2f9e44" stroke-width="0.9"/>
<line x1="60.70" y1="394.66" x2="65.50" y2="394.66" stroke="#2f9e44" stroke-width="0.9"/>
<line x1="60.70" y1="424.98" x2="65.50" y2="424.98" stroke="#2f9e44" stroke-width="0.9"/>
<rect x="72.50" y="438.97" width="8.20" height="2.33" fill="#f39a92"/>
<rect x="75.53" y="435.64" width="2.46" height="2.46" fill="#c8102e"/>
<rect x="72.10" y="437.17" width="2.46" height="2.46" fill="#c8102e"/>
<rect x="78.42" y="437.18" width="2.46" height="2.46" fill="#c8102e"/>
<rect x="75.25" y="437.66" width="2.46" height="2.46" fill="#c8102e"/>
<rect x="72.56" y="438.62" width="2.46" height="2.46" fill="#c8102e"/>
<rect x="77.75" y="438.87" width="2.46" height="2.46" fill="#c8102e"/>
<rect x="73.84" y="438.87" width="2.46" height="2.46" fill="#c8102e"/>
<line x1="76.60" y1="437.22" x2="76.60" y2="440.72" stroke="#c8102e" stroke-width="0.9"/>
<line x1="74.20" y1="437.22" x2="79.00" y2="437.22" stroke="#c8102e" stroke-width="0.9"/>
<line x1="74.20" y1="440.72" x2="79.00" y2="440.72" stroke="#c8102e" stroke-width="0.9"/>
<rect x="86.00" y="417.98" width="8.20" height="23.32" fill="#95a2cc"/>
<polygon points="89.86,403.84 91.31,406.45 88.41,406.45" fill="#1f4b8e"/>
<polygon points="93.22,407.79 94.67,410.40 91.77,410.40" fill="#1f4b8e"/>
<polygon points="87.03,411.90 88.48,414.51 85.58,414.51" fill="#1f4b8e"/>
<polygon points="93.44,415.72 94.89,418.33 91.99,418.33" fill="#1f4b8e"/>
<polygon points="87.35,417.24 88.80,419.85 85.90,419.85" fill="#1f4b8e"/>
<polygon points="92.67,421.32 94.12,423.93 91.22,423.93" fill="#1f4b8e"/>
<polygon points="86.70,424.43 88.15,427.04 85.25,427.04" fill="#1f4b8e"/>
<line x1="90.10" y1="405.15" x2="90.10" y2="430.81" stroke="#1f4b8e" stroke-width="0.9"/>
<line x1="87.70" y1="405.15" x2="92.50" y2="405.15" stroke="#1f4b8e" stroke-width="0.9"/>
<line x1="87.70" y1="430.81" x2="92.50" y2="430.81" stroke="#1f4b8e" stroke-width="0.9"/>
<rect x="99.50" y="423.81" width="8.20" height="17.49" fill="#9dd0f2"/>
<polygon points="103.85,419.91 105.30,417.30 102.40,417.30" fill="#3b9fdc"/>
<polygon points="100.37,421.63 101.82,419.02 98.92,419.02" fill="#3b9fdc"/>
<polygon points="106.97,421.86 108.42,419.25 105.52,419.25" fill="#3b9fdc"/>
<polygon points="103.35,433.13 104.80,430.52 101.90,430.52" fill="#3b9fdc"/>
<polygon points="106.54,433.67 107.99,431.06 105.09,431.06" fill="#3b9fdc"/>
<line x1="103.60" y1="416.23" x2="103.60" y2="431.39" stroke="#3b9fdc" stroke-width="0.9"/>
<line x1="101.20" y1="416.23" x2="106.00" y2="416.23" stroke="#3b9fdc" stroke-width="0.9"/>
<line x1="101.20" y1="431.39" x2="106.00" y2="431.39" stroke="#3b9fdc" stroke-width="0.9"/>
<polyline points="63.10,386.00 63.10,381.30 75.80,381.30 75.80,431.00" fill="none" stroke="#333" stroke-width="0.8"/>
<path d="M66.95 377.35L66.95 379.25M66.13 377.82L67.77 378.78M67.77 377.82L66.13 378.78" stroke="#2a2a2a" stroke-width="0.9" stroke-linecap="round"/>
<path d="M69.45 377.35L69.45 379.25M68.63 377.82L70.27 378.78M70.27 377.82L68.63 378.78" stroke="#2a2a2a" stroke-width="0.9" stroke-linecap="round"/>
<path d="M71.95 377.35L71.95 379.25M71.13 377.82L72.77 378.78M72.77 377.82L71.13 378.78" stroke="#2a2a2a" stroke-width="0.9" stroke-linecap="round"/>
<polyline points="77.40,431.00 77.40,381.30 90.10,381.30 90.10,392.00" fill="none" stroke="#333" stroke-width="0.8"/>
<path d="M82.50 377.35L82.50 379.25M81.68 377.82L83.32 378.78M83.32 377.82L81.68 378.78" stroke="#2a2a2a" stroke-width="0.9" stroke-linecap="round"/>
<path d="M85.00 377.35L85.00 379.25M84.18 377.82L85.82 378.78M85.82 377.82L84.18 378.78" stroke="#2a2a2a" stroke-width="0.9" stroke-linecap="round"/>
<line x1="159.20" y1="380.50" x2="159.20" y2="441.30" stroke="#231f20" stroke-width="1.0"/>
<line x1="156.40" y1="441.30" x2="159.20" y2="441.30" stroke="#231f20" stroke-width="0.8"/>
<text x="153.80" y="443.89" font-size="7.2" text-anchor="end" font-weight="normal" font-style="normal" fill="#231f20">0</text>
<line x1="156.40" y1="429.64" x2="159.20" y2="429.64" stroke="#231f20" stroke-width="0.8"/>
<text x="153.80" y="432.23" font-size="7.2" text-anchor="end" font-weight="normal" font-style="normal" fill="#231f20">5</text>
<line x1="156.40" y1="417.98" x2="159.20" y2="417.98" stroke="#231f20" stroke-width="0.8"/>
<text x="153.80" y="420.57" font-size="7.2" text-anchor="end" font-weight="normal" font-style="normal" fill="#231f20">10</text>
<line x1="156.40" y1="406.32" x2="159.20" y2="406.32" stroke="#231f20" stroke-width="0.8"/>
<text x="153.80" y="408.91" font-size="7.2" text-anchor="end" font-weight="normal" font-style="normal" fill="#231f20">15</text>
<line x1="156.40" y1="394.66" x2="159.20" y2="394.66" stroke="#231f20" stroke-width="0.8"/>
<text x="153.80" y="397.25" font-size="7.2" text-anchor="end" font-weight="normal" font-style="normal" fill="#231f20">20</text>
<line x1="156.40" y1="383.00" x2="159.20" y2="383.00" stroke="#231f20" stroke-width="0.8"/>
<text x="153.80" y="385.59" font-size="7.2" text-anchor="end" font-weight="normal" font-style="normal" fill="#231f20">25</text>
<line x1="159.20" y1="441.30" x2="217.20" y2="441.30" stroke="#231f20" stroke-width="1.0"/>
<rect x="163.90" y="409.82" width="8.20" height="31.48" fill="#b0d99c"/>
<circle cx="167.90" cy="402.82" r="1.30" fill="#2f9e44"/>
<circle cx="171.25" cy="406.56" r="1.30" fill="#2f9e44"/>
<circle cx="165.05" cy="409.22" r="1.30" fill="#2f9e44"/>
<circle cx="170.40" cy="411.05" r="1.30" fill="#2f9e44"/>
<circle cx="166.91" cy="412.15" r="1.30" fill="#2f9e44"/>
<circle cx="170.77" cy="416.73" r="1.30" fill="#2f9e44"/>
<line x1="168.00" y1="403.99" x2="168.00" y2="415.65" stroke="#2f9e44" stroke-width="0.9"/>
<line x1="165.60" y1="403.99" x2="170.40" y2="403.99" stroke="#2f9e44" stroke-width="0.9"/>
<line x1="165.60" y1="415.65" x2="170.40" y2="415.65" stroke="#2f9e44" stroke-width="0.9"/>
<rect x="177.40" y="439.43" width="8.20" height="1.87" fill="#f39a92"/>
<rect x="180.11" y="437.08" width="2.46" height="2.46" fill="#c8102e"/>
<rect x="183.23" y="438.11" width="2.46" height="2.46" fill="#c8102e"/>
<rect x="177.11" y="438.31" width="2.46" height="2.46" fill="#c8102e"/>
<rect x="179.12" y="438.54" width="2.46" height="2.46" fill="#c8102e"/>
<rect x="181.44" y="438.71" width="2.46" height="2.46" fill="#c8102e"/>
<rect x="180.28" y="438.87" width="2.46" height="2.46" fill="#c8102e"/>
<rect x="177.93" y="438.87" width="2.46" height="2.46" fill="#c8102e"/>
<line x1="181.50" y1="438.50" x2="181.50" y2="440.37" stroke="#c8102e" stroke-width="0.9"/>
<line x1="179.10" y1="438.50" x2="183.90" y2="438.50" stroke="#c8102e" stroke-width="0.9"/>
<line x1="179.10" y1="440.37" x2="183.90" y2="440.37" stroke="#c8102e" stroke-width="0.9"/>
<rect x="190.90" y="407.49" width="8.20" height="33.81" fill="#95a2cc"/>
<polygon points="195.10,396.78 196.55,399.39 193.65,399.39" fill="#1f4b8e"/>
<polygon points="192.02,399.44 193.47,402.05 190.57,402.05" fill="#1f4b8e"/>
<polygon points="198.10,400.03 199.55,402.64 196.65,402.64" fill="#1f4b8e"/>
<polygon points="194.80,401.36 196.25,403.97 193.35,403.97" fill="#1f4b8e"/>
<polygon points="198.13,408.08 199.58,410.69 196.68,410.69" fill="#1f4b8e"/>
<polygon points="191.84,413.90 193.29,416.51 190.39,416.51" fill="#1f4b8e"/>
<polygon points="197.92,416.11 199.37,418.72 196.47,418.72" fill="#1f4b8e"/>
<line x1="195.00" y1="396.99" x2="195.00" y2="417.98" stroke="#1f4b8e" stroke-width="0.9"/>
<line x1="192.60" y1="396.99" x2="197.40" y2="396.99" stroke="#1f4b8e" stroke-width="0.9"/>
<line x1="192.60" y1="417.98" x2="197.40" y2="417.98" stroke="#1f4b8e" stroke-width="0.9"/>
<rect x="204.40" y="429.64" width="8.20" height="11.66" fill="#9dd0f2"/>
<polygon points="208.34,425.11 209.79,422.50 206.89,422.50" fill="#3b9fdc"/>
<polygon points="211.37,431.35 212.82,428.74 209.92,428.74" fill="#3b9fdc"/>
<polygon points="205.66,438.64 207.11,436.03 204.21,436.03" fill="#3b9fdc"/>
<polygon points="211.36,441.55 212.81,438.94 209.91,438.94" fill="#3b9fdc"/>
<polygon points="207.39,441.55 208.84,438.94 205.94,438.94" fill="#3b9fdc"/>
<line x1="208.50" y1="419.15" x2="208.50" y2="440.13" stroke="#3b9fdc" stroke-width="0.9"/>
<line x1="206.10" y1="419.15" x2="210.90" y2="419.15" stroke="#3b9fdc" stroke-width="0.9"/>
<line x1="206.10" y1="440.13" x2="210.90" y2="440.13" stroke="#3b9fdc" stroke-width="0.9"/>
<polyline points="168.00,392.00 168.00,372.00 208.50,372.00 208.50,380.00" fill="none" stroke="#333" stroke-width="0.8"/>
<path d="M187.00 368.05L187.00 369.95M186.18 368.52L187.82 369.48M187.82 368.52L186.18 369.48" stroke="#2a2a2a" stroke-width="0.9" stroke-linecap="round"/>
<path d="M189.50 368.05L189.50 369.95M188.68 368.52L190.32 369.48M190.32 368.52L188.68 369.48" stroke="#2a2a2a" stroke-width="0.9" stroke-linecap="round"/>
<polyline points="181.50,392.00 181.50,382.00 194.40,382.00 194.40,390.00" fill="none" stroke="#333" stroke-width="0.8"/>
<path d="M185.45 378.05L185.45 379.95M184.63 378.52L186.27 379.48M186.27 378.52L184.63 379.48" stroke="#2a2a2a" stroke-width="0.9" stroke-linecap="round"/>
<path d="M187.95 378.05L187.95 379.95M187.13 378.52L188.77 379.48M188.77 378.52L187.13 379.48" stroke="#2a2a2a" stroke-width="0.9" stroke-linecap="round"/>
<path d="M190.45 378.05L190.45 379.95M189.63 378.52L191.27 379.48M191.27 378.52L189.63 379.48" stroke="#2a2a2a" stroke-width="0.9" stroke-linecap="round"/>
<polyline points="195.60,390.00 195.60,382.00 208.50,382.00 208.50,400.00" fill="none" stroke="#333" stroke-width="0.8"/>
<path d="M199.55 378.05L199.55 379.95M198.73 378.52L200.37 379.48M200.37 378.52L198.73 379.48" stroke="#2a2a2a" stroke-width="0.9" stroke-linecap="round"/>
<path d="M202.05 378.05L202.05 379.95M201.23 378.52L202.87 379.48M202.87 378.52L201.23 379.48" stroke="#2a2a2a" stroke-width="0.9" stroke-linecap="round"/>
<path d="M204.55 378.05L204.55 379.95M203.73 378.52L205.37 379.48M205.37 378.52L203.73 379.48" stroke="#2a2a2a" stroke-width="0.9" stroke-linecap="round"/>
<polyline points="168.00,402.00 168.00,394.50 180.70,394.50 180.70,436.00" fill="none" stroke="#333" stroke-width="0.8"/>
<path d="M171.85 390.55L171.85 392.45M171.03 391.02L172.67 391.98M172.67 391.02L171.03 391.98" stroke="#2a2a2a" stroke-width="0.9" stroke-linecap="round"/>
<path d="M174.35 390.55L174.35 392.45M173.53 391.02L175.17 391.98M175.17 391.02L173.53 391.98" stroke="#2a2a2a" stroke-width="0.9" stroke-linecap="round"/>
<path d="M176.85 390.55L176.85 392.45M176.03 391.02L177.67 391.98M177.67 391.02L176.03 391.98" stroke="#2a2a2a" stroke-width="0.9" stroke-linecap="round"/>
<line x1="263.20" y1="380.50" x2="263.20" y2="441.30" stroke="#231f20" stroke-width="1.0"/>
<line x1="260.40" y1="441.30" x2="263.20" y2="441.30" stroke="#231f20" stroke-width="0.8"/>
<text x="257.80" y="443.89" font-size="7.2" text-anchor="end" font-weight="normal" font-style="normal" fill="#231f20">0</text>
<line x1="260.40" y1="429.64" x2="263.20" y2="429.64" stroke="#231f20" stroke-width="0.8"/>
<text x="257.80" y="432.23" font-size="7.2" text-anchor="end" font-weight="normal" font-style="normal" fill="#231f20">5</text>
<line x1="260.40" y1="417.98" x2="263.20" y2="417.98" stroke="#231f20" stroke-width="0.8"/>
<text x="257.80" y="420.57" font-size="7.2" text-anchor="end" font-weight="normal" font-style="normal" fill="#231f20">10</text>
<line x1="260.40" y1="406.32" x2="263.20" y2="406.32" stroke="#231f20" stroke-width="0.8"/>
<text x="257.80" y="408.91" font-size="7.2" text-anchor="end" font-weight="normal" font-style="normal" fill="#231f20">15</text>
<line x1="260.40" y1="394.66" x2="263.20" y2="394.66" stroke="#231f20" stroke-width="0.8"/>
<text x="257.80" y="397.25" font-size="7.2" text-anchor="end" font-weight="normal" font-style="normal" fill="#231f20">20</text>
<line x1="260.40" y1="383.00" x2="263.20" y2="383.00" stroke="#231f20" stroke-width="0.8"/>
<text x="257.80" y="385.59" font-size="7.2" text-anchor="end" font-weight="normal" font-style="normal" fill="#231f20">25</text>
<line x1="263.20" y1="441.30" x2="321.20" y2="441.30" stroke="#231f20" stroke-width="1.0"/>
<rect x="267.90" y="419.15" width="8.20" height="22.15" fill="#b0d99c"/>
<circle cx="272.00" cy="412.16" r="1.30" fill="#2f9e44"/>
<circle cx="269.16" cy="414.77" r="1.30" fill="#2f9e44"/>
<circle cx="275.20" cy="420.07" r="1.30" fill="#2f9e44"/>
<circle cx="268.98" cy="422.76" r="1.30" fill="#2f9e44"/>
<circle cx="274.41" cy="425.30" r="1.30" fill="#2f9e44"/>
<circle cx="269.63" cy="428.94" r="1.30" fill="#2f9e44"/>
<line x1="272.00" y1="410.98" x2="272.00" y2="427.31" stroke="#2f9e44" stroke-width="0.9"/>
<line x1="269.60" y1="410.98" x2="274.40" y2="410.98" stroke="#2f9e44" stroke-width="0.9"/>
<line x1="269.60" y1="427.31" x2="274.40" y2="427.31" stroke="#2f9e44" stroke-width="0.9"/>
<rect x="281.40" y="440.60" width="8.20" height="0.70" fill="#f39a92"/>
<rect x="284.34" y="438.81" width="2.46" height="2.46" fill="#c8102e"/>
<rect x="281.12" y="438.87" width="2.46" height="2.46" fill="#c8102e"/>
<rect x="287.45" y="438.87" width="2.46" height="2.46" fill="#c8102e"/>
<rect x="283.19" y="438.87" width="2.46" height="2.46" fill="#c8102e"/>
<rect x="285.82" y="438.87" width="2.46" height="2.46" fill="#c8102e"/>
<rect x="281.47" y="438.87" width="2.46" height="2.46" fill="#c8102e"/>
<rect x="286.72" y="438.87" width="2.46" height="2.46" fill="#c8102e"/>
<rect x="294.90" y="417.98" width="8.20" height="23.32" fill="#95a2cc"/>
<polygon points="298.92,409.32 300.37,411.93 297.47,411.93" fill="#1f4b8e"/>
<polygon points="295.69,410.71 297.14,413.32 294.24,413.32" fill="#1f4b8e"/>
<polygon points="301.82,410.91 303.27,413.52 300.37,413.52" fill="#1f4b8e"/>
<polygon points="299.15,412.31 300.60,414.92 297.70,414.92" fill="#1f4b8e"/>
<polygon points="295.86,416.06 297.31,418.67 294.41,418.67" fill="#1f4b8e"/>
<polygon points="301.41,417.44 302.86,420.05 299.96,420.05" fill="#1f4b8e"/>
<polygon points="296.21,421.49 297.66,424.10 294.76,424.10" fill="#1f4b8e"/>
<line x1="299.00" y1="406.32" x2="299.00" y2="429.64" stroke="#1f4b8e" stroke-width="0.9"/>
<line x1="296.60" y1="406.32" x2="301.40" y2="406.32" stroke="#1f4b8e" stroke-width="0.9"/>
<line x1="296.60" y1="429.64" x2="301.40" y2="429.64" stroke="#1f4b8e" stroke-width="0.9"/>
<rect x="308.40" y="435.47" width="8.20" height="5.83" fill="#9dd0f2"/>
<polygon points="312.79,436.93 314.24,434.32 311.34,434.32" fill="#3b9fdc"/>
<polygon points="309.72,441.55 311.17,438.94 308.27,438.94" fill="#3b9fdc"/>
<polygon points="315.25,441.55 316.70,438.94 313.80,438.94" fill="#3b9fdc"/>
<polygon points="312.50,441.55 313.95,438.94 311.05,438.94" fill="#3b9fdc"/>
<polygon points="311.09,441.55 312.54,438.94 309.64,438.94" fill="#3b9fdc"/>
<line x1="312.50" y1="428.47" x2="312.50" y2="441.30" stroke="#3b9fdc" stroke-width="0.9"/>
<line x1="310.10" y1="428.47" x2="314.90" y2="428.47" stroke="#3b9fdc" stroke-width="0.9"/>
<polyline points="272.00,397.00 272.00,379.50 312.50,379.50 312.50,388.00" fill="none" stroke="#333" stroke-width="0.8"/>
<path d="M292.25 375.55L292.25 377.45M291.43 376.02L293.07 376.98M293.07 376.02L291.43 376.98" stroke="#2a2a2a" stroke-width="0.9" stroke-linecap="round"/>
<polyline points="285.50,400.00 285.50,388.80 298.40,388.80 298.40,396.00" fill="none" stroke="#333" stroke-width="0.8"/>
<path d="M289.45 384.85L289.45 386.75M288.63 385.32L290.27 386.28M290.27 385.32L288.63 386.28" stroke="#2a2a2a" stroke-width="0.9" stroke-linecap="round"/>
<path d="M291.95 384.85L291.95 386.75M291.13 385.32L292.77 386.28M292.77 385.32L291.13 386.28" stroke="#2a2a2a" stroke-width="0.9" stroke-linecap="round"/>
<path d="M294.45 384.85L294.45 386.75M293.63 385.32L295.27 386.28M295.27 385.32L293.63 386.28" stroke="#2a2a2a" stroke-width="0.9" stroke-linecap="round"/>
<polyline points="299.60,396.00 299.60,388.80 312.50,388.80 312.50,420.00" fill="none" stroke="#333" stroke-width="0.8"/>
<path d="M306.05 384.85L306.05 386.75M305.23 385.32L306.87 386.28M306.87 385.32L305.23 386.28" stroke="#2a2a2a" stroke-width="0.9" stroke-linecap="round"/>
<polyline points="272.00,406.00 272.00,400.00 284.70,400.00 284.70,437.00" fill="none" stroke="#333" stroke-width="0.8"/>
<path d="M275.85 396.05L275.85 397.95M275.03 396.52L276.67 397.48M276.67 396.52L275.03 397.48" stroke="#2a2a2a" stroke-width="0.9" stroke-linecap="round"/>
<path d="M278.35 396.05L278.35 397.95M277.53 396.52L279.17 397.48M279.17 396.52L277.53 397.48" stroke="#2a2a2a" stroke-width="0.9" stroke-linecap="round"/>
<path d="M280.85 396.05L280.85 397.95M280.03 396.52L281.67 397.48M281.67 396.52L280.03 397.48" stroke="#2a2a2a" stroke-width="0.9" stroke-linecap="round"/>
<line x1="365.80" y1="380.50" x2="365.80" y2="441.30" stroke="#231f20" stroke-width="1.0"/>
<line x1="363.00" y1="441.30" x2="365.80" y2="441.30" stroke="#231f20" stroke-width="0.8"/>
<text x="360.40" y="443.89" font-size="7.2" text-anchor="end" font-weight="normal" font-style="normal" fill="#231f20">0</text>
<line x1="363.00" y1="426.73" x2="365.80" y2="426.73" stroke="#231f20" stroke-width="0.8"/>
<text x="360.40" y="429.32" font-size="7.2" text-anchor="end" font-weight="normal" font-style="normal" fill="#231f20">200</text>
<line x1="363.00" y1="412.15" x2="365.80" y2="412.15" stroke="#231f20" stroke-width="0.8"/>
<text x="360.40" y="414.74" font-size="7.2" text-anchor="end" font-weight="normal" font-style="normal" fill="#231f20">400</text>
<line x1="363.00" y1="397.57" x2="365.80" y2="397.57" stroke="#231f20" stroke-width="0.8"/>
<text x="360.40" y="400.17" font-size="7.2" text-anchor="end" font-weight="normal" font-style="normal" fill="#231f20">600</text>
<line x1="363.00" y1="383.00" x2="365.80" y2="383.00" stroke="#231f20" stroke-width="0.8"/>
<text x="360.40" y="385.59" font-size="7.2" text-anchor="end" font-weight="normal" font-style="normal" fill="#231f20">800</text>
<line x1="365.80" y1="441.30" x2="423.80" y2="441.30" stroke="#231f20" stroke-width="1.0"/>
<rect x="370.50" y="410.69" width="8.20" height="30.61" fill="#b0d99c"/>
<circle cx="374.78" cy="405.12" r="1.30" fill="#2f9e44"/>
<circle cx="371.45" cy="407.76" r="1.30" fill="#2f9e44"/>
<circle cx="377.49" cy="410.86" r="1.30" fill="#2f9e44"/>
<circle cx="371.33" cy="415.58" r="1.30" fill="#2f9e44"/>
<circle cx="377.76" cy="421.54" r="1.30" fill="#2f9e44"/>
<circle cx="371.45" cy="425.03" r="1.30" fill="#2f9e44"/>
<line x1="374.60" y1="396.12" x2="374.60" y2="425.27" stroke="#2f9e44" stroke-width="0.9"/>
<line x1="372.20" y1="396.12" x2="377.00" y2="396.12" stroke="#2f9e44" stroke-width="0.9"/>
<line x1="372.20" y1="425.27" x2="377.00" y2="425.27" stroke="#2f9e44" stroke-width="0.9"/>
<rect x="384.00" y="438.38" width="8.20" height="2.92" fill="#f39a92"/>
<rect x="387.06" y="434.53" width="2.46" height="2.46" fill="#c8102e"/>
<rect x="383.78" y="435.62" width="2.46" height="2.46" fill="#c8102e"/>
<rect x="389.77" y="437.58" width="2.46" height="2.46" fill="#c8102e"/>
<rect x="387.11" y="437.66" width="2.46" height="2.46" fill="#c8102e"/>
<rect x="384.32" y="438.87" width="2.46" height="2.46" fill="#c8102e"/>
<rect x="388.14" y="438.87" width="2.46" height="2.46" fill="#c8102e"/>
<rect x="387.14" y="438.87" width="2.46" height="2.46" fill="#c8102e"/>
<line x1="388.10" y1="436.20" x2="388.10" y2="440.57" stroke="#c8102e" stroke-width="0.9"/>
<line x1="385.70" y1="436.20" x2="390.50" y2="436.20" stroke="#c8102e" stroke-width="0.9"/>
<line x1="385.70" y1="440.57" x2="390.50" y2="440.57" stroke="#c8102e" stroke-width="0.9"/>
<rect x="397.50" y="418.71" width="8.20" height="22.59" fill="#95a2cc"/>
<polygon points="401.39,401.52 402.84,404.13 399.94,404.13" fill="#1f4b8e"/>
<polygon points="404.99,403.34 406.44,405.95 403.54,405.95" fill="#1f4b8e"/>
<polygon points="398.69,408.30 400.14,410.91 397.24,410.91" fill="#1f4b8e"/>
<polygon points="404.61,411.47 406.06,414.08 403.16,414.08" fill="#1f4b8e"/>
<polygon points="399.27,415.34 400.72,417.95 397.82,417.95" fill="#1f4b8e"/>
<polygon points="404.82,420.27 406.27,422.88 403.37,422.88" fill="#1f4b8e"/>
<polygon points="398.95,420.88 400.40,423.49 397.50,423.49" fill="#1f4b8e"/>
<line x1="401.60" y1="405.59" x2="401.60" y2="431.83" stroke="#1f4b8e" stroke-width="0.9"/>
<line x1="399.20" y1="405.59" x2="404.00" y2="405.59" stroke="#1f4b8e" stroke-width="0.9"/>
<line x1="399.20" y1="431.83" x2="404.00" y2="431.83" stroke="#1f4b8e" stroke-width="0.9"/>
<rect x="411.00" y="423.08" width="8.20" height="18.22" fill="#9dd0f2"/>
<polygon points="414.93,417.92 416.38,415.31 413.48,415.31" fill="#3b9fdc"/>
<polygon points="411.88,419.69 413.33,417.08 410.43,417.08" fill="#3b9fdc"/>
<polygon points="417.79,421.92 419.24,419.31 416.34,419.31" fill="#3b9fdc"/>
<polygon points="412.32,425.45 413.77,422.84 410.87,422.84" fill="#3b9fdc"/>
<polygon points="417.96,432.84 419.41,430.23 416.51,430.23" fill="#3b9fdc"/>
<line x1="415.10" y1="415.79" x2="415.10" y2="430.37" stroke="#3b9fdc" stroke-width="0.9"/>
<line x1="412.70" y1="415.79" x2="417.50" y2="415.79" stroke="#3b9fdc" stroke-width="0.9"/>
<line x1="412.70" y1="430.37" x2="417.50" y2="430.37" stroke="#3b9fdc" stroke-width="0.9"/>
<polyline points="374.60,386.00 374.60,381.30 387.30,381.30 387.30,431.00" fill="none" stroke="#333" stroke-width="0.8"/>
<path d="M378.45 377.35L378.45 379.25M377.63 377.82L379.27 378.78M379.27 377.82L377.63 378.78" stroke="#2a2a2a" stroke-width="0.9" stroke-linecap="round"/>
<path d="M380.95 377.35L380.95 379.25M380.13 377.82L381.77 378.78M381.77 377.82L380.13 378.78" stroke="#2a2a2a" stroke-width="0.9" stroke-linecap="round"/>
<path d="M383.45 377.35L383.45 379.25M382.63 377.82L384.27 378.78M384.27 377.82L382.63 378.78" stroke="#2a2a2a" stroke-width="0.9" stroke-linecap="round"/>
<polyline points="388.90,431.00 388.90,381.30 401.60,381.30 401.60,392.00" fill="none" stroke="#333" stroke-width="0.8"/>
<path d="M394.00 377.35L394.00 379.25M393.18 377.82L394.82 378.78M394.82 377.82L393.18 378.78" stroke="#2a2a2a" stroke-width="0.9" stroke-linecap="round"/>
<path d="M396.50 377.35L396.50 379.25M395.68 377.82L397.32 378.78M397.32 377.82L395.68 378.78" stroke="#2a2a2a" stroke-width="0.9" stroke-linecap="round"/>
<line x1="54.30" y1="485.30" x2="54.30" y2="546.30" stroke="#231f20" stroke-width="1.0"/>
<line x1="51.50" y1="546.30" x2="54.30" y2="546.30" stroke="#231f20" stroke-width="0.8"/>
<text x="48.90" y="548.89" font-size="7.2" text-anchor="end" font-weight="normal" font-style="normal" fill="#231f20">0</text>
<line x1="51.50" y1="534.60" x2="54.30" y2="534.60" stroke="#231f20" stroke-width="0.8"/>
<text x="48.90" y="537.19" font-size="7.2" text-anchor="end" font-weight="normal" font-style="normal" fill="#231f20">2</text>
<line x1="51.50" y1="522.90" x2="54.30" y2="522.90" stroke="#231f20" stroke-width="0.8"/>
<text x="48.90" y="525.49" font-size="7.2" text-anchor="end" font-weight="normal" font-style="normal" fill="#231f20">4</text>
<line x1="51.50" y1="511.20" x2="54.30" y2="511.20" stroke="#231f20" stroke-width="0.8"/>
<text x="48.90" y="513.79" font-size="7.2" text-anchor="end" font-weight="normal" font-style="normal" fill="#231f20">6</text>
<line x1="51.50" y1="499.50" x2="54.30" y2="499.50" stroke="#231f20" stroke-width="0.8"/>
<text x="48.90" y="502.09" font-size="7.2" text-anchor="end" font-weight="normal" font-style="normal" fill="#231f20">8</text>
<line x1="51.50" y1="487.80" x2="54.30" y2="487.80" stroke="#231f20" stroke-width="0.8"/>
<text x="48.90" y="490.39" font-size="7.2" text-anchor="end" font-weight="normal" font-style="normal" fill="#231f20">10</text>
<line x1="54.30" y1="546.30" x2="112.30" y2="546.30" stroke="#231f20" stroke-width="1.0"/>
<rect x="59.00" y="536.94" width="8.20" height="9.36" fill="#b0d99c"/>
<circle cx="63.39" cy="533.16" r="1.30" fill="#2f9e44"/>
<circle cx="60.24" cy="533.85" r="1.30" fill="#2f9e44"/>
<circle cx="65.90" cy="536.88" r="1.30" fill="#2f9e44"/>
<circle cx="60.58" cy="539.01" r="1.30" fill="#2f9e44"/>
<circle cx="65.83" cy="542.35" r="1.30" fill="#2f9e44"/>
<circle cx="60.27" cy="542.56" r="1.30" fill="#2f9e44"/>
<line x1="63.10" y1="532.26" x2="63.10" y2="541.62" stroke="#2f9e44" stroke-width="0.9"/>
<line x1="60.70" y1="532.26" x2="65.50" y2="532.26" stroke="#2f9e44" stroke-width="0.9"/>
<line x1="60.70" y1="541.62" x2="65.50" y2="541.62" stroke="#2f9e44" stroke-width="0.9"/>
<rect x="72.50" y="528.75" width="8.20" height="17.55" fill="#f39a92"/>
<rect x="75.54" y="522.14" width="2.46" height="2.46" fill="#c8102e"/>
<rect x="72.93" y="527.20" width="2.46" height="2.46" fill="#c8102e"/>
<rect x="78.52" y="529.48" width="2.46" height="2.46" fill="#c8102e"/>
<rect x="75.12" y="529.74" width="2.46" height="2.46" fill="#c8102e"/>
<rect x="72.72" y="535.72" width="2.46" height="2.46" fill="#c8102e"/>
<rect x="78.12" y="542.96" width="2.46" height="2.46" fill="#c8102e"/>
<rect x="72.31" y="542.96" width="2.46" height="2.46" fill="#c8102e"/>
<line x1="76.60" y1="515.88" x2="76.60" y2="541.62" stroke="#c8102e" stroke-width="0.9"/>
<line x1="74.20" y1="515.88" x2="79.00" y2="515.88" stroke="#c8102e" stroke-width="0.9"/>
<line x1="74.20" y1="541.62" x2="79.00" y2="541.62" stroke="#c8102e" stroke-width="0.9"/>
<rect x="86.00" y="533.43" width="8.20" height="12.87" fill="#95a2cc"/>
<polygon points="90.19,530.06 91.64,532.67 88.74,532.67" fill="#1f4b8e"/>
<polygon points="86.78,531.22 88.23,533.83 85.33,533.83" fill="#1f4b8e"/>
<polygon points="93.38,531.76 94.83,534.37 91.93,534.37" fill="#1f4b8e"/>
<polygon points="88.63,531.85 90.08,534.46 87.18,534.46" fill="#1f4b8e"/>
<polygon points="91.55,532.90 93.00,535.51 90.10,535.51" fill="#1f4b8e"/>
<polygon points="87.45,534.48 88.90,537.09 86.00,537.09" fill="#1f4b8e"/>
<polygon points="92.55,538.30 94.00,540.91 91.10,540.91" fill="#1f4b8e"/>
<line x1="90.10" y1="528.16" x2="90.10" y2="538.69" stroke="#1f4b8e" stroke-width="0.9"/>
<line x1="87.70" y1="528.16" x2="92.50" y2="528.16" stroke="#1f4b8e" stroke-width="0.9"/>
<line x1="87.70" y1="538.69" x2="92.50" y2="538.69" stroke="#1f4b8e" stroke-width="0.9"/>
<rect x="99.50" y="510.03" width="8.20" height="36.27" fill="#9dd0f2"/>
<polygon points="103.83,494.63 105.28,492.02 102.38,492.02" fill="#3b9fdc"/>
<polygon points="100.74,499.07 102.19,496.46 99.29,496.46" fill="#3b9fdc"/>
<polygon points="106.90,501.86 108.35,499.25 105.45,499.25" fill="#3b9fdc"/>
<polygon points="101.18,512.87 102.63,510.26 99.73,510.26" fill="#3b9fdc"/>
<polygon points="106.89,518.26 108.34,515.65 105.44,515.65" fill="#3b9fdc"/>
<line x1="103.60" y1="495.99" x2="103.60" y2="524.07" stroke="#3b9fdc" stroke-width="0.9"/>
<line x1="101.20" y1="495.99" x2="106.00" y2="495.99" stroke="#3b9fdc" stroke-width="0.9"/>
<line x1="101.20" y1="524.07" x2="106.00" y2="524.07" stroke="#3b9fdc" stroke-width="0.9"/>
<polyline points="63.10,525.00 63.10,470.50 103.60,470.50 103.60,476.00" fill="none" stroke="#333" stroke-width="0.8"/>
<path d="M80.85 466.55L80.85 468.45M80.03 467.02L81.67 467.98M81.67 467.02L80.03 467.98" stroke="#2a2a2a" stroke-width="0.9" stroke-linecap="round"/>
<path d="M83.35 466.55L83.35 468.45M82.53 467.02L84.17 467.98M84.17 467.02L82.53 467.98" stroke="#2a2a2a" stroke-width="0.9" stroke-linecap="round"/>
<path d="M85.85 466.55L85.85 468.45M85.03 467.02L86.67 467.98M86.67 467.02L85.03 467.98" stroke="#2a2a2a" stroke-width="0.9" stroke-linecap="round"/>
<polyline points="76.60,513.00 76.60,478.80 103.60,478.80 103.60,482.00" fill="none" stroke="#333" stroke-width="0.8"/>
<path d="M88.85 474.85L88.85 476.75M88.03 475.32L89.67 476.28M89.67 475.32L88.03 476.28" stroke="#2a2a2a" stroke-width="0.9" stroke-linecap="round"/>
<path d="M91.35 474.85L91.35 476.75M90.53 475.32L92.17 476.28M92.17 475.32L90.53 476.28" stroke="#2a2a2a" stroke-width="0.9" stroke-linecap="round"/>
<polyline points="90.10,524.00 90.10,486.30 103.60,486.30 103.60,490.00" fill="none" stroke="#333" stroke-width="0.8"/>
<path d="M94.35 482.35L94.35 484.25M93.53 482.82L95.17 483.78M95.17 482.82L93.53 483.78" stroke="#2a2a2a" stroke-width="0.9" stroke-linecap="round"/>
<path d="M96.85 482.35L96.85 484.25M96.03 482.82L97.67 483.78M97.67 482.82L96.03 483.78" stroke="#2a2a2a" stroke-width="0.9" stroke-linecap="round"/>
<path d="M99.35 482.35L99.35 484.25M98.53 482.82L100.17 483.78M100.17 482.82L98.53 483.78" stroke="#2a2a2a" stroke-width="0.9" stroke-linecap="round"/>
<line x1="159.20" y1="503.50" x2="159.20" y2="546.30" stroke="#231f20" stroke-width="1.0"/>
<line x1="156.40" y1="546.30" x2="159.20" y2="546.30" stroke="#231f20" stroke-width="0.8"/>
<text x="153.80" y="548.89" font-size="7.2" text-anchor="end" font-weight="normal" font-style="normal" fill="#231f20">0.0</text>
<line x1="156.40" y1="535.85" x2="159.20" y2="535.85" stroke="#231f20" stroke-width="0.8"/>
<text x="153.80" y="538.44" font-size="7.2" text-anchor="end" font-weight="normal" font-style="normal" fill="#231f20">0.2</text>
<line x1="156.40" y1="525.40" x2="159.20" y2="525.40" stroke="#231f20" stroke-width="0.8"/>
<text x="153.80" y="527.99" font-size="7.2" text-anchor="end" font-weight="normal" font-style="normal" fill="#231f20">0.4</text>
<line x1="156.40" y1="514.95" x2="159.20" y2="514.95" stroke="#231f20" stroke-width="0.8"/>
<text x="153.80" y="517.54" font-size="7.2" text-anchor="end" font-weight="normal" font-style="normal" fill="#231f20">0.6</text>
<line x1="156.40" y1="504.50" x2="159.20" y2="504.50" stroke="#231f20" stroke-width="0.8"/>
<text x="153.80" y="507.09" font-size="7.2" text-anchor="end" font-weight="normal" font-style="normal" fill="#231f20">0.8</text>
<line x1="157.40" y1="503.50" x2="161.60" y2="503.50" stroke="#231f20" stroke-width="0.9"/>
<line x1="159.20" y1="485.50" x2="159.20" y2="498.20" stroke="#231f20" stroke-width="1.0"/>
<line x1="158.70" y1="498.20" x2="161.60" y2="498.20" stroke="#231f20" stroke-width="0.9"/>
<line x1="156.40" y1="487.50" x2="159.20" y2="487.50" stroke="#231f20" stroke-width="0.8"/>
<text x="153.80" y="490.10" font-size="7.2" text-anchor="end" font-weight="normal" font-style="normal" fill="#231f20">10</text>
<line x1="156.40" y1="498.00" x2="159.20" y2="498.00" stroke="#231f20" stroke-width="0.8"/>
<text x="153.80" y="500.60" font-size="7.2" text-anchor="end" font-weight="normal" font-style="normal" fill="#231f20">8</text>
<line x1="159.20" y1="546.30" x2="217.20" y2="546.30" stroke="#231f20" stroke-width="1.0"/>
<rect x="163.90" y="541.07" width="8.20" height="5.23" fill="#b0d99c"/>
<circle cx="168.10" cy="539.82" r="1.30" fill="#2f9e44"/>
<circle cx="164.75" cy="539.96" r="1.30" fill="#2f9e44"/>
<circle cx="171.00" cy="540.95" r="1.30" fill="#2f9e44"/>
<circle cx="166.72" cy="541.91" r="1.30" fill="#2f9e44"/>
<circle cx="169.58" cy="542.33" r="1.30" fill="#2f9e44"/>
<circle cx="165.01" cy="542.33" r="1.30" fill="#2f9e44"/>
<line x1="168.00" y1="540.03" x2="168.00" y2="542.12" stroke="#2f9e44" stroke-width="0.9"/>
<line x1="165.60" y1="540.03" x2="170.40" y2="540.03" stroke="#2f9e44" stroke-width="0.9"/>
<line x1="165.60" y1="542.12" x2="170.40" y2="542.12" stroke="#2f9e44" stroke-width="0.9"/>
<rect x="177.40" y="545.78" width="8.20" height="0.52" fill="#f39a92"/>
<rect x="180.10" y="543.87" width="2.46" height="2.46" fill="#c8102e"/>
<rect x="183.62" y="543.87" width="2.46" height="2.46" fill="#c8102e"/>
<rect x="177.38" y="543.87" width="2.46" height="2.46" fill="#c8102e"/>
<rect x="181.67" y="543.87" width="2.46" height="2.46" fill="#c8102e"/>
<rect x="179.25" y="543.87" width="2.46" height="2.46" fill="#c8102e"/>
<rect x="182.73" y="543.87" width="2.46" height="2.46" fill="#c8102e"/>
<rect x="180.01" y="543.87" width="2.46" height="2.46" fill="#c8102e"/>
<rect x="190.90" y="536.89" width="8.20" height="9.40" fill="#95a2cc"/>
<polygon points="194.71,520.40 196.16,523.01 193.26,523.01" fill="#1f4b8e"/>
<polygon points="198.05,527.24 199.50,529.85 196.60,529.85" fill="#1f4b8e"/>
<polygon points="192.12,529.69 193.57,532.30 190.67,532.30" fill="#1f4b8e"/>
<polygon points="196.46,530.34 197.91,532.95 195.01,532.95" fill="#1f4b8e"/>
<polygon points="192.31,533.93 193.76,536.54 190.86,536.54" fill="#1f4b8e"/>
<polygon points="197.41,543.65 198.86,546.26 195.96,546.26" fill="#1f4b8e"/>
<polygon points="191.66,543.65 193.11,546.26 190.21,546.26" fill="#1f4b8e"/>
<line x1="195.00" y1="524.36" x2="195.00" y2="546.30" stroke="#1f4b8e" stroke-width="0.9"/>
<line x1="192.60" y1="524.36" x2="197.40" y2="524.36" stroke="#1f4b8e" stroke-width="0.9"/>
<rect x="204.40" y="542.12" width="8.20" height="4.18" fill="#9dd0f2"/>
<polygon points="208.23,538.93 209.68,536.32 206.78,536.32" fill="#3b9fdc"/>
<polygon points="211.74,540.63 213.19,538.02 210.29,538.02" fill="#3b9fdc"/>
<polygon points="205.76,545.48 207.21,542.87 204.31,542.87" fill="#3b9fdc"/>
<polygon points="211.12,545.85 212.57,543.24 209.67,543.24" fill="#3b9fdc"/>
<polygon points="208.45,546.55 209.90,543.94 207.00,543.94" fill="#3b9fdc"/>
<line x1="208.50" y1="534.28" x2="208.50" y2="546.30" stroke="#3b9fdc" stroke-width="0.9"/>
<line x1="206.10" y1="534.28" x2="210.90" y2="534.28" stroke="#3b9fdc" stroke-width="0.9"/>
<line x1="263.20" y1="485.30" x2="263.20" y2="546.30" stroke="#231f20" stroke-width="1.0"/>
<line x1="260.40" y1="546.30" x2="263.20" y2="546.30" stroke="#231f20" stroke-width="0.8"/>
<text x="257.80" y="548.89" font-size="7.2" text-anchor="end" font-weight="normal" font-style="normal" fill="#231f20">0</text>
<line x1="260.40" y1="534.60" x2="263.20" y2="534.60" stroke="#231f20" stroke-width="0.8"/>
<text x="257.80" y="537.19" font-size="7.2" text-anchor="end" font-weight="normal" font-style="normal" fill="#231f20">2</text>
<line x1="260.40" y1="522.90" x2="263.20" y2="522.90" stroke="#231f20" stroke-width="0.8"/>
<text x="257.80" y="525.49" font-size="7.2" text-anchor="end" font-weight="normal" font-style="normal" fill="#231f20">4</text>
<line x1="260.40" y1="511.20" x2="263.20" y2="511.20" stroke="#231f20" stroke-width="0.8"/>
<text x="257.80" y="513.79" font-size="7.2" text-anchor="end" font-weight="normal" font-style="normal" fill="#231f20">6</text>
<line x1="260.40" y1="499.50" x2="263.20" y2="499.50" stroke="#231f20" stroke-width="0.8"/>
<text x="257.80" y="502.09" font-size="7.2" text-anchor="end" font-weight="normal" font-style="normal" fill="#231f20">8</text>
<line x1="260.40" y1="487.80" x2="263.20" y2="487.80" stroke="#231f20" stroke-width="0.8"/>
<text x="257.80" y="490.39" font-size="7.2" text-anchor="end" font-weight="normal" font-style="normal" fill="#231f20">10</text>
<line x1="263.20" y1="546.30" x2="321.20" y2="546.30" stroke="#231f20" stroke-width="1.0"/>
<rect x="267.90" y="538.69" width="8.20" height="7.61" fill="#b0d99c"/>
<circle cx="272.06" cy="535.43" r="1.30" fill="#2f9e44"/>
<circle cx="268.70" cy="538.61" r="1.30" fill="#2f9e44"/>
<circle cx="275.15" cy="538.80" r="1.30" fill="#2f9e44"/>
<circle cx="271.82" cy="538.93" r="1.30" fill="#2f9e44"/>
<circle cx="269.21" cy="541.82" r="1.30" fill="#2f9e44"/>
<circle cx="274.53" cy="542.91" r="1.30" fill="#2f9e44"/>
<line x1="272.00" y1="535.18" x2="272.00" y2="542.20" stroke="#2f9e44" stroke-width="0.9"/>
<line x1="269.60" y1="535.18" x2="274.40" y2="535.18" stroke="#2f9e44" stroke-width="0.9"/>
<line x1="269.60" y1="542.20" x2="274.40" y2="542.20" stroke="#2f9e44" stroke-width="0.9"/>
<rect x="281.40" y="529.92" width="8.20" height="16.38" fill="#f39a92"/>
<rect x="284.41" y="516.05" width="2.46" height="2.46" fill="#c8102e"/>
<rect x="281.27" y="516.05" width="2.46" height="2.46" fill="#c8102e"/>
<rect x="287.55" y="518.85" width="2.46" height="2.46" fill="#c8102e"/>
<rect x="281.35" y="525.69" width="2.46" height="2.46" fill="#c8102e"/>
<rect x="287.12" y="531.51" width="2.46" height="2.46" fill="#c8102e"/>
<rect x="280.92" y="531.69" width="2.46" height="2.46" fill="#c8102e"/>
<rect x="284.20" y="539.46" width="2.46" height="2.46" fill="#c8102e"/>
<line x1="285.50" y1="519.39" x2="285.50" y2="540.45" stroke="#c8102e" stroke-width="0.9"/>
<line x1="283.10" y1="519.39" x2="287.90" y2="519.39" stroke="#c8102e" stroke-width="0.9"/>
<line x1="283.10" y1="540.45" x2="287.90" y2="540.45" stroke="#c8102e" stroke-width="0.9"/>
<rect x="294.90" y="537.52" width="8.20" height="8.77" fill="#95a2cc"/>
<polygon points="299.01,533.88 300.46,536.49 297.56,536.49" fill="#1f4b8e"/>
<polygon points="296.11,533.93 297.56,536.54 294.66,536.54" fill="#1f4b8e"/>
<polygon points="302.00,534.99 303.45,537.60 300.55,537.60" fill="#1f4b8e"/>
<polygon points="297.39,535.07 298.84,537.68 295.94,537.68" fill="#1f4b8e"/>
<polygon points="299.27,536.26 300.72,538.87 297.82,538.87" fill="#1f4b8e"/>
<polygon points="296.64,536.80 298.09,539.41 295.19,539.41" fill="#1f4b8e"/>
<polygon points="301.88,537.56 303.33,540.17 300.43,540.17" fill="#1f4b8e"/>
<line x1="299.00" y1="534.60" x2="299.00" y2="540.45" stroke="#1f4b8e" stroke-width="0.9"/>
<line x1="296.60" y1="534.60" x2="301.40" y2="534.60" stroke="#1f4b8e" stroke-width="0.9"/>
<line x1="296.60" y1="540.45" x2="301.40" y2="540.45" stroke="#1f4b8e" stroke-width="0.9"/>
<rect x="308.40" y="513.54" width="8.20" height="32.76" fill="#9dd0f2"/>
<polygon points="312.76,506.76 314.21,504.15 311.31,504.15" fill="#3b9fdc"/>
<polygon points="309.20,509.64 310.65,507.03 307.75,507.03" fill="#3b9fdc"/>
<polygon points="315.52,516.61 316.97,514.00 314.07,514.00" fill="#3b9fdc"/>
<polygon points="309.27,519.53 310.72,516.92 307.82,516.92" fill="#3b9fdc"/>
<polygon points="315.74,525.00 317.19,522.39 314.29,522.39" fill="#3b9fdc"/>
<line x1="312.50" y1="503.01" x2="312.50" y2="524.07" stroke="#3b9fdc" stroke-width="0.9"/>
<line x1="310.10" y1="503.01" x2="314.90" y2="503.01" stroke="#3b9fdc" stroke-width="0.9"/>
<line x1="310.10" y1="524.07" x2="314.90" y2="524.07" stroke="#3b9fdc" stroke-width="0.9"/>
<polyline points="272.00,530.00 272.00,477.00 312.50,477.00 312.50,482.00" fill="none" stroke="#333" stroke-width="0.8"/>
<path d="M289.75 473.05L289.75 474.95M288.93 473.52L290.57 474.48M290.57 473.52L288.93 474.48" stroke="#2a2a2a" stroke-width="0.9" stroke-linecap="round"/>
<path d="M292.25 473.05L292.25 474.95M291.43 473.52L293.07 474.48M293.07 473.52L291.43 474.48" stroke="#2a2a2a" stroke-width="0.9" stroke-linecap="round"/>
<path d="M294.75 473.05L294.75 474.95M293.93 473.52L295.57 474.48M295.57 473.52L293.93 474.48" stroke="#2a2a2a" stroke-width="0.9" stroke-linecap="round"/>
<polyline points="285.50,512.00 285.50,485.80 312.50,485.80 312.50,490.00" fill="none" stroke="#333" stroke-width="0.8"/>
<path d="M297.75 481.85L297.75 483.75M296.93 482.32L298.57 483.28M298.57 482.32L296.93 483.28" stroke="#2a2a2a" stroke-width="0.9" stroke-linecap="round"/>
<path d="M300.25 481.85L300.25 483.75M299.43 482.32L301.07 483.28M301.07 482.32L299.43 483.28" stroke="#2a2a2a" stroke-width="0.9" stroke-linecap="round"/>
<polyline points="299.00,530.00 299.00,493.00 312.50,493.00 312.50,497.00" fill="none" stroke="#333" stroke-width="0.8"/>
<path d="M303.25 489.05L303.25 490.95M302.43 489.52L304.07 490.48M304.07 489.52L302.43 490.48" stroke="#2a2a2a" stroke-width="0.9" stroke-linecap="round"/>
<path d="M305.75 489.05L305.75 490.95M304.93 489.52L306.57 490.48M306.57 489.52L304.93 490.48" stroke="#2a2a2a" stroke-width="0.9" stroke-linecap="round"/>
<path d="M308.25 489.05L308.25 490.95M307.43 489.52L309.07 490.48M309.07 489.52L307.43 490.48" stroke="#2a2a2a" stroke-width="0.9" stroke-linecap="round"/>
<line x1="365.80" y1="503.50" x2="365.80" y2="546.30" stroke="#231f20" stroke-width="1.0"/>
<line x1="363.00" y1="546.30" x2="365.80" y2="546.30" stroke="#231f20" stroke-width="0.8"/>
<text x="360.40" y="548.89" font-size="7.2" text-anchor="end" font-weight="normal" font-style="normal" fill="#231f20">0.0</text>
<line x1="363.00" y1="532.37" x2="365.80" y2="532.37" stroke="#231f20" stroke-width="0.8"/>
<text x="360.40" y="534.96" font-size="7.2" text-anchor="end" font-weight="normal" font-style="normal" fill="#231f20">0.2</text>
<line x1="363.00" y1="518.43" x2="365.80" y2="518.43" stroke="#231f20" stroke-width="0.8"/>
<text x="360.40" y="521.03" font-size="7.2" text-anchor="end" font-weight="normal" font-style="normal" fill="#231f20">0.4</text>
<line x1="363.00" y1="504.50" x2="365.80" y2="504.50" stroke="#231f20" stroke-width="0.8"/>
<text x="360.40" y="507.09" font-size="7.2" text-anchor="end" font-weight="normal" font-style="normal" fill="#231f20">0.6</text>
<line x1="364.00" y1="503.50" x2="368.20" y2="503.50" stroke="#231f20" stroke-width="0.9"/>
<line x1="365.80" y1="485.50" x2="365.80" y2="498.20" stroke="#231f20" stroke-width="1.0"/>
<line x1="365.30" y1="498.20" x2="368.20" y2="498.20" stroke="#231f20" stroke-width="0.9"/>
<line x1="363.00" y1="487.50" x2="365.80" y2="487.50" stroke="#231f20" stroke-width="0.8"/>
<text x="360.40" y="490.10" font-size="7.2" text-anchor="end" font-weight="normal" font-style="normal" fill="#231f20">10</text>
<line x1="363.00" y1="498.00" x2="365.80" y2="498.00" stroke="#231f20" stroke-width="0.8"/>
<text x="360.40" y="500.60" font-size="7.2" text-anchor="end" font-weight="normal" font-style="normal" fill="#231f20">8</text>
<line x1="365.80" y1="546.30" x2="423.80" y2="546.30" stroke="#231f20" stroke-width="1.0"/>
<rect x="370.50" y="527.49" width="8.20" height="18.81" fill="#b0d99c"/>
<circle cx="374.76" cy="523.62" r="1.30" fill="#2f9e44"/>
<circle cx="371.28" cy="525.46" r="1.30" fill="#2f9e44"/>
<circle cx="377.27" cy="527.67" r="1.30" fill="#2f9e44"/>
<circle cx="372.14" cy="537.04" r="1.30" fill="#2f9e44"/>
<circle cx="377.63" cy="537.08" r="1.30" fill="#2f9e44"/>
<circle cx="374.52" cy="537.15" r="1.30" fill="#2f9e44"/>
<line x1="374.60" y1="519.13" x2="374.60" y2="535.85" stroke="#2f9e44" stroke-width="0.9"/>
<line x1="372.20" y1="519.13" x2="377.00" y2="519.13" stroke="#2f9e44" stroke-width="0.9"/>
<line x1="372.20" y1="535.85" x2="377.00" y2="535.85" stroke="#2f9e44" stroke-width="0.9"/>
<rect x="384.00" y="543.51" width="8.20" height="2.79" fill="#f39a92"/>
<rect x="386.76" y="541.44" width="2.46" height="2.46" fill="#c8102e"/>
<rect x="383.69" y="541.91" width="2.46" height="2.46" fill="#c8102e"/>
<rect x="389.98" y="542.11" width="2.46" height="2.46" fill="#c8102e"/>
<rect x="385.34" y="542.56" width="2.46" height="2.46" fill="#c8102e"/>
<rect x="388.08" y="542.61" width="2.46" height="2.46" fill="#c8102e"/>
<rect x="386.77" y="542.64" width="2.46" height="2.46" fill="#c8102e"/>
<rect x="384.00" y="542.75" width="2.46" height="2.46" fill="#c8102e"/>
<line x1="388.10" y1="542.82" x2="388.10" y2="544.21" stroke="#c8102e" stroke-width="0.9"/>
<line x1="385.70" y1="542.82" x2="390.50" y2="542.82" stroke="#c8102e" stroke-width="0.9"/>
<line x1="385.70" y1="544.21" x2="390.50" y2="544.21" stroke="#c8102e" stroke-width="0.9"/>
<rect x="397.50" y="530.28" width="8.20" height="16.02" fill="#95a2cc"/>
<polygon points="401.61,516.29 403.06,518.90 400.16,518.90" fill="#1f4b8e"/>
<polygon points="398.36,516.76 399.81,519.37 396.91,519.37" fill="#1f4b8e"/>
<polygon points="404.42,535.27 405.87,537.88 402.97,537.88" fill="#1f4b8e"/>
<polygon points="398.76,539.06 400.21,541.67 397.31,541.67" fill="#1f4b8e"/>
<polygon points="404.31,540.34 405.76,542.95 402.86,542.95" fill="#1f4b8e"/>
<polygon points="401.69,541.37 403.14,543.98 400.24,543.98" fill="#1f4b8e"/>
<polygon points="398.94,541.37 400.39,543.98 397.49,543.98" fill="#1f4b8e"/>
<line x1="401.60" y1="519.83" x2="401.60" y2="540.73" stroke="#1f4b8e" stroke-width="0.9"/>
<line x1="399.20" y1="519.83" x2="404.00" y2="519.83" stroke="#1f4b8e" stroke-width="0.9"/>
<line x1="399.20" y1="540.73" x2="404.00" y2="540.73" stroke="#1f4b8e" stroke-width="0.9"/>
<rect x="411.00" y="533.76" width="8.20" height="12.54" fill="#9dd0f2"/>
<polygon points="415.23,522.89 416.68,520.28 413.78,520.28" fill="#3b9fdc"/>
<polygon points="411.79,537.81 413.24,535.20 410.34,535.20" fill="#3b9fdc"/>
<polygon points="418.10,540.83 419.55,538.22 416.65,538.22" fill="#3b9fdc"/>
<polygon points="412.41,542.65 413.86,540.04 410.96,540.04" fill="#3b9fdc"/>
<polygon points="416.12,544.19 417.57,541.58 414.67,541.58" fill="#3b9fdc"/>
<line x1="415.10" y1="520.52" x2="415.10" y2="546.30" stroke="#3b9fdc" stroke-width="0.9"/>
<line x1="412.70" y1="520.52" x2="417.50" y2="520.52" stroke="#3b9fdc" stroke-width="0.9"/>
<polyline points="374.60,515.00 374.60,505.00 387.30,505.00 387.30,542.00" fill="none" stroke="#333" stroke-width="0.8"/>
<path d="M379.70 501.05L379.70 502.95M378.88 501.52L380.52 502.48M380.52 501.52L378.88 502.48" stroke="#2a2a2a" stroke-width="0.9" stroke-linecap="round"/>
<path d="M382.20 501.05L382.20 502.95M381.38 501.52L383.02 502.48M383.02 501.52L381.38 502.48" stroke="#2a2a2a" stroke-width="0.9" stroke-linecap="round"/>
<polyline points="388.90,542.00 388.90,505.00 401.60,505.00 401.60,510.00" fill="none" stroke="#333" stroke-width="0.8"/>
<path d="M395.25 501.05L395.25 502.95M394.43 501.52L396.07 502.48M396.07 501.52L394.43 502.48" stroke="#2a2a2a" stroke-width="0.9" stroke-linecap="round"/>
<line x1="54.30" y1="567.00" x2="54.30" y2="628.30" stroke="#231f20" stroke-width="1.0"/>
<line x1="51.50" y1="628.30" x2="54.30" y2="628.30" stroke="#231f20" stroke-width="0.8"/>
<text x="48.90" y="630.89" font-size="7.2" text-anchor="end" font-weight="normal" font-style="normal" fill="#231f20">0</text>
<line x1="51.50" y1="608.70" x2="54.30" y2="608.70" stroke="#231f20" stroke-width="0.8"/>
<text x="48.90" y="611.29" font-size="7.2" text-anchor="end" font-weight="normal" font-style="normal" fill="#231f20">1</text>
<line x1="51.50" y1="589.10" x2="54.30" y2="589.10" stroke="#231f20" stroke-width="0.8"/>
<text x="48.90" y="591.69" font-size="7.2" text-anchor="end" font-weight="normal" font-style="normal" fill="#231f20">2</text>
<line x1="51.50" y1="569.50" x2="54.30" y2="569.50" stroke="#231f20" stroke-width="0.8"/>
<text x="48.90" y="572.09" font-size="7.2" text-anchor="end" font-weight="normal" font-style="normal" fill="#231f20">3</text>
<line x1="54.30" y1="628.30" x2="112.30" y2="628.30" stroke="#231f20" stroke-width="1.0"/>
<rect x="59.00" y="607.72" width="8.20" height="20.58" fill="#b0d99c"/>
<circle cx="62.88" cy="601.11" r="1.30" fill="#2f9e44"/>
<circle cx="65.95" cy="602.35" r="1.30" fill="#2f9e44"/>
<circle cx="60.64" cy="607.05" r="1.30" fill="#2f9e44"/>
<circle cx="66.41" cy="608.49" r="1.30" fill="#2f9e44"/>
<circle cx="60.59" cy="614.96" r="1.30" fill="#2f9e44"/>
<circle cx="66.11" cy="615.39" r="1.30" fill="#2f9e44"/>
<line x1="63.10" y1="598.90" x2="63.10" y2="616.54" stroke="#2f9e44" stroke-width="0.9"/>
<line x1="60.70" y1="598.90" x2="65.50" y2="598.90" stroke="#2f9e44" stroke-width="0.9"/>
<line x1="60.70" y1="616.54" x2="65.50" y2="616.54" stroke="#2f9e44" stroke-width="0.9"/>
<rect x="72.50" y="621.44" width="8.20" height="6.86" fill="#f39a92"/>
<rect x="75.58" y="617.40" width="2.46" height="2.46" fill="#c8102e"/>
<rect x="72.52" y="618.58" width="2.46" height="2.46" fill="#c8102e"/>
<rect x="78.78" y="619.95" width="2.46" height="2.46" fill="#c8102e"/>
<rect x="75.62" y="620.29" width="2.46" height="2.46" fill="#c8102e"/>
<rect x="72.71" y="620.74" width="2.46" height="2.46" fill="#c8102e"/>
<rect x="78.01" y="620.79" width="2.46" height="2.46" fill="#c8102e"/>
<rect x="75.22" y="624.91" width="2.46" height="2.46" fill="#c8102e"/>
<line x1="76.60" y1="617.52" x2="76.60" y2="625.36" stroke="#c8102e" stroke-width="0.9"/>
<line x1="74.20" y1="617.52" x2="79.00" y2="617.52" stroke="#c8102e" stroke-width="0.9"/>
<line x1="74.20" y1="625.36" x2="79.00" y2="625.36" stroke="#c8102e" stroke-width="0.9"/>
<rect x="86.00" y="597.92" width="8.20" height="30.38" fill="#95a2cc"/>
<polygon points="90.02,580.63 91.47,583.24 88.57,583.24" fill="#1f4b8e"/>
<polygon points="87.23,582.44 88.68,585.05 85.78,585.05" fill="#1f4b8e"/>
<polygon points="93.30,584.25 94.75,586.86 91.85,586.86" fill="#1f4b8e"/>
<polygon points="87.50,591.93 88.95,594.54 86.05,594.54" fill="#1f4b8e"/>
<polygon points="93.01,595.22 94.46,597.83 91.56,597.83" fill="#1f4b8e"/>
<polygon points="87.70,606.98 89.15,609.59 86.25,609.59" fill="#1f4b8e"/>
<polygon points="93.17,607.46 94.62,610.07 91.72,610.07" fill="#1f4b8e"/>
<line x1="90.10" y1="582.24" x2="90.10" y2="613.60" stroke="#1f4b8e" stroke-width="0.9"/>
<line x1="87.70" y1="582.24" x2="92.50" y2="582.24" stroke="#1f4b8e" stroke-width="0.9"/>
<line x1="87.70" y1="613.60" x2="92.50" y2="613.60" stroke="#1f4b8e" stroke-width="0.9"/>
<rect x="99.50" y="603.80" width="8.20" height="24.50" fill="#9dd0f2"/>
<polygon points="103.40,595.76 104.85,593.15 101.95,593.15" fill="#3b9fdc"/>
<polygon points="106.53,597.81 107.98,595.20 105.08,595.20" fill="#3b9fdc"/>
<polygon points="101.10,610.73 102.55,608.12 99.65,608.12" fill="#3b9fdc"/>
<polygon points="106.92,611.22 108.37,608.61 105.47,608.61" fill="#3b9fdc"/>
<polygon points="103.67,618.19 105.12,615.58 102.22,615.58" fill="#3b9fdc"/>
<line x1="103.60" y1="593.02" x2="103.60" y2="614.58" stroke="#3b9fdc" stroke-width="0.9"/>
<line x1="101.20" y1="593.02" x2="106.00" y2="593.02" stroke="#3b9fdc" stroke-width="0.9"/>
<line x1="101.20" y1="614.58" x2="106.00" y2="614.58" stroke="#3b9fdc" stroke-width="0.9"/>
<polyline points="76.60,612.00 76.60,562.00 103.60,562.00 103.60,580.00" fill="none" stroke="#333" stroke-width="0.8"/>
<path d="M90.10 558.05L90.10 559.95M89.28 558.52L90.92 559.48M90.92 558.52L89.28 559.48" stroke="#2a2a2a" stroke-width="0.9" stroke-linecap="round"/>
<polyline points="76.60,612.00 76.60,570.00 90.10,570.00 90.10,573.00" fill="none" stroke="#333" stroke-width="0.8"/>
<path d="M82.10 566.05L82.10 567.95M81.28 566.52L82.92 567.48M82.92 566.52L81.28 567.48" stroke="#2a2a2a" stroke-width="0.9" stroke-linecap="round"/>
<path d="M84.60 566.05L84.60 567.95M83.78 566.52L85.42 567.48M85.42 566.52L83.78 567.48" stroke="#2a2a2a" stroke-width="0.9" stroke-linecap="round"/>
<line x1="159.20" y1="567.50" x2="159.20" y2="628.30" stroke="#231f20" stroke-width="1.0"/>
<line x1="156.40" y1="628.30" x2="159.20" y2="628.30" stroke="#231f20" stroke-width="0.8"/>
<text x="153.80" y="630.89" font-size="7.2" text-anchor="end" font-weight="normal" font-style="normal" fill="#231f20">0</text>
<line x1="156.40" y1="616.64" x2="159.20" y2="616.64" stroke="#231f20" stroke-width="0.8"/>
<text x="153.80" y="619.23" font-size="7.2" text-anchor="end" font-weight="normal" font-style="normal" fill="#231f20">0.1</text>
<line x1="156.40" y1="604.98" x2="159.20" y2="604.98" stroke="#231f20" stroke-width="0.8"/>
<text x="153.80" y="607.57" font-size="7.2" text-anchor="end" font-weight="normal" font-style="normal" fill="#231f20">0.2</text>
<line x1="156.40" y1="593.32" x2="159.20" y2="593.32" stroke="#231f20" stroke-width="0.8"/>
<text x="153.80" y="595.91" font-size="7.2" text-anchor="end" font-weight="normal" font-style="normal" fill="#231f20">0.3</text>
<line x1="156.40" y1="581.66" x2="159.20" y2="581.66" stroke="#231f20" stroke-width="0.8"/>
<text x="153.80" y="584.25" font-size="7.2" text-anchor="end" font-weight="normal" font-style="normal" fill="#231f20">0.4</text>
<line x1="156.40" y1="570.00" x2="159.20" y2="570.00" stroke="#231f20" stroke-width="0.8"/>
<text x="153.80" y="572.59" font-size="7.2" text-anchor="end" font-weight="normal" font-style="normal" fill="#231f20">0.5</text>
<line x1="159.20" y1="628.30" x2="217.20" y2="628.30" stroke="#231f20" stroke-width="1.0"/>
<rect x="163.90" y="622.47" width="8.20" height="5.83" fill="#b0d99c"/>
<circle cx="168.16" cy="619.55" r="1.30" fill="#2f9e44"/>
<circle cx="164.63" cy="621.30" r="1.30" fill="#2f9e44"/>
<circle cx="171.01" cy="621.89" r="1.30" fill="#2f9e44"/>
<circle cx="167.88" cy="623.05" r="1.30" fill="#2f9e44"/>
<circle cx="165.55" cy="623.64" r="1.30" fill="#2f9e44"/>
<circle cx="170.86" cy="624.22" r="1.30" fill="#2f9e44"/>
<line x1="168.00" y1="620.14" x2="168.00" y2="624.80" stroke="#2f9e44" stroke-width="0.9"/>
<line x1="165.60" y1="620.14" x2="170.40" y2="620.14" stroke="#2f9e44" stroke-width="0.9"/>
<line x1="165.60" y1="624.80" x2="170.40" y2="624.80" stroke="#2f9e44" stroke-width="0.9"/>
<rect x="177.40" y="627.95" width="8.20" height="0.35" fill="#f39a92"/>
<rect x="180.28" y="625.87" width="2.46" height="2.46" fill="#c8102e"/>
<rect x="176.94" y="625.87" width="2.46" height="2.46" fill="#c8102e"/>
<rect x="183.55" y="625.87" width="2.46" height="2.46" fill="#c8102e"/>
<rect x="178.71" y="625.87" width="2.46" height="2.46" fill="#c8102e"/>
<rect x="181.64" y="625.87" width="2.46" height="2.46" fill="#c8102e"/>
<rect x="177.56" y="625.87" width="2.46" height="2.46" fill="#c8102e"/>
<rect x="183.07" y="625.87" width="2.46" height="2.46" fill="#c8102e"/>
<rect x="190.90" y="613.14" width="8.20" height="15.16" fill="#95a2cc"/>
<polygon points="194.80,579.04 196.25,581.65 193.35,581.65" fill="#1f4b8e"/>
<polygon points="198.26,584.87 199.71,587.48 196.81,587.48" fill="#1f4b8e"/>
<polygon points="192.23,607.03 193.68,609.64 190.78,609.64" fill="#1f4b8e"/>
<polygon points="197.85,619.85 199.30,622.46 196.40,622.46" fill="#1f4b8e"/>
<polygon points="192.13,623.35 193.58,625.96 190.68,625.96" fill="#1f4b8e"/>
<polygon points="197.62,624.52 199.07,627.13 196.17,627.13" fill="#1f4b8e"/>
<polygon points="195.06,625.65 196.51,628.26 193.61,628.26" fill="#1f4b8e"/>
<line x1="195.00" y1="590.99" x2="195.00" y2="628.30" stroke="#1f4b8e" stroke-width="0.9"/>
<line x1="192.60" y1="590.99" x2="197.40" y2="590.99" stroke="#1f4b8e" stroke-width="0.9"/>
<rect x="204.40" y="625.97" width="8.20" height="2.33" fill="#9dd0f2"/>
<polygon points="208.34,621.59 209.79,618.98 206.89,618.98" fill="#3b9fdc"/>
<polygon points="205.18,624.50 206.63,621.89 203.73,621.89" fill="#3b9fdc"/>
<polygon points="211.29,627.42 212.74,624.81 209.84,624.81" fill="#3b9fdc"/>
<polygon points="205.71,628.55 207.16,625.94 204.26,625.94" fill="#3b9fdc"/>
<polygon points="208.49,628.55 209.94,625.94 207.04,625.94" fill="#3b9fdc"/>
<line x1="208.50" y1="621.30" x2="208.50" y2="628.30" stroke="#3b9fdc" stroke-width="0.9"/>
<line x1="206.10" y1="621.30" x2="210.90" y2="621.30" stroke="#3b9fdc" stroke-width="0.9"/>
<line x1="263.20" y1="567.00" x2="263.20" y2="628.30" stroke="#231f20" stroke-width="1.0"/>
<line x1="260.40" y1="628.30" x2="263.20" y2="628.30" stroke="#231f20" stroke-width="0.8"/>
<text x="257.80" y="630.89" font-size="7.2" text-anchor="end" font-weight="normal" font-style="normal" fill="#231f20">0</text>
<line x1="260.40" y1="613.60" x2="263.20" y2="613.60" stroke="#231f20" stroke-width="0.8"/>
<text x="257.80" y="616.19" font-size="7.2" text-anchor="end" font-weight="normal" font-style="normal" fill="#231f20">0.5</text>
<line x1="260.40" y1="598.90" x2="263.20" y2="598.90" stroke="#231f20" stroke-width="0.8"/>
<text x="257.80" y="601.49" font-size="7.2" text-anchor="end" font-weight="normal" font-style="normal" fill="#231f20">1.0</text>
<line x1="260.40" y1="584.20" x2="263.20" y2="584.20" stroke="#231f20" stroke-width="0.8"/>
<text x="257.80" y="586.79" font-size="7.2" text-anchor="end" font-weight="normal" font-style="normal" fill="#231f20">1.5</text>
<line x1="260.40" y1="569.50" x2="263.20" y2="569.50" stroke="#231f20" stroke-width="0.8"/>
<text x="257.80" y="572.09" font-size="7.2" text-anchor="end" font-weight="normal" font-style="normal" fill="#231f20">2.0</text>
<line x1="263.20" y1="628.30" x2="321.20" y2="628.30" stroke="#231f20" stroke-width="1.0"/>
<rect x="267.90" y="603.31" width="8.20" height="24.99" fill="#b0d99c"/>
<circle cx="272.13" cy="592.73" r="1.30" fill="#2f9e44"/>
<circle cx="269.50" cy="600.74" r="1.30" fill="#2f9e44"/>
<circle cx="275.35" cy="604.83" r="1.30" fill="#2f9e44"/>
<circle cx="269.16" cy="608.57" r="1.30" fill="#2f9e44"/>
<circle cx="274.92" cy="609.61" r="1.30" fill="#2f9e44"/>
<circle cx="270.39" cy="613.85" r="1.30" fill="#2f9e44"/>
<line x1="272.00" y1="594.49" x2="272.00" y2="612.13" stroke="#2f9e44" stroke-width="0.9"/>
<line x1="269.60" y1="594.49" x2="274.40" y2="594.49" stroke="#2f9e44" stroke-width="0.9"/>
<line x1="269.60" y1="612.13" x2="274.40" y2="612.13" stroke="#2f9e44" stroke-width="0.9"/>
<rect x="281.40" y="619.48" width="8.20" height="8.82" fill="#f39a92"/>
<rect x="284.36" y="609.43" width="2.46" height="2.46" fill="#c8102e"/>
<rect x="281.37" y="612.98" width="2.46" height="2.46" fill="#c8102e"/>
<rect x="286.98" y="613.11" width="2.46" height="2.46" fill="#c8102e"/>
<rect x="284.35" y="616.89" width="2.46" height="2.46" fill="#c8102e"/>
<rect x="281.00" y="619.56" width="2.46" height="2.46" fill="#c8102e"/>
<rect x="287.64" y="624.98" width="2.46" height="2.46" fill="#c8102e"/>
<rect x="281.40" y="625.87" width="2.46" height="2.46" fill="#c8102e"/>
<line x1="285.50" y1="612.13" x2="285.50" y2="626.83" stroke="#c8102e" stroke-width="0.9"/>
<line x1="283.10" y1="612.13" x2="287.90" y2="612.13" stroke="#c8102e" stroke-width="0.9"/>
<line x1="283.10" y1="626.83" x2="287.90" y2="626.83" stroke="#c8102e" stroke-width="0.9"/>
<rect x="294.90" y="593.61" width="8.20" height="34.69" fill="#95a2cc"/>
<polygon points="298.95,572.75 300.40,575.36 297.50,575.36" fill="#1f4b8e"/>
<polygon points="296.46,581.93 297.91,584.54 295.01,584.54" fill="#1f4b8e"/>
<polygon points="301.90,584.32 303.35,586.93 300.45,586.93" fill="#1f4b8e"/>
<polygon points="296.40,586.03 297.85,588.64 294.95,588.64" fill="#1f4b8e"/>
<polygon points="300.56,588.20 302.01,590.81 299.11,590.81" fill="#1f4b8e"/>
<polygon points="296.52,602.78 297.97,605.39 295.07,605.39" fill="#1f4b8e"/>
<polygon points="301.40,611.56 302.85,614.17 299.95,614.17" fill="#1f4b8e"/>
<line x1="299.00" y1="577.44" x2="299.00" y2="609.78" stroke="#1f4b8e" stroke-width="0.9"/>
<line x1="296.60" y1="577.44" x2="301.40" y2="577.44" stroke="#1f4b8e" stroke-width="0.9"/>
<line x1="296.60" y1="609.78" x2="301.40" y2="609.78" stroke="#1f4b8e" stroke-width="0.9"/>
<rect x="308.40" y="595.96" width="8.20" height="32.34" fill="#9dd0f2"/>
<polygon points="312.61,587.06 314.06,584.45 311.16,584.45" fill="#3b9fdc"/>
<polygon points="310.05,591.54 311.50,588.93 308.60,588.93" fill="#3b9fdc"/>
<polygon points="315.87,591.72 317.32,589.11 314.42,589.11" fill="#3b9fdc"/>
<polygon points="312.61,597.04 314.06,594.43 311.16,594.43" fill="#3b9fdc"/>
<polygon points="312.72,615.05 314.17,612.44 311.27,612.44" fill="#3b9fdc"/>
<line x1="312.50" y1="581.26" x2="312.50" y2="610.66" stroke="#3b9fdc" stroke-width="0.9"/>
<line x1="310.10" y1="581.26" x2="314.90" y2="581.26" stroke="#3b9fdc" stroke-width="0.9"/>
<line x1="310.10" y1="610.66" x2="314.90" y2="610.66" stroke="#3b9fdc" stroke-width="0.9"/>
<polyline points="285.50,610.00 285.50,562.00 312.50,562.00 312.50,578.00" fill="none" stroke="#333" stroke-width="0.8"/>
<path d="M297.75 558.05L297.75 559.95M296.93 558.52L298.57 559.48M298.57 558.52L296.93 559.48" stroke="#2a2a2a" stroke-width="0.9" stroke-linecap="round"/>
<path d="M300.25 558.05L300.25 559.95M299.43 558.52L301.07 559.48M301.07 558.52L299.43 559.48" stroke="#2a2a2a" stroke-width="0.9" stroke-linecap="round"/>
<polyline points="272.00,590.00 272.00,570.00 284.70,570.00 284.70,612.00" fill="none" stroke="#333" stroke-width="0.8"/>
<path d="M278.35 566.05L278.35 567.95M277.53 566.52L279.17 567.48M279.17 566.52L277.53 567.48" stroke="#2a2a2a" stroke-width="0.9" stroke-linecap="round"/>
<polyline points="286.30,612.00 286.30,570.00 299.00,570.00 299.00,575.00" fill="none" stroke="#333" stroke-width="0.8"/>
<path d="M290.15 566.05L290.15 567.95M289.33 566.52L290.97 567.48M290.97 566.52L289.33 567.48" stroke="#2a2a2a" stroke-width="0.9" stroke-linecap="round"/>
<path d="M292.65 566.05L292.65 567.95M291.83 566.52L293.47 567.48M293.47 566.52L291.83 567.48" stroke="#2a2a2a" stroke-width="0.9" stroke-linecap="round"/>
<path d="M295.15 566.05L295.15 567.95M294.33 566.52L295.97 567.48M295.97 566.52L294.33 567.48" stroke="#2a2a2a" stroke-width="0.9" stroke-linecap="round"/>
<line x1="365.80" y1="567.00" x2="365.80" y2="628.30" stroke="#231f20" stroke-width="1.0"/>
<line x1="363.00" y1="628.30" x2="365.80" y2="628.30" stroke="#231f20" stroke-width="0.8"/>
<text x="360.40" y="630.89" font-size="7.2" text-anchor="end" font-weight="normal" font-style="normal" fill="#231f20">0</text>
<line x1="363.00" y1="613.60" x2="365.80" y2="613.60" stroke="#231f20" stroke-width="0.8"/>
<text x="360.40" y="616.19" font-size="7.2" text-anchor="end" font-weight="normal" font-style="normal" fill="#231f20">0.1</text>
<line x1="363.00" y1="598.90" x2="365.80" y2="598.90" stroke="#231f20" stroke-width="0.8"/>
<text x="360.40" y="601.49" font-size="7.2" text-anchor="end" font-weight="normal" font-style="normal" fill="#231f20">0.2</text>
<line x1="363.00" y1="584.20" x2="365.80" y2="584.20" stroke="#231f20" stroke-width="0.8"/>
<text x="360.40" y="586.79" font-size="7.2" text-anchor="end" font-weight="normal" font-style="normal" fill="#231f20">0.3</text>
<line x1="363.00" y1="569.50" x2="365.80" y2="569.50" stroke="#231f20" stroke-width="0.8"/>
<text x="360.40" y="572.09" font-size="7.2" text-anchor="end" font-weight="normal" font-style="normal" fill="#231f20">0.4</text>
<line x1="365.80" y1="628.30" x2="423.80" y2="628.30" stroke="#231f20" stroke-width="1.0"/>
<rect x="370.50" y="607.72" width="8.20" height="20.58" fill="#b0d99c"/>
<circle cx="374.34" cy="596.25" r="1.30" fill="#2f9e44"/>
<circle cx="377.99" cy="601.21" r="1.30" fill="#2f9e44"/>
<circle cx="371.37" cy="602.96" r="1.30" fill="#2f9e44"/>
<circle cx="374.53" cy="603.24" r="1.30" fill="#2f9e44"/>
<circle cx="377.12" cy="607.74" r="1.30" fill="#2f9e44"/>
<circle cx="371.88" cy="619.19" r="1.30" fill="#2f9e44"/>
<line x1="374.60" y1="598.16" x2="374.60" y2="617.27" stroke="#2f9e44" stroke-width="0.9"/>
<line x1="372.20" y1="598.16" x2="377.00" y2="598.16" stroke="#2f9e44" stroke-width="0.9"/>
<line x1="372.20" y1="617.27" x2="377.00" y2="617.27" stroke="#2f9e44" stroke-width="0.9"/>
<rect x="384.00" y="627.56" width="8.20" height="0.74" fill="#f39a92"/>
<rect x="387.02" y="625.80" width="2.46" height="2.46" fill="#c8102e"/>
<rect x="383.86" y="625.87" width="2.46" height="2.46" fill="#c8102e"/>
<rect x="389.95" y="625.87" width="2.46" height="2.46" fill="#c8102e"/>
<rect x="385.64" y="625.87" width="2.46" height="2.46" fill="#c8102e"/>
<rect x="388.14" y="625.87" width="2.46" height="2.46" fill="#c8102e"/>
<rect x="387.16" y="625.87" width="2.46" height="2.46" fill="#c8102e"/>
<rect x="387.13" y="625.87" width="2.46" height="2.46" fill="#c8102e"/>
<rect x="397.50" y="605.51" width="8.20" height="22.78" fill="#95a2cc"/>
<polygon points="401.50,585.93 402.95,588.54 400.05,588.54" fill="#1f4b8e"/>
<polygon points="404.01,597.91 405.46,600.52 402.56,600.52" fill="#1f4b8e"/>
<polygon points="398.33,598.28 399.78,600.89 396.88,600.89" fill="#1f4b8e"/>
<polygon points="401.65,601.30 403.10,603.91 400.20,603.91" fill="#1f4b8e"/>
<polygon points="398.73,601.91 400.18,604.52 397.28,604.52" fill="#1f4b8e"/>
<polygon points="403.99,608.35 405.44,610.96 402.54,610.96" fill="#1f4b8e"/>
<polygon points="398.60,608.68 400.05,611.29 397.15,611.29" fill="#1f4b8e"/>
<line x1="401.60" y1="587.88" x2="401.60" y2="623.15" stroke="#1f4b8e" stroke-width="0.9"/>
<line x1="399.20" y1="587.88" x2="404.00" y2="587.88" stroke="#1f4b8e" stroke-width="0.9"/>
<line x1="399.20" y1="623.15" x2="404.00" y2="623.15" stroke="#1f4b8e" stroke-width="0.9"/>
<rect x="411.00" y="622.42" width="8.20" height="5.88" fill="#9dd0f2"/>
<polygon points="415.25,615.05 416.70,612.44 413.80,612.44" fill="#3b9fdc"/>
<polygon points="412.00,618.34 413.45,615.73 410.55,615.73" fill="#3b9fdc"/>
<polygon points="418.51,621.40 419.96,618.79 417.06,618.79" fill="#3b9fdc"/>
<polygon points="413.68,622.09 415.13,619.48 412.23,619.48" fill="#3b9fdc"/>
<polygon points="417.68,625.41 419.13,622.80 416.23,622.80" fill="#3b9fdc"/>
<line x1="415.10" y1="615.07" x2="415.10" y2="628.30" stroke="#3b9fdc" stroke-width="0.9"/>
<line x1="412.70" y1="615.07" x2="417.50" y2="615.07" stroke="#3b9fdc" stroke-width="0.9"/>
<polyline points="374.60,592.00 374.60,572.50 387.30,572.50 387.30,624.00" fill="none" stroke="#333" stroke-width="0.8"/>
<path d="M379.70 568.55L379.70 570.45M378.88 569.02L380.52 569.98M380.52 569.02L378.88 569.98" stroke="#2a2a2a" stroke-width="0.9" stroke-linecap="round"/>
<path d="M382.20 568.55L382.20 570.45M381.38 569.02L383.02 569.98M383.02 569.02L381.38 569.98" stroke="#2a2a2a" stroke-width="0.9" stroke-linecap="round"/>
<polyline points="388.90,624.00 388.90,572.50 401.60,572.50 401.60,580.00" fill="none" stroke="#333" stroke-width="0.8"/>
<path d="M394.00 568.55L394.00 570.45M393.18 569.02L394.82 569.98M394.82 569.02L393.18 569.98" stroke="#2a2a2a" stroke-width="0.9" stroke-linecap="round"/>
<path d="M396.50 568.55L396.50 570.45M395.68 569.02L397.32 569.98M397.32 569.02L395.68 569.98" stroke="#2a2a2a" stroke-width="0.9" stroke-linecap="round"/>
<polyline points="402.20,580.00 402.20,572.50 415.10,572.50 415.10,612.00" fill="none" stroke="#333" stroke-width="0.8"/>
<path d="M408.65 568.55L408.65 570.45M407.83 569.02L409.47 569.98M409.47 569.02L407.83 569.98" stroke="#2a2a2a" stroke-width="0.9" stroke-linecap="round"/>
<circle cx="433.00" cy="394.40" r="2.61" fill="#2f9e44"/>
<text x="438.60" y="397.20" font-size="7.8" text-anchor="start" font-weight="normal" font-style="italic" fill="#231f20">Yy1<tspan baseline-shift="2.8" font-size="5.0">+/+</tspan><tspan font-style="normal">, n = 6</tspan></text>
<rect x="430.54" y="403.54" width="4.93" height="4.93" fill="#c8102e"/>
<text x="438.60" y="408.80" font-size="7.8" text-anchor="start" font-weight="normal" font-style="italic" fill="#231f20">Yy1<tspan baseline-shift="2.8" font-size="5.0">&#8722;/&#8722;</tspan><tspan font-style="normal">, n = 7</tspan></text>
<polygon points="433.00,415.10 435.90,420.32 430.10,420.32" fill="#1f4b8e"/>
<text x="438.60" y="420.80" font-size="7.8" text-anchor="start" font-weight="normal" font-style="italic" fill="#231f20">Smc3<tspan baseline-shift="2.8" font-size="5.0">+/&#8722;</tspan><tspan font-style="normal">, n = 7</tspan></text>
<polygon points="433.00,432.50 435.90,427.28 430.10,427.28" fill="#3b9fdc"/>
<text x="438.60" y="432.40" font-size="7.8" text-anchor="start" font-weight="normal" font-style="italic" fill="#231f20">Yy1<tspan baseline-shift="2.8" font-size="5.0">&#8722;/&#8722;</tspan>Smc3<tspan baseline-shift="2.8" font-size="5.0">+/&#8722;</tspan><tspan font-style="normal">, n = 5</tspan></text>
<rect x="0.5" y="0.5" width="519" height="638" fill="none" stroke="#4a4a4a" stroke-width="1.2"/></svg></body></html>
